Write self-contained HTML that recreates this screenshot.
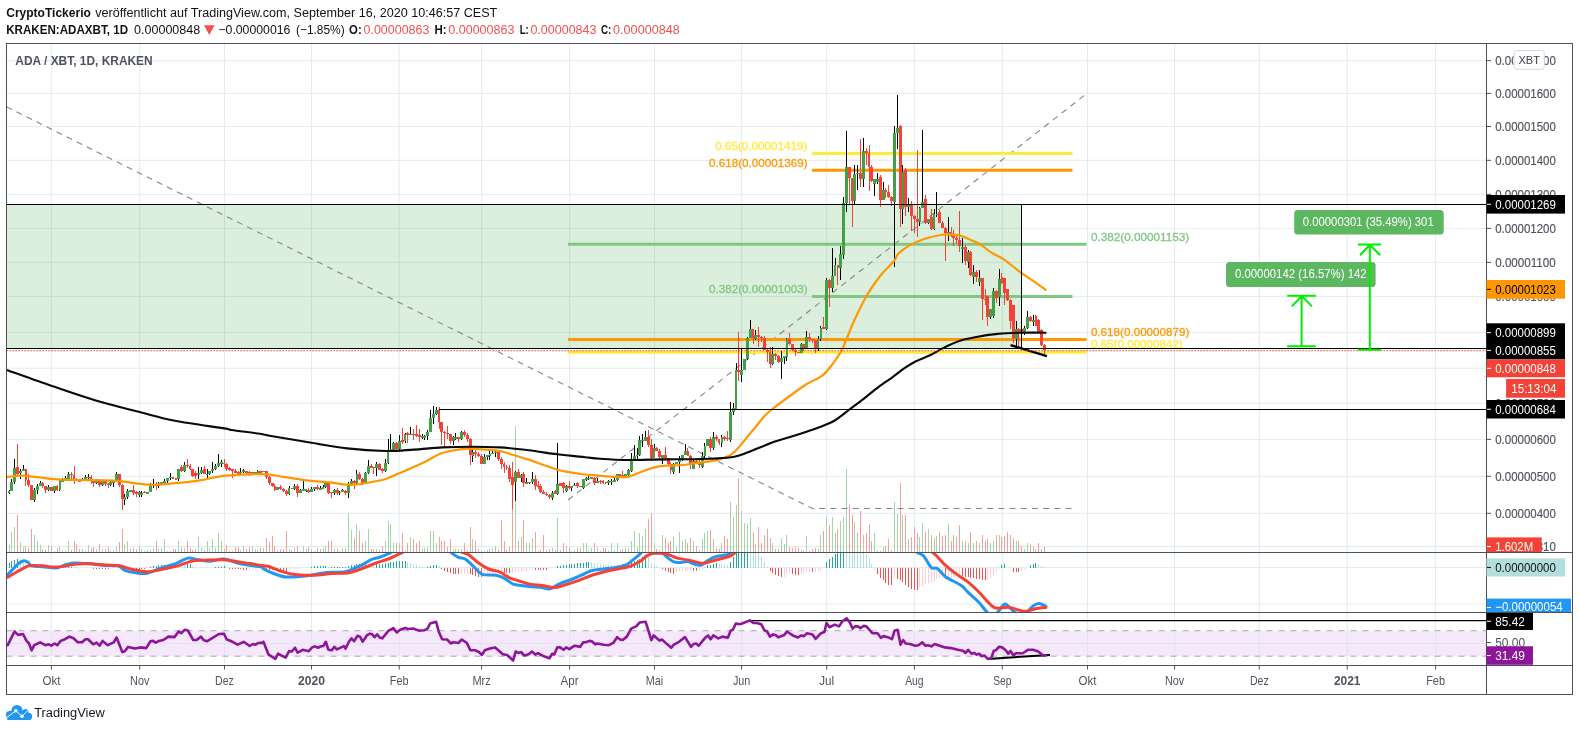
<!DOCTYPE html><html><head><meta charset="utf-8"><title>ADA / XBT</title>
<style>html,body{margin:0;padding:0;background:#fff;}body{width:1579px;height:731px;overflow:hidden;font-family:"Liberation Sans", sans-serif;}svg{display:block;font-family:"Liberation Sans", sans-serif;will-change:transform;}</style></head><body>
<svg width="1579" height="731" viewBox="0 0 1579 731">
<rect width="1579" height="731" fill="#fff"/>
<defs>
<clipPath id="cm"><rect x="6.5" y="43.5" width="1480.0" height="509.0"/></clipPath>
<clipPath id="cmacd"><rect x="6.5" y="553.0" width="1480.0" height="59.0"/></clipPath>
<clipPath id="crsi"><rect x="6.5" y="613.0" width="1480.0" height="52.0"/></clipPath>
</defs>
<text x="6.2" y="16.6" font-size="12.5" fill="#111" font-weight="bold" text-anchor="start" textLength="84.7" lengthAdjust="spacingAndGlyphs" >CryptoTickerio</text>
<text x="95.3" y="16.6" font-size="12.5" fill="#111" font-weight="normal" text-anchor="start" textLength="402" lengthAdjust="spacingAndGlyphs" >veröffentlicht auf TradingView.com, September 16, 2020 10:46:57 CEST</text>
<text x="6.2" y="33.7" font-size="12.5" fill="#111" font-weight="bold" text-anchor="start" textLength="121.9" lengthAdjust="spacingAndGlyphs" >KRAKEN:ADAXBT, 1D</text>
<text x="134.1" y="33.7" font-size="12.5" fill="#111" font-weight="normal" text-anchor="start" textLength="66.1" lengthAdjust="spacingAndGlyphs" >0.00000848</text>
<path d="M204,25.2 L214.6,25.2 L209.3,35 Z" fill="#ef5350"/>
<text x="218.4" y="33.7" font-size="12.5" fill="#111" font-weight="normal" text-anchor="start" textLength="72" lengthAdjust="spacingAndGlyphs" >−0.00000016</text>
<text x="296" y="33.7" font-size="12.5" fill="#111" font-weight="normal" text-anchor="start" textLength="48.7" lengthAdjust="spacingAndGlyphs" >(−1.85%)</text>
<text x="349.1" y="33.7" font-size="12.5" fill="#111" font-weight="bold" text-anchor="start" textLength="12.6" lengthAdjust="spacingAndGlyphs" >O:</text>
<text x="363.5" y="33.7" font-size="12.5" fill="#ef5350" font-weight="normal" text-anchor="start" textLength="65.9" lengthAdjust="spacingAndGlyphs" >0.00000863</text>
<text x="434.6" y="33.7" font-size="12.5" fill="#111" font-weight="bold" text-anchor="start" textLength="12.1" lengthAdjust="spacingAndGlyphs" >H:</text>
<text x="448.3" y="33.7" font-size="12.5" fill="#ef5350" font-weight="normal" text-anchor="start" textLength="66.1" lengthAdjust="spacingAndGlyphs" >0.00000863</text>
<text x="519.7" y="33.7" font-size="12.5" fill="#111" font-weight="bold" text-anchor="start" textLength="9.1" lengthAdjust="spacingAndGlyphs" >L:</text>
<text x="530.4" y="33.7" font-size="12.5" fill="#ef5350" font-weight="normal" text-anchor="start" textLength="66.1" lengthAdjust="spacingAndGlyphs" >0.00000843</text>
<text x="601" y="33.7" font-size="12.5" fill="#111" font-weight="bold" text-anchor="start" textLength="10.3" lengthAdjust="spacingAndGlyphs" >C:</text>
<text x="613.1" y="33.7" font-size="12.5" fill="#ef5350" font-weight="normal" text-anchor="start" textLength="66.6" lengthAdjust="spacingAndGlyphs" >0.00000848</text>
<g stroke="#e1ecf2" stroke-width="1" fill="none">
<line x1="51.4" y1="43.5" x2="51.4" y2="665.5"/>
<line x1="139.7" y1="43.5" x2="139.7" y2="665.5"/>
<line x1="224.5" y1="43.5" x2="224.5" y2="665.5"/>
<line x1="311.5" y1="43.5" x2="311.5" y2="665.5"/>
<line x1="399.2" y1="43.5" x2="399.2" y2="665.5"/>
<line x1="481.6" y1="43.5" x2="481.6" y2="665.5"/>
<line x1="569.6" y1="43.5" x2="569.6" y2="665.5"/>
<line x1="654.5" y1="43.5" x2="654.5" y2="665.5"/>
<line x1="741.6" y1="43.5" x2="741.6" y2="665.5"/>
<line x1="826.7" y1="43.5" x2="826.7" y2="665.5"/>
<line x1="914.4" y1="43.5" x2="914.4" y2="665.5"/>
<line x1="1002.3" y1="43.5" x2="1002.3" y2="665.5"/>
<line x1="1087.5" y1="43.5" x2="1087.5" y2="665.5"/>
<line x1="1174.6" y1="43.5" x2="1174.6" y2="665.5"/>
<line x1="1259.3" y1="43.5" x2="1259.3" y2="665.5"/>
<line x1="1347.2" y1="43.5" x2="1347.2" y2="665.5"/>
<line x1="1435.6" y1="43.5" x2="1435.6" y2="665.5"/>
<line x1="6.5" y1="60.6" x2="1486.5" y2="60.6"/>
<line x1="6.5" y1="93.4" x2="1486.5" y2="93.4"/>
<line x1="6.5" y1="126.5" x2="1486.5" y2="126.5"/>
<line x1="6.5" y1="160.3" x2="1486.5" y2="160.3"/>
<line x1="6.5" y1="194.4" x2="1486.5" y2="194.4"/>
<line x1="6.5" y1="228.4" x2="1486.5" y2="228.4"/>
<line x1="6.5" y1="262.4" x2="1486.5" y2="262.4"/>
<line x1="6.5" y1="296.6" x2="1486.5" y2="296.6"/>
<line x1="6.5" y1="332.3" x2="1486.5" y2="332.3"/>
<line x1="6.5" y1="368.2" x2="1486.5" y2="368.2"/>
<line x1="6.5" y1="403.3" x2="1486.5" y2="403.3"/>
<line x1="6.5" y1="439.4" x2="1486.5" y2="439.4"/>
<line x1="6.5" y1="476.3" x2="1486.5" y2="476.3"/>
<line x1="6.5" y1="513.3" x2="1486.5" y2="513.3"/>
<line x1="6.5" y1="546.5" x2="1486.5" y2="546.5"/>
<line x1="6.5" y1="567.5" x2="1486.5" y2="567.5"/>
<line x1="6.5" y1="604" x2="1486.5" y2="604"/>
<line x1="6.5" y1="643.5" x2="1486.5" y2="643.5"/>
</g>
<rect x="6.5" y="630.7" width="1480.0" height="25.5" fill="#f4e8fa"/>
<g stroke="#d5dfea" stroke-width="1" opacity="0.55">
<line x1="51.4" y1="630.7" x2="51.4" y2="656.2"/>
<line x1="139.7" y1="630.7" x2="139.7" y2="656.2"/>
<line x1="224.5" y1="630.7" x2="224.5" y2="656.2"/>
<line x1="311.5" y1="630.7" x2="311.5" y2="656.2"/>
<line x1="399.2" y1="630.7" x2="399.2" y2="656.2"/>
<line x1="481.6" y1="630.7" x2="481.6" y2="656.2"/>
<line x1="569.6" y1="630.7" x2="569.6" y2="656.2"/>
<line x1="654.5" y1="630.7" x2="654.5" y2="656.2"/>
<line x1="741.6" y1="630.7" x2="741.6" y2="656.2"/>
<line x1="826.7" y1="630.7" x2="826.7" y2="656.2"/>
<line x1="914.4" y1="630.7" x2="914.4" y2="656.2"/>
<line x1="1002.3" y1="630.7" x2="1002.3" y2="656.2"/>
<line x1="1087.5" y1="630.7" x2="1087.5" y2="656.2"/>
<line x1="1174.6" y1="630.7" x2="1174.6" y2="656.2"/>
<line x1="1259.3" y1="630.7" x2="1259.3" y2="656.2"/>
<line x1="1347.2" y1="630.7" x2="1347.2" y2="656.2"/>
<line x1="1435.6" y1="630.7" x2="1435.6" y2="656.2"/>
<line x1="6.5" y1="643.5" x2="1486.5" y2="643.5"/>
</g>
<g stroke="#a9a9b0" stroke-width="1" stroke-dasharray="6,6">
<line x1="6.5" y1="630.7" x2="1486.5" y2="630.7"/><line x1="6.5" y1="656.2" x2="1486.5" y2="656.2"/>
</g>
<rect x="6.5" y="204.5" width="1015.1" height="144" fill="#4caf50" fill-opacity="0.2"/>
<g clip-path="url(#cm)" stroke-width="1" shape-rendering="crispEdges">
<line x1="9" y1="544.81" x2="9" y2="552.5" stroke="#a5d6a7"/>
<line x1="11.83" y1="532.32" x2="11.83" y2="552.5" stroke="#a5d6a7"/>
<line x1="14.66" y1="526.51" x2="14.66" y2="552.5" stroke="#a5d6a7"/>
<line x1="17.49" y1="515.39" x2="17.49" y2="552.5" stroke="#f4a19b"/>
<line x1="20.32" y1="542.24" x2="20.32" y2="552.5" stroke="#a5d6a7"/>
<line x1="23.15" y1="546.52" x2="23.15" y2="552.5" stroke="#a5d6a7"/>
<line x1="25.97" y1="545.66" x2="25.97" y2="552.5" stroke="#f4a19b"/>
<line x1="28.8" y1="547.71" x2="28.8" y2="552.5" stroke="#f4a19b"/>
<line x1="31.63" y1="529.42" x2="31.63" y2="552.5" stroke="#f4a19b"/>
<line x1="34.46" y1="534.55" x2="34.46" y2="552.5" stroke="#a5d6a7"/>
<line x1="37.29" y1="540.53" x2="37.29" y2="552.5" stroke="#a5d6a7"/>
<line x1="40.12" y1="544.81" x2="40.12" y2="552.5" stroke="#a5d6a7"/>
<line x1="42.95" y1="548.5" x2="42.95" y2="552.5" stroke="#f4a19b"/>
<line x1="45.78" y1="549.5" x2="45.78" y2="552.5" stroke="#f4a19b"/>
<line x1="48.61" y1="544.81" x2="48.61" y2="552.5" stroke="#a5d6a7"/>
<line x1="51.44" y1="545.5" x2="51.44" y2="552.5" stroke="#f4a19b"/>
<line x1="54.26" y1="550.5" x2="54.26" y2="552.5" stroke="#a5d6a7"/>
<line x1="57.09" y1="547.5" x2="57.09" y2="552.5" stroke="#f4a19b"/>
<line x1="59.92" y1="546.5" x2="59.92" y2="552.5" stroke="#a5d6a7"/>
<line x1="62.75" y1="549.5" x2="62.75" y2="552.5" stroke="#a5d6a7"/>
<line x1="65.58" y1="550.5" x2="65.58" y2="552.5" stroke="#a5d6a7"/>
<line x1="68.41" y1="540.53" x2="68.41" y2="552.5" stroke="#a5d6a7"/>
<line x1="71.24" y1="549.5" x2="71.24" y2="552.5" stroke="#f4a19b"/>
<line x1="74.07" y1="540.53" x2="74.07" y2="552.5" stroke="#f4a19b"/>
<line x1="76.9" y1="543.61" x2="76.9" y2="552.5" stroke="#f4a19b"/>
<line x1="79.73" y1="548.5" x2="79.73" y2="552.5" stroke="#f4a19b"/>
<line x1="82.55" y1="548.5" x2="82.55" y2="552.5" stroke="#a5d6a7"/>
<line x1="85.38" y1="550.5" x2="85.38" y2="552.5" stroke="#a5d6a7"/>
<line x1="88.21" y1="544.81" x2="88.21" y2="552.5" stroke="#a5d6a7"/>
<line x1="91.04" y1="547.5" x2="91.04" y2="552.5" stroke="#f4a19b"/>
<line x1="93.87" y1="546.5" x2="93.87" y2="552.5" stroke="#f4a19b"/>
<line x1="96.7" y1="548.5" x2="96.7" y2="552.5" stroke="#a5d6a7"/>
<line x1="99.53" y1="543.61" x2="99.53" y2="552.5" stroke="#f4a19b"/>
<line x1="102.36" y1="548.5" x2="102.36" y2="552.5" stroke="#a5d6a7"/>
<line x1="105.19" y1="548.5" x2="105.19" y2="552.5" stroke="#f4a19b"/>
<line x1="108.02" y1="546.5" x2="108.02" y2="552.5" stroke="#f4a19b"/>
<line x1="110.84" y1="550.5" x2="110.84" y2="552.5" stroke="#a5d6a7"/>
<line x1="113.67" y1="549.5" x2="113.67" y2="552.5" stroke="#a5d6a7"/>
<line x1="116.5" y1="546.5" x2="116.5" y2="552.5" stroke="#a5d6a7"/>
<line x1="119.33" y1="542.24" x2="119.33" y2="552.5" stroke="#f4a19b"/>
<line x1="122.16" y1="529.42" x2="122.16" y2="552.5" stroke="#f4a19b"/>
<line x1="124.99" y1="544.81" x2="124.99" y2="552.5" stroke="#a5d6a7"/>
<line x1="127.82" y1="541.39" x2="127.82" y2="552.5" stroke="#a5d6a7"/>
<line x1="130.65" y1="548.5" x2="130.65" y2="552.5" stroke="#a5d6a7"/>
<line x1="133.48" y1="547.5" x2="133.48" y2="552.5" stroke="#f4a19b"/>
<line x1="136.31" y1="548.5" x2="136.31" y2="552.5" stroke="#f4a19b"/>
<line x1="139.13" y1="545.5" x2="139.13" y2="552.5" stroke="#a5d6a7"/>
<line x1="141.96" y1="548.5" x2="141.96" y2="552.5" stroke="#a5d6a7"/>
<line x1="144.79" y1="550.5" x2="144.79" y2="552.5" stroke="#f4a19b"/>
<line x1="147.62" y1="549.5" x2="147.62" y2="552.5" stroke="#a5d6a7"/>
<line x1="150.45" y1="549.5" x2="150.45" y2="552.5" stroke="#a5d6a7"/>
<line x1="153.28" y1="547.5" x2="153.28" y2="552.5" stroke="#a5d6a7"/>
<line x1="156.11" y1="541.39" x2="156.11" y2="552.5" stroke="#f4a19b"/>
<line x1="158.94" y1="548.5" x2="158.94" y2="552.5" stroke="#a5d6a7"/>
<line x1="161.77" y1="547.5" x2="161.77" y2="552.5" stroke="#a5d6a7"/>
<line x1="164.59" y1="539.33" x2="164.59" y2="552.5" stroke="#a5d6a7"/>
<line x1="167.42" y1="550.5" x2="167.42" y2="552.5" stroke="#a5d6a7"/>
<line x1="170.25" y1="550.5" x2="170.25" y2="552.5" stroke="#a5d6a7"/>
<line x1="173.08" y1="548.5" x2="173.08" y2="552.5" stroke="#f4a19b"/>
<line x1="175.91" y1="548.5" x2="175.91" y2="552.5" stroke="#f4a19b"/>
<line x1="178.74" y1="540.53" x2="178.74" y2="552.5" stroke="#a5d6a7"/>
<line x1="181.57" y1="546.5" x2="181.57" y2="552.5" stroke="#f4a19b"/>
<line x1="184.4" y1="547.5" x2="184.4" y2="552.5" stroke="#a5d6a7"/>
<line x1="187.23" y1="540.53" x2="187.23" y2="552.5" stroke="#f4a19b"/>
<line x1="190.06" y1="547.5" x2="190.06" y2="552.5" stroke="#f4a19b"/>
<line x1="192.89" y1="549.5" x2="192.89" y2="552.5" stroke="#f4a19b"/>
<line x1="195.71" y1="548.5" x2="195.71" y2="552.5" stroke="#f4a19b"/>
<line x1="198.54" y1="537.45" x2="198.54" y2="552.5" stroke="#a5d6a7"/>
<line x1="201.37" y1="547.5" x2="201.37" y2="552.5" stroke="#a5d6a7"/>
<line x1="204.2" y1="549.5" x2="204.2" y2="552.5" stroke="#f4a19b"/>
<line x1="207.03" y1="541.39" x2="207.03" y2="552.5" stroke="#a5d6a7"/>
<line x1="209.86" y1="547.5" x2="209.86" y2="552.5" stroke="#a5d6a7"/>
<line x1="212.69" y1="539.33" x2="212.69" y2="552.5" stroke="#a5d6a7"/>
<line x1="215.52" y1="547.5" x2="215.52" y2="552.5" stroke="#a5d6a7"/>
<line x1="218.35" y1="533.35" x2="218.35" y2="552.5" stroke="#a5d6a7"/>
<line x1="221.18" y1="540.53" x2="221.18" y2="552.5" stroke="#a5d6a7"/>
<line x1="224" y1="548.5" x2="224" y2="552.5" stroke="#f4a19b"/>
<line x1="226.83" y1="544.81" x2="226.83" y2="552.5" stroke="#f4a19b"/>
<line x1="229.66" y1="550.5" x2="229.66" y2="552.5" stroke="#f4a19b"/>
<line x1="232.49" y1="550.5" x2="232.49" y2="552.5" stroke="#f4a19b"/>
<line x1="235.32" y1="546.5" x2="235.32" y2="552.5" stroke="#f4a19b"/>
<line x1="238.15" y1="546.5" x2="238.15" y2="552.5" stroke="#f4a19b"/>
<line x1="240.98" y1="549.5" x2="240.98" y2="552.5" stroke="#a5d6a7"/>
<line x1="243.81" y1="545.5" x2="243.81" y2="552.5" stroke="#a5d6a7"/>
<line x1="246.64" y1="548.5" x2="246.64" y2="552.5" stroke="#f4a19b"/>
<line x1="249.47" y1="546.5" x2="249.47" y2="552.5" stroke="#f4a19b"/>
<line x1="252.29" y1="545.5" x2="252.29" y2="552.5" stroke="#a5d6a7"/>
<line x1="255.12" y1="548.5" x2="255.12" y2="552.5" stroke="#a5d6a7"/>
<line x1="257.95" y1="549.5" x2="257.95" y2="552.5" stroke="#a5d6a7"/>
<line x1="260.78" y1="547.5" x2="260.78" y2="552.5" stroke="#f4a19b"/>
<line x1="263.61" y1="547.5" x2="263.61" y2="552.5" stroke="#a5d6a7"/>
<line x1="266.44" y1="538.48" x2="266.44" y2="552.5" stroke="#f4a19b"/>
<line x1="269.27" y1="542.24" x2="269.27" y2="552.5" stroke="#f4a19b"/>
<line x1="272.1" y1="536.26" x2="272.1" y2="552.5" stroke="#f4a19b"/>
<line x1="274.93" y1="545.66" x2="274.93" y2="552.5" stroke="#f4a19b"/>
<line x1="277.75" y1="550.5" x2="277.75" y2="552.5" stroke="#a5d6a7"/>
<line x1="280.58" y1="548.5" x2="280.58" y2="552.5" stroke="#f4a19b"/>
<line x1="283.41" y1="548.5" x2="283.41" y2="552.5" stroke="#f4a19b"/>
<line x1="286.24" y1="531.47" x2="286.24" y2="552.5" stroke="#f4a19b"/>
<line x1="289.07" y1="548.5" x2="289.07" y2="552.5" stroke="#a5d6a7"/>
<line x1="291.9" y1="549.5" x2="291.9" y2="552.5" stroke="#f4a19b"/>
<line x1="294.73" y1="547.5" x2="294.73" y2="552.5" stroke="#a5d6a7"/>
<line x1="297.56" y1="545.66" x2="297.56" y2="552.5" stroke="#f4a19b"/>
<line x1="300.39" y1="550.5" x2="300.39" y2="552.5" stroke="#a5d6a7"/>
<line x1="303.22" y1="545.66" x2="303.22" y2="552.5" stroke="#a5d6a7"/>
<line x1="306.05" y1="548.5" x2="306.05" y2="552.5" stroke="#a5d6a7"/>
<line x1="308.87" y1="546.5" x2="308.87" y2="552.5" stroke="#f4a19b"/>
<line x1="311.7" y1="548.5" x2="311.7" y2="552.5" stroke="#a5d6a7"/>
<line x1="314.53" y1="550.5" x2="314.53" y2="552.5" stroke="#a5d6a7"/>
<line x1="317.36" y1="547.5" x2="317.36" y2="552.5" stroke="#f4a19b"/>
<line x1="320.19" y1="548.5" x2="320.19" y2="552.5" stroke="#a5d6a7"/>
<line x1="323.02" y1="547.5" x2="323.02" y2="552.5" stroke="#a5d6a7"/>
<line x1="325.85" y1="545.66" x2="325.85" y2="552.5" stroke="#a5d6a7"/>
<line x1="328.68" y1="540.53" x2="328.68" y2="552.5" stroke="#f4a19b"/>
<line x1="331.51" y1="540.53" x2="331.51" y2="552.5" stroke="#f4a19b"/>
<line x1="334.34" y1="548.5" x2="334.34" y2="552.5" stroke="#a5d6a7"/>
<line x1="337.16" y1="548.5" x2="337.16" y2="552.5" stroke="#f4a19b"/>
<line x1="339.99" y1="550.5" x2="339.99" y2="552.5" stroke="#a5d6a7"/>
<line x1="342.82" y1="547.5" x2="342.82" y2="552.5" stroke="#a5d6a7"/>
<line x1="345.65" y1="547.5" x2="345.65" y2="552.5" stroke="#f4a19b"/>
<line x1="348.48" y1="513.17" x2="348.48" y2="552.5" stroke="#a5d6a7"/>
<line x1="351.31" y1="530.27" x2="351.31" y2="552.5" stroke="#a5d6a7"/>
<line x1="354.14" y1="538.48" x2="354.14" y2="552.5" stroke="#f4a19b"/>
<line x1="356.97" y1="524.29" x2="356.97" y2="552.5" stroke="#a5d6a7"/>
<line x1="359.8" y1="531.47" x2="359.8" y2="552.5" stroke="#f4a19b"/>
<line x1="362.62" y1="543.44" x2="362.62" y2="552.5" stroke="#f4a19b"/>
<line x1="365.45" y1="540.53" x2="365.45" y2="552.5" stroke="#a5d6a7"/>
<line x1="368.28" y1="529.42" x2="368.28" y2="552.5" stroke="#a5d6a7"/>
<line x1="371.11" y1="548.5" x2="371.11" y2="552.5" stroke="#f4a19b"/>
<line x1="373.94" y1="548.5" x2="373.94" y2="552.5" stroke="#f4a19b"/>
<line x1="376.77" y1="548.5" x2="376.77" y2="552.5" stroke="#a5d6a7"/>
<line x1="379.6" y1="549.5" x2="379.6" y2="552.5" stroke="#f4a19b"/>
<line x1="382.43" y1="545.5" x2="382.43" y2="552.5" stroke="#f4a19b"/>
<line x1="385.26" y1="540.53" x2="385.26" y2="552.5" stroke="#a5d6a7"/>
<line x1="388.09" y1="521.38" x2="388.09" y2="552.5" stroke="#a5d6a7"/>
<line x1="390.92" y1="524.29" x2="390.92" y2="552.5" stroke="#a5d6a7"/>
<line x1="393.74" y1="542.58" x2="393.74" y2="552.5" stroke="#a5d6a7"/>
<line x1="396.57" y1="543.44" x2="396.57" y2="552.5" stroke="#f4a19b"/>
<line x1="399.4" y1="543.44" x2="399.4" y2="552.5" stroke="#a5d6a7"/>
<line x1="402.23" y1="533.35" x2="402.23" y2="552.5" stroke="#f4a19b"/>
<line x1="405.06" y1="549.5" x2="405.06" y2="552.5" stroke="#a5d6a7"/>
<line x1="407.89" y1="542.58" x2="407.89" y2="552.5" stroke="#f4a19b"/>
<line x1="410.72" y1="537.45" x2="410.72" y2="552.5" stroke="#a5d6a7"/>
<line x1="413.55" y1="539.33" x2="413.55" y2="552.5" stroke="#f4a19b"/>
<line x1="416.38" y1="542.58" x2="416.38" y2="552.5" stroke="#f4a19b"/>
<line x1="419.21" y1="540.53" x2="419.21" y2="552.5" stroke="#f4a19b"/>
<line x1="422.03" y1="548.5" x2="422.03" y2="552.5" stroke="#a5d6a7"/>
<line x1="424.86" y1="547.5" x2="424.86" y2="552.5" stroke="#a5d6a7"/>
<line x1="427.69" y1="546.5" x2="427.69" y2="552.5" stroke="#a5d6a7"/>
<line x1="430.52" y1="531.47" x2="430.52" y2="552.5" stroke="#a5d6a7"/>
<line x1="433.35" y1="531.47" x2="433.35" y2="552.5" stroke="#a5d6a7"/>
<line x1="436.18" y1="543.44" x2="436.18" y2="552.5" stroke="#a5d6a7"/>
<line x1="439.01" y1="537.45" x2="439.01" y2="552.5" stroke="#f4a19b"/>
<line x1="441.84" y1="540.53" x2="441.84" y2="552.5" stroke="#f4a19b"/>
<line x1="444.67" y1="541.39" x2="444.67" y2="552.5" stroke="#f4a19b"/>
<line x1="447.5" y1="546.5" x2="447.5" y2="552.5" stroke="#f4a19b"/>
<line x1="450.32" y1="539.33" x2="450.32" y2="552.5" stroke="#f4a19b"/>
<line x1="453.15" y1="549.5" x2="453.15" y2="552.5" stroke="#a5d6a7"/>
<line x1="455.98" y1="548.5" x2="455.98" y2="552.5" stroke="#a5d6a7"/>
<line x1="458.81" y1="548.5" x2="458.81" y2="552.5" stroke="#f4a19b"/>
<line x1="461.64" y1="548.5" x2="461.64" y2="552.5" stroke="#a5d6a7"/>
<line x1="464.47" y1="543.44" x2="464.47" y2="552.5" stroke="#f4a19b"/>
<line x1="467.3" y1="549.5" x2="467.3" y2="552.5" stroke="#f4a19b"/>
<line x1="470.13" y1="526.51" x2="470.13" y2="552.5" stroke="#f4a19b"/>
<line x1="472.96" y1="539.33" x2="472.96" y2="552.5" stroke="#a5d6a7"/>
<line x1="475.79" y1="541.39" x2="475.79" y2="552.5" stroke="#f4a19b"/>
<line x1="478.61" y1="548.5" x2="478.61" y2="552.5" stroke="#f4a19b"/>
<line x1="481.44" y1="550.5" x2="481.44" y2="552.5" stroke="#f4a19b"/>
<line x1="484.27" y1="550.5" x2="484.27" y2="552.5" stroke="#a5d6a7"/>
<line x1="487.1" y1="549.5" x2="487.1" y2="552.5" stroke="#a5d6a7"/>
<line x1="489.93" y1="548.5" x2="489.93" y2="552.5" stroke="#a5d6a7"/>
<line x1="492.76" y1="547.5" x2="492.76" y2="552.5" stroke="#a5d6a7"/>
<line x1="495.59" y1="545.5" x2="495.59" y2="552.5" stroke="#a5d6a7"/>
<line x1="498.42" y1="549.5" x2="498.42" y2="552.5" stroke="#f4a19b"/>
<line x1="501.25" y1="520.35" x2="501.25" y2="552.5" stroke="#f4a19b"/>
<line x1="504.08" y1="540.53" x2="504.08" y2="552.5" stroke="#f4a19b"/>
<line x1="506.9" y1="549.5" x2="506.9" y2="552.5" stroke="#f4a19b"/>
<line x1="509.73" y1="546.5" x2="509.73" y2="552.5" stroke="#f4a19b"/>
<line x1="512.56" y1="484.1" x2="512.56" y2="552.5" stroke="#f4a19b"/>
<line x1="515.39" y1="425.62" x2="515.39" y2="552.5" stroke="#a5d6a7"/>
<line x1="518.22" y1="541.39" x2="518.22" y2="552.5" stroke="#f4a19b"/>
<line x1="521.05" y1="537.45" x2="521.05" y2="552.5" stroke="#a5d6a7"/>
<line x1="523.88" y1="520.35" x2="523.88" y2="552.5" stroke="#f4a19b"/>
<line x1="526.71" y1="542.58" x2="526.71" y2="552.5" stroke="#a5d6a7"/>
<line x1="529.54" y1="543.44" x2="529.54" y2="552.5" stroke="#a5d6a7"/>
<line x1="532.37" y1="538.48" x2="532.37" y2="552.5" stroke="#a5d6a7"/>
<line x1="535.19" y1="532.32" x2="535.19" y2="552.5" stroke="#f4a19b"/>
<line x1="538.02" y1="550.5" x2="538.02" y2="552.5" stroke="#f4a19b"/>
<line x1="540.85" y1="549.5" x2="540.85" y2="552.5" stroke="#f4a19b"/>
<line x1="543.68" y1="535.4" x2="543.68" y2="552.5" stroke="#f4a19b"/>
<line x1="546.51" y1="549.5" x2="546.51" y2="552.5" stroke="#f4a19b"/>
<line x1="549.34" y1="548.5" x2="549.34" y2="552.5" stroke="#f4a19b"/>
<line x1="552.17" y1="547.5" x2="552.17" y2="552.5" stroke="#a5d6a7"/>
<line x1="555" y1="549.5" x2="555" y2="552.5" stroke="#f4a19b"/>
<line x1="557.83" y1="518.3" x2="557.83" y2="552.5" stroke="#a5d6a7"/>
<line x1="560.66" y1="549.5" x2="560.66" y2="552.5" stroke="#f4a19b"/>
<line x1="563.48" y1="542.58" x2="563.48" y2="552.5" stroke="#f4a19b"/>
<line x1="566.31" y1="545.5" x2="566.31" y2="552.5" stroke="#a5d6a7"/>
<line x1="569.14" y1="547.5" x2="569.14" y2="552.5" stroke="#f4a19b"/>
<line x1="571.97" y1="550.5" x2="571.97" y2="552.5" stroke="#a5d6a7"/>
<line x1="574.8" y1="549.5" x2="574.8" y2="552.5" stroke="#a5d6a7"/>
<line x1="577.63" y1="547.5" x2="577.63" y2="552.5" stroke="#f4a19b"/>
<line x1="580.46" y1="547.5" x2="580.46" y2="552.5" stroke="#f4a19b"/>
<line x1="583.29" y1="542.58" x2="583.29" y2="552.5" stroke="#a5d6a7"/>
<line x1="586.12" y1="542.58" x2="586.12" y2="552.5" stroke="#a5d6a7"/>
<line x1="588.95" y1="549.5" x2="588.95" y2="552.5" stroke="#a5d6a7"/>
<line x1="591.77" y1="547.5" x2="591.77" y2="552.5" stroke="#a5d6a7"/>
<line x1="594.6" y1="543.44" x2="594.6" y2="552.5" stroke="#f4a19b"/>
<line x1="597.43" y1="546.5" x2="597.43" y2="552.5" stroke="#a5d6a7"/>
<line x1="600.26" y1="550.5" x2="600.26" y2="552.5" stroke="#f4a19b"/>
<line x1="603.09" y1="547.5" x2="603.09" y2="552.5" stroke="#f4a19b"/>
<line x1="605.92" y1="547.5" x2="605.92" y2="552.5" stroke="#f4a19b"/>
<line x1="608.75" y1="550.5" x2="608.75" y2="552.5" stroke="#a5d6a7"/>
<line x1="611.58" y1="542.58" x2="611.58" y2="552.5" stroke="#a5d6a7"/>
<line x1="614.41" y1="549.5" x2="614.41" y2="552.5" stroke="#a5d6a7"/>
<line x1="617.24" y1="543.44" x2="617.24" y2="552.5" stroke="#a5d6a7"/>
<line x1="620.06" y1="549.5" x2="620.06" y2="552.5" stroke="#f4a19b"/>
<line x1="622.89" y1="548.5" x2="622.89" y2="552.5" stroke="#f4a19b"/>
<line x1="625.72" y1="547.5" x2="625.72" y2="552.5" stroke="#a5d6a7"/>
<line x1="628.55" y1="547.5" x2="628.55" y2="552.5" stroke="#a5d6a7"/>
<line x1="631.38" y1="541.39" x2="631.38" y2="552.5" stroke="#a5d6a7"/>
<line x1="634.21" y1="531.47" x2="634.21" y2="552.5" stroke="#a5d6a7"/>
<line x1="637.04" y1="546.5" x2="637.04" y2="552.5" stroke="#a5d6a7"/>
<line x1="639.87" y1="533.35" x2="639.87" y2="552.5" stroke="#a5d6a7"/>
<line x1="642.7" y1="536.26" x2="642.7" y2="552.5" stroke="#a5d6a7"/>
<line x1="645.53" y1="529.42" x2="645.53" y2="552.5" stroke="#a5d6a7"/>
<line x1="648.35" y1="519.16" x2="648.35" y2="552.5" stroke="#f4a19b"/>
<line x1="651.18" y1="513.17" x2="651.18" y2="552.5" stroke="#f4a19b"/>
<line x1="654.01" y1="543.44" x2="654.01" y2="552.5" stroke="#a5d6a7"/>
<line x1="656.84" y1="548.5" x2="656.84" y2="552.5" stroke="#f4a19b"/>
<line x1="659.67" y1="549.5" x2="659.67" y2="552.5" stroke="#f4a19b"/>
<line x1="662.5" y1="534.55" x2="662.5" y2="552.5" stroke="#a5d6a7"/>
<line x1="665.33" y1="538.48" x2="665.33" y2="552.5" stroke="#f4a19b"/>
<line x1="668.16" y1="543.44" x2="668.16" y2="552.5" stroke="#f4a19b"/>
<line x1="670.99" y1="541.39" x2="670.99" y2="552.5" stroke="#f4a19b"/>
<line x1="673.82" y1="537.45" x2="673.82" y2="552.5" stroke="#a5d6a7"/>
<line x1="676.64" y1="546.5" x2="676.64" y2="552.5" stroke="#a5d6a7"/>
<line x1="679.47" y1="532.32" x2="679.47" y2="552.5" stroke="#a5d6a7"/>
<line x1="682.3" y1="540.53" x2="682.3" y2="552.5" stroke="#a5d6a7"/>
<line x1="685.13" y1="539.33" x2="685.13" y2="552.5" stroke="#a5d6a7"/>
<line x1="687.96" y1="542.58" x2="687.96" y2="552.5" stroke="#f4a19b"/>
<line x1="690.79" y1="538.48" x2="690.79" y2="552.5" stroke="#f4a19b"/>
<line x1="693.62" y1="541.39" x2="693.62" y2="552.5" stroke="#a5d6a7"/>
<line x1="696.45" y1="545.5" x2="696.45" y2="552.5" stroke="#f4a19b"/>
<line x1="699.28" y1="549.5" x2="699.28" y2="552.5" stroke="#f4a19b"/>
<line x1="702.11" y1="539.33" x2="702.11" y2="552.5" stroke="#a5d6a7"/>
<line x1="704.93" y1="533.35" x2="704.93" y2="552.5" stroke="#a5d6a7"/>
<line x1="707.76" y1="531.47" x2="707.76" y2="552.5" stroke="#a5d6a7"/>
<line x1="710.59" y1="530.27" x2="710.59" y2="552.5" stroke="#f4a19b"/>
<line x1="713.42" y1="539.33" x2="713.42" y2="552.5" stroke="#a5d6a7"/>
<line x1="716.25" y1="547.5" x2="716.25" y2="552.5" stroke="#f4a19b"/>
<line x1="719.08" y1="548.5" x2="719.08" y2="552.5" stroke="#f4a19b"/>
<line x1="721.91" y1="543.44" x2="721.91" y2="552.5" stroke="#a5d6a7"/>
<line x1="724.74" y1="536.26" x2="724.74" y2="552.5" stroke="#f4a19b"/>
<line x1="727.57" y1="539.33" x2="727.57" y2="552.5" stroke="#f4a19b"/>
<line x1="730.4" y1="502.4" x2="730.4" y2="552.5" stroke="#a5d6a7"/>
<line x1="733.22" y1="517.45" x2="733.22" y2="552.5" stroke="#a5d6a7"/>
<line x1="736.05" y1="504.62" x2="736.05" y2="552.5" stroke="#a5d6a7"/>
<line x1="738.88" y1="478.46" x2="738.88" y2="552.5" stroke="#f4a19b"/>
<line x1="741.71" y1="511.46" x2="741.71" y2="552.5" stroke="#a5d6a7"/>
<line x1="744.54" y1="523.43" x2="744.54" y2="552.5" stroke="#a5d6a7"/>
<line x1="747.37" y1="524.29" x2="747.37" y2="552.5" stroke="#a5d6a7"/>
<line x1="750.2" y1="518.3" x2="750.2" y2="552.5" stroke="#a5d6a7"/>
<line x1="753.03" y1="532.32" x2="753.03" y2="552.5" stroke="#f4a19b"/>
<line x1="755.86" y1="544.46" x2="755.86" y2="552.5" stroke="#a5d6a7"/>
<line x1="758.69" y1="527.36" x2="758.69" y2="552.5" stroke="#f4a19b"/>
<line x1="761.51" y1="542.58" x2="761.51" y2="552.5" stroke="#f4a19b"/>
<line x1="764.34" y1="535.4" x2="764.34" y2="552.5" stroke="#f4a19b"/>
<line x1="767.17" y1="528.56" x2="767.17" y2="552.5" stroke="#f4a19b"/>
<line x1="770" y1="538.48" x2="770" y2="552.5" stroke="#f4a19b"/>
<line x1="772.83" y1="542.58" x2="772.83" y2="552.5" stroke="#a5d6a7"/>
<line x1="775.66" y1="548.5" x2="775.66" y2="552.5" stroke="#f4a19b"/>
<line x1="778.49" y1="548.5" x2="778.49" y2="552.5" stroke="#f4a19b"/>
<line x1="781.32" y1="538.48" x2="781.32" y2="552.5" stroke="#a5d6a7"/>
<line x1="784.15" y1="544.46" x2="784.15" y2="552.5" stroke="#a5d6a7"/>
<line x1="786.98" y1="535.4" x2="786.98" y2="552.5" stroke="#a5d6a7"/>
<line x1="789.8" y1="546.5" x2="789.8" y2="552.5" stroke="#f4a19b"/>
<line x1="792.63" y1="547.5" x2="792.63" y2="552.5" stroke="#f4a19b"/>
<line x1="795.46" y1="546.5" x2="795.46" y2="552.5" stroke="#f4a19b"/>
<line x1="798.29" y1="547.5" x2="798.29" y2="552.5" stroke="#f4a19b"/>
<line x1="801.12" y1="549.5" x2="801.12" y2="552.5" stroke="#a5d6a7"/>
<line x1="803.95" y1="550.5" x2="803.95" y2="552.5" stroke="#f4a19b"/>
<line x1="806.78" y1="536.26" x2="806.78" y2="552.5" stroke="#a5d6a7"/>
<line x1="809.61" y1="550.5" x2="809.61" y2="552.5" stroke="#f4a19b"/>
<line x1="812.44" y1="548.5" x2="812.44" y2="552.5" stroke="#f4a19b"/>
<line x1="815.27" y1="547.5" x2="815.27" y2="552.5" stroke="#f4a19b"/>
<line x1="818.09" y1="548.5" x2="818.09" y2="552.5" stroke="#a5d6a7"/>
<line x1="820.92" y1="535.4" x2="820.92" y2="552.5" stroke="#a5d6a7"/>
<line x1="823.75" y1="531.47" x2="823.75" y2="552.5" stroke="#f4a19b"/>
<line x1="826.58" y1="517.45" x2="826.58" y2="552.5" stroke="#a5d6a7"/>
<line x1="829.41" y1="525.48" x2="829.41" y2="552.5" stroke="#f4a19b"/>
<line x1="832.24" y1="516.59" x2="832.24" y2="552.5" stroke="#a5d6a7"/>
<line x1="835.07" y1="533.35" x2="835.07" y2="552.5" stroke="#a5d6a7"/>
<line x1="837.9" y1="529.42" x2="837.9" y2="552.5" stroke="#f4a19b"/>
<line x1="840.73" y1="521.38" x2="840.73" y2="552.5" stroke="#a5d6a7"/>
<line x1="843.56" y1="516.59" x2="843.56" y2="552.5" stroke="#a5d6a7"/>
<line x1="846.38" y1="468.54" x2="846.38" y2="552.5" stroke="#a5d6a7"/>
<line x1="849.21" y1="504.62" x2="849.21" y2="552.5" stroke="#f4a19b"/>
<line x1="852.04" y1="515.39" x2="852.04" y2="552.5" stroke="#f4a19b"/>
<line x1="854.87" y1="522.23" x2="854.87" y2="552.5" stroke="#a5d6a7"/>
<line x1="857.7" y1="533.35" x2="857.7" y2="552.5" stroke="#a5d6a7"/>
<line x1="860.53" y1="511.46" x2="860.53" y2="552.5" stroke="#f4a19b"/>
<line x1="863.36" y1="534.55" x2="863.36" y2="552.5" stroke="#a5d6a7"/>
<line x1="866.19" y1="533.35" x2="866.19" y2="552.5" stroke="#f4a19b"/>
<line x1="869.02" y1="524.29" x2="869.02" y2="552.5" stroke="#f4a19b"/>
<line x1="871.85" y1="541.39" x2="871.85" y2="552.5" stroke="#f4a19b"/>
<line x1="874.67" y1="533.35" x2="874.67" y2="552.5" stroke="#a5d6a7"/>
<line x1="877.5" y1="549.5" x2="877.5" y2="552.5" stroke="#a5d6a7"/>
<line x1="880.33" y1="550.5" x2="880.33" y2="552.5" stroke="#f4a19b"/>
<line x1="883.16" y1="546.5" x2="883.16" y2="552.5" stroke="#a5d6a7"/>
<line x1="885.99" y1="545.5" x2="885.99" y2="552.5" stroke="#f4a19b"/>
<line x1="888.82" y1="539.33" x2="888.82" y2="552.5" stroke="#f4a19b"/>
<line x1="891.65" y1="549.5" x2="891.65" y2="552.5" stroke="#f4a19b"/>
<line x1="894.48" y1="502.4" x2="894.48" y2="552.5" stroke="#a5d6a7"/>
<line x1="897.31" y1="513.51" x2="897.31" y2="552.5" stroke="#a5d6a7"/>
<line x1="900.14" y1="483.42" x2="900.14" y2="552.5" stroke="#f4a19b"/>
<line x1="902.96" y1="514.54" x2="902.96" y2="552.5" stroke="#a5d6a7"/>
<line x1="905.79" y1="515.39" x2="905.79" y2="552.5" stroke="#f4a19b"/>
<line x1="908.62" y1="539.33" x2="908.62" y2="552.5" stroke="#a5d6a7"/>
<line x1="911.45" y1="537.45" x2="911.45" y2="552.5" stroke="#f4a19b"/>
<line x1="914.28" y1="526.51" x2="914.28" y2="552.5" stroke="#f4a19b"/>
<line x1="917.11" y1="533.35" x2="917.11" y2="552.5" stroke="#f4a19b"/>
<line x1="919.94" y1="537.45" x2="919.94" y2="552.5" stroke="#a5d6a7"/>
<line x1="922.77" y1="523.43" x2="922.77" y2="552.5" stroke="#a5d6a7"/>
<line x1="925.6" y1="532.32" x2="925.6" y2="552.5" stroke="#f4a19b"/>
<line x1="928.43" y1="529.42" x2="928.43" y2="552.5" stroke="#a5d6a7"/>
<line x1="931.25" y1="534.55" x2="931.25" y2="552.5" stroke="#f4a19b"/>
<line x1="934.08" y1="538.48" x2="934.08" y2="552.5" stroke="#a5d6a7"/>
<line x1="936.91" y1="536.26" x2="936.91" y2="552.5" stroke="#a5d6a7"/>
<line x1="939.74" y1="532.32" x2="939.74" y2="552.5" stroke="#f4a19b"/>
<line x1="942.57" y1="536.26" x2="942.57" y2="552.5" stroke="#f4a19b"/>
<line x1="945.4" y1="535.4" x2="945.4" y2="552.5" stroke="#f4a19b"/>
<line x1="948.23" y1="524.29" x2="948.23" y2="552.5" stroke="#a5d6a7"/>
<line x1="951.06" y1="540.53" x2="951.06" y2="552.5" stroke="#f4a19b"/>
<line x1="953.89" y1="535.4" x2="953.89" y2="552.5" stroke="#f4a19b"/>
<line x1="956.72" y1="537.45" x2="956.72" y2="552.5" stroke="#f4a19b"/>
<line x1="959.54" y1="525.48" x2="959.54" y2="552.5" stroke="#f4a19b"/>
<line x1="962.37" y1="540.53" x2="962.37" y2="552.5" stroke="#a5d6a7"/>
<line x1="965.2" y1="541.39" x2="965.2" y2="552.5" stroke="#f4a19b"/>
<line x1="968.03" y1="543.44" x2="968.03" y2="552.5" stroke="#a5d6a7"/>
<line x1="970.86" y1="532.32" x2="970.86" y2="552.5" stroke="#f4a19b"/>
<line x1="973.69" y1="543.44" x2="973.69" y2="552.5" stroke="#a5d6a7"/>
<line x1="976.52" y1="540.53" x2="976.52" y2="552.5" stroke="#f4a19b"/>
<line x1="979.35" y1="543.44" x2="979.35" y2="552.5" stroke="#a5d6a7"/>
<line x1="982.18" y1="534.55" x2="982.18" y2="552.5" stroke="#f4a19b"/>
<line x1="985.01" y1="541.39" x2="985.01" y2="552.5" stroke="#f4a19b"/>
<line x1="987.83" y1="539.33" x2="987.83" y2="552.5" stroke="#f4a19b"/>
<line x1="990.66" y1="543.44" x2="990.66" y2="552.5" stroke="#a5d6a7"/>
<line x1="993.49" y1="541.39" x2="993.49" y2="552.5" stroke="#a5d6a7"/>
<line x1="996.32" y1="535.4" x2="996.32" y2="552.5" stroke="#f4a19b"/>
<line x1="999.15" y1="535.4" x2="999.15" y2="552.5" stroke="#a5d6a7"/>
<line x1="1001.98" y1="537.45" x2="1001.98" y2="552.5" stroke="#f4a19b"/>
<line x1="1004.81" y1="536.26" x2="1004.81" y2="552.5" stroke="#f4a19b"/>
<line x1="1007.64" y1="532.32" x2="1007.64" y2="552.5" stroke="#f4a19b"/>
<line x1="1010.47" y1="535.4" x2="1010.47" y2="552.5" stroke="#f4a19b"/>
<line x1="1013.3" y1="538.48" x2="1013.3" y2="552.5" stroke="#f4a19b"/>
<line x1="1016.12" y1="540.53" x2="1016.12" y2="552.5" stroke="#a5d6a7"/>
<line x1="1018.95" y1="540.53" x2="1018.95" y2="552.5" stroke="#f4a19b"/>
<line x1="1021.78" y1="545.66" x2="1021.78" y2="552.5" stroke="#f4a19b"/>
<line x1="1024.61" y1="548.57" x2="1024.61" y2="552.5" stroke="#a5d6a7"/>
<line x1="1027.44" y1="542.58" x2="1027.44" y2="552.5" stroke="#a5d6a7"/>
<line x1="1030.27" y1="544.46" x2="1030.27" y2="552.5" stroke="#f4a19b"/>
<line x1="1033.1" y1="545.66" x2="1033.1" y2="552.5" stroke="#a5d6a7"/>
<line x1="1035.93" y1="548.57" x2="1035.93" y2="552.5" stroke="#f4a19b"/>
<line x1="1038.76" y1="542.58" x2="1038.76" y2="552.5" stroke="#f4a19b"/>
<line x1="1041.59" y1="549.42" x2="1041.59" y2="552.5" stroke="#f4a19b"/>
<line x1="1044.41" y1="546.52" x2="1044.41" y2="552.5" stroke="#f4a19b"/>
</g>
<g stroke="#83868f" stroke-width="1.1" fill="none" stroke-dasharray="6,5.2" clip-path="url(#cm)">
<polyline points="6.5,106.8 812.5,508.5 1072,508.5"/>
<line x1="568" y1="500" x2="1084.5" y2="95.3"/>
</g>
<g stroke-width="3" fill="none">
<line x1="812" y1="153.4" x2="1072.5" y2="153.4" stroke="#ffeb3b"/>
<line x1="812" y1="170.3" x2="1072.5" y2="170.3" stroke="#ff9800"/>
<line x1="812" y1="296.6" x2="1072.5" y2="296.6" stroke="#81c784"/>
<line x1="568" y1="244.3" x2="1086.5" y2="244.3" stroke="#81c784"/>
<line x1="568" y1="352.3" x2="1086.5" y2="352.3" stroke="#ffeb3b"/>
<line x1="568" y1="339.4" x2="1086.5" y2="339.4" stroke="#ff9800"/>
</g>
<g clip-path="url(#cm)" shape-rendering="crispEdges">
<line x1="9" y1="490.43" x2="9" y2="493.83" stroke="#000" stroke-width="1"/>
<rect x="7.6" y="491.43" width="2.8" height="1.9" fill="#43a047"/>
<line x1="11.83" y1="478.77" x2="11.83" y2="491.43" stroke="#000" stroke-width="1"/>
<rect x="10.43" y="481.93" width="2.8" height="9.5" fill="#43a047"/>
<line x1="14.66" y1="459.13" x2="14.66" y2="483.93" stroke="#000" stroke-width="1"/>
<rect x="13.26" y="468" width="2.8" height="13.93" fill="#43a047"/>
<line x1="17.49" y1="443.93" x2="17.49" y2="476.87" stroke="#f44336" stroke-width="1"/>
<rect x="16.09" y="467.37" width="2.8" height="6.97" fill="#f44336"/>
<line x1="20.32" y1="468.53" x2="20.32" y2="479.4" stroke="#000" stroke-width="1"/>
<rect x="18.92" y="470.53" width="2.8" height="2.53" fill="#43a047"/>
<line x1="23.15" y1="464.83" x2="23.15" y2="471.03" stroke="#000" stroke-width="1"/>
<rect x="21.75" y="469.1" width="2.8" height="1.6" fill="#43a047"/>
<line x1="25.97" y1="469.27" x2="25.97" y2="485.73" stroke="#f44336" stroke-width="1"/>
<rect x="24.57" y="469.27" width="2.8" height="10.77" fill="#f44336"/>
<line x1="28.8" y1="474.33" x2="28.8" y2="486.6" stroke="#f44336" stroke-width="1"/>
<rect x="27.4" y="480.03" width="2.8" height="5.07" fill="#f44336"/>
<line x1="31.63" y1="485.1" x2="31.63" y2="500.16" stroke="#f44336" stroke-width="1"/>
<rect x="30.23" y="485.1" width="2.8" height="14.57" fill="#f44336"/>
<line x1="34.46" y1="488.26" x2="34.46" y2="501.66" stroke="#000" stroke-width="1"/>
<rect x="33.06" y="490.16" width="2.8" height="9.5" fill="#43a047"/>
<line x1="37.29" y1="484.23" x2="37.29" y2="493.96" stroke="#000" stroke-width="1"/>
<rect x="35.89" y="485.73" width="2.8" height="4.43" fill="#43a047"/>
<line x1="40.12" y1="480.56" x2="40.12" y2="485.73" stroke="#000" stroke-width="1"/>
<rect x="38.72" y="482.56" width="2.8" height="3.17" fill="#43a047"/>
<line x1="42.95" y1="482.06" x2="42.95" y2="488.36" stroke="#f44336" stroke-width="1"/>
<rect x="41.55" y="482.56" width="2.8" height="3.8" fill="#f44336"/>
<line x1="45.78" y1="486.36" x2="45.78" y2="492.7" stroke="#f44336" stroke-width="1"/>
<rect x="44.38" y="486.36" width="2.8" height="3.17" fill="#f44336"/>
<line x1="48.61" y1="485" x2="48.61" y2="491.03" stroke="#000" stroke-width="1"/>
<rect x="47.21" y="487" width="2.8" height="2.53" fill="#43a047"/>
<line x1="51.44" y1="487" x2="51.44" y2="491.3" stroke="#f44336" stroke-width="1"/>
<rect x="50.04" y="487" width="2.8" height="3.8" fill="#f44336"/>
<line x1="54.26" y1="485.73" x2="54.26" y2="492.8" stroke="#000" stroke-width="1"/>
<rect x="52.86" y="485.73" width="2.8" height="5.07" fill="#43a047"/>
<line x1="57.09" y1="485.23" x2="57.09" y2="491.16" stroke="#f44336" stroke-width="1"/>
<rect x="55.69" y="485.73" width="2.8" height="4.43" fill="#f44336"/>
<line x1="59.92" y1="478.53" x2="59.92" y2="490.66" stroke="#000" stroke-width="1"/>
<rect x="58.52" y="480.03" width="2.8" height="10.13" fill="#43a047"/>
<line x1="62.75" y1="478.03" x2="62.75" y2="482.18" stroke="#000" stroke-width="1"/>
<rect x="61.35" y="480.03" width="2.8" height="2.15" fill="#43a047"/>
<line x1="65.58" y1="475.5" x2="65.58" y2="480.65" stroke="#000" stroke-width="1"/>
<rect x="64.18" y="477.5" width="2.8" height="2.15" fill="#43a047"/>
<line x1="68.41" y1="471.7" x2="68.41" y2="479.65" stroke="#000" stroke-width="1"/>
<rect x="67.01" y="473.7" width="2.8" height="5.45" fill="#43a047"/>
<line x1="71.24" y1="471.8" x2="71.24" y2="478.77" stroke="#f44336" stroke-width="1"/>
<rect x="69.84" y="473.53" width="2.8" height="1.6" fill="#f44336"/>
<line x1="74.07" y1="466.1" x2="74.07" y2="484.46" stroke="#f44336" stroke-width="1"/>
<rect x="72.67" y="474.97" width="2.8" height="3.8" fill="#f44336"/>
<line x1="76.9" y1="477.77" x2="76.9" y2="480.66" stroke="#f44336" stroke-width="1"/>
<rect x="75.5" y="478.77" width="2.8" height="1.9" fill="#f44336"/>
<line x1="79.73" y1="478.66" x2="79.73" y2="481.3" stroke="#f44336" stroke-width="1"/>
<rect x="78.33" y="480.18" width="2.8" height="1.6" fill="#f44336"/>
<line x1="82.55" y1="478.03" x2="82.55" y2="481.3" stroke="#000" stroke-width="1"/>
<rect x="81.15" y="479.86" width="2.8" height="1.6" fill="#43a047"/>
<line x1="85.38" y1="474.87" x2="85.38" y2="480.53" stroke="#000" stroke-width="1"/>
<rect x="83.98" y="476.87" width="2.8" height="3.17" fill="#43a047"/>
<line x1="88.21" y1="473.7" x2="88.21" y2="480.13" stroke="#000" stroke-width="1"/>
<rect x="86.81" y="476.7" width="2.8" height="1.6" fill="#43a047"/>
<line x1="91.04" y1="475.37" x2="91.04" y2="484.46" stroke="#f44336" stroke-width="1"/>
<rect x="89.64" y="476.87" width="2.8" height="4.43" fill="#f44336"/>
<line x1="93.87" y1="479.8" x2="93.87" y2="487" stroke="#f44336" stroke-width="1"/>
<rect x="92.47" y="481.3" width="2.8" height="1.9" fill="#f44336"/>
<line x1="96.7" y1="479.16" x2="96.7" y2="483.94" stroke="#000" stroke-width="1"/>
<rect x="95.3" y="480.66" width="2.8" height="2.28" fill="#43a047"/>
<line x1="99.53" y1="479.66" x2="99.53" y2="487" stroke="#f44336" stroke-width="1"/>
<rect x="98.13" y="480.66" width="2.8" height="4.43" fill="#f44336"/>
<line x1="102.36" y1="479.53" x2="102.36" y2="485.6" stroke="#000" stroke-width="1"/>
<rect x="100.96" y="480.03" width="2.8" height="5.07" fill="#43a047"/>
<line x1="105.19" y1="480.03" x2="105.19" y2="485.83" stroke="#f44336" stroke-width="1"/>
<rect x="103.79" y="480.03" width="2.8" height="3.8" fill="#f44336"/>
<line x1="108.02" y1="482.83" x2="108.02" y2="487.63" stroke="#f44336" stroke-width="1"/>
<rect x="106.61" y="483.66" width="2.8" height="1.6" fill="#f44336"/>
<line x1="110.84" y1="480.43" x2="110.84" y2="486.1" stroke="#000" stroke-width="1"/>
<rect x="109.44" y="481.93" width="2.8" height="3.17" fill="#43a047"/>
<line x1="113.67" y1="480.03" x2="113.67" y2="486.74" stroke="#000" stroke-width="1"/>
<rect x="112.27" y="480.94" width="2.8" height="1.6" fill="#43a047"/>
<line x1="116.5" y1="471.7" x2="116.5" y2="481.3" stroke="#000" stroke-width="1"/>
<rect x="115.1" y="473.7" width="2.8" height="7.6" fill="#43a047"/>
<line x1="119.33" y1="473.7" x2="119.33" y2="487.1" stroke="#f44336" stroke-width="1"/>
<rect x="117.93" y="473.7" width="2.8" height="11.4" fill="#f44336"/>
<line x1="122.16" y1="483.6" x2="122.16" y2="510.43" stroke="#f44336" stroke-width="1"/>
<rect x="120.76" y="485.1" width="2.8" height="13.93" fill="#f44336"/>
<line x1="124.99" y1="493.96" x2="124.99" y2="504.73" stroke="#000" stroke-width="1"/>
<rect x="123.59" y="497.13" width="2.8" height="2.53" fill="#43a047"/>
<line x1="127.82" y1="489.3" x2="127.82" y2="498.63" stroke="#000" stroke-width="1"/>
<rect x="126.42" y="490.8" width="2.8" height="6.33" fill="#43a047"/>
<line x1="130.65" y1="490.16" x2="130.65" y2="491.81" stroke="#000" stroke-width="1"/>
<rect x="129.25" y="490.16" width="2.8" height="1.65" fill="#43a047"/>
<line x1="133.48" y1="485.1" x2="133.48" y2="495.33" stroke="#f44336" stroke-width="1"/>
<rect x="132.08" y="490.16" width="2.8" height="3.17" fill="#f44336"/>
<line x1="136.31" y1="491.06" x2="136.31" y2="496.5" stroke="#f44336" stroke-width="1"/>
<rect x="134.91" y="491.9" width="2.8" height="1.6" fill="#f44336"/>
<line x1="139.13" y1="491.06" x2="139.13" y2="496.6" stroke="#000" stroke-width="1"/>
<rect x="137.73" y="492.06" width="2.8" height="2.53" fill="#43a047"/>
<line x1="141.96" y1="491.2" x2="141.96" y2="496.6" stroke="#000" stroke-width="1"/>
<rect x="140.56" y="492.7" width="2.8" height="1.9" fill="#43a047"/>
<line x1="144.79" y1="490.56" x2="144.79" y2="493.08" stroke="#f44336" stroke-width="1"/>
<rect x="143.39" y="491.77" width="2.8" height="1.6" fill="#f44336"/>
<line x1="147.62" y1="492.06" x2="147.62" y2="494.33" stroke="#000" stroke-width="1"/>
<rect x="146.22" y="491.9" width="2.8" height="1.6" fill="#43a047"/>
<line x1="150.45" y1="482.96" x2="150.45" y2="492.06" stroke="#000" stroke-width="1"/>
<rect x="149.05" y="484.46" width="2.8" height="7.6" fill="#43a047"/>
<line x1="153.28" y1="478.77" x2="153.28" y2="487.63" stroke="#000" stroke-width="1"/>
<rect x="151.88" y="483.83" width="2.8" height="1.9" fill="#43a047"/>
<line x1="156.11" y1="481.83" x2="156.11" y2="489.53" stroke="#f44336" stroke-width="1"/>
<rect x="154.71" y="483.83" width="2.8" height="2.53" fill="#f44336"/>
<line x1="158.94" y1="482.2" x2="158.94" y2="487.86" stroke="#000" stroke-width="1"/>
<rect x="157.54" y="483.2" width="2.8" height="3.17" fill="#43a047"/>
<line x1="161.77" y1="481.56" x2="161.77" y2="483.2" stroke="#000" stroke-width="1"/>
<rect x="160.37" y="482.08" width="2.8" height="1.6" fill="#43a047"/>
<line x1="164.59" y1="479.16" x2="164.59" y2="483.56" stroke="#000" stroke-width="1"/>
<rect x="163.19" y="480.66" width="2.8" height="1.9" fill="#43a047"/>
<line x1="167.42" y1="477.63" x2="167.42" y2="482.66" stroke="#000" stroke-width="1"/>
<rect x="166.02" y="478.13" width="2.8" height="2.53" fill="#43a047"/>
<line x1="170.25" y1="473.07" x2="170.25" y2="479.63" stroke="#000" stroke-width="1"/>
<rect x="168.85" y="476.7" width="2.8" height="1.6" fill="#43a047"/>
<line x1="173.08" y1="476.87" x2="173.08" y2="479.27" stroke="#f44336" stroke-width="1"/>
<rect x="171.68" y="476.87" width="2.8" height="1.9" fill="#f44336"/>
<line x1="175.91" y1="477.77" x2="175.91" y2="479.9" stroke="#f44336" stroke-width="1"/>
<rect x="174.51" y="478.28" width="2.8" height="1.6" fill="#f44336"/>
<line x1="178.74" y1="468.77" x2="178.74" y2="480.9" stroke="#000" stroke-width="1"/>
<rect x="177.34" y="469.27" width="2.8" height="10.13" fill="#43a047"/>
<line x1="181.57" y1="465.23" x2="181.57" y2="472.43" stroke="#f44336" stroke-width="1"/>
<rect x="180.17" y="466.73" width="2.8" height="3.8" fill="#f44336"/>
<line x1="184.4" y1="462.3" x2="184.4" y2="471.8" stroke="#000" stroke-width="1"/>
<rect x="183" y="464.83" width="2.8" height="5.7" fill="#43a047"/>
<line x1="187.23" y1="459.13" x2="187.23" y2="467.6" stroke="#f44336" stroke-width="1"/>
<rect x="185.83" y="464.67" width="2.8" height="1.6" fill="#f44336"/>
<line x1="190.06" y1="464.1" x2="190.06" y2="470.27" stroke="#f44336" stroke-width="1"/>
<rect x="188.66" y="466.1" width="2.8" height="3.17" fill="#f44336"/>
<line x1="192.89" y1="468.77" x2="192.89" y2="477.1" stroke="#f44336" stroke-width="1"/>
<rect x="191.49" y="469.27" width="2.8" height="6.33" fill="#f44336"/>
<line x1="195.71" y1="471.07" x2="195.71" y2="478.77" stroke="#f44336" stroke-width="1"/>
<rect x="194.31" y="473.07" width="2.8" height="2.53" fill="#f44336"/>
<line x1="198.54" y1="467.37" x2="198.54" y2="478.77" stroke="#000" stroke-width="1"/>
<rect x="197.14" y="473.07" width="2.8" height="1.9" fill="#43a047"/>
<line x1="201.37" y1="467.37" x2="201.37" y2="473.57" stroke="#000" stroke-width="1"/>
<rect x="199.97" y="469.9" width="2.8" height="3.17" fill="#43a047"/>
<line x1="204.2" y1="466.1" x2="204.2" y2="473.7" stroke="#f44336" stroke-width="1"/>
<rect x="202.8" y="469.27" width="2.8" height="4.43" fill="#f44336"/>
<line x1="207.03" y1="469.27" x2="207.03" y2="478.13" stroke="#000" stroke-width="1"/>
<rect x="205.63" y="473.72" width="2.8" height="1.6" fill="#43a047"/>
<line x1="209.86" y1="470.67" x2="209.86" y2="474.58" stroke="#000" stroke-width="1"/>
<rect x="208.46" y="471.17" width="2.8" height="2.91" fill="#43a047"/>
<line x1="212.69" y1="462.3" x2="212.69" y2="472.67" stroke="#000" stroke-width="1"/>
<rect x="211.29" y="469.27" width="2.8" height="1.9" fill="#43a047"/>
<line x1="215.52" y1="464.1" x2="215.52" y2="469.77" stroke="#000" stroke-width="1"/>
<rect x="214.12" y="466.1" width="2.8" height="3.17" fill="#43a047"/>
<line x1="218.35" y1="453.81" x2="218.35" y2="467.1" stroke="#000" stroke-width="1"/>
<rect x="216.95" y="463.19" width="2.8" height="2.91" fill="#43a047"/>
<line x1="221.18" y1="459.77" x2="221.18" y2="466.73" stroke="#000" stroke-width="1"/>
<rect x="219.78" y="462.45" width="2.8" height="1.6" fill="#43a047"/>
<line x1="224" y1="459.13" x2="224" y2="467.37" stroke="#f44336" stroke-width="1"/>
<rect x="222.6" y="462.64" width="2.8" height="1.6" fill="#f44336"/>
<line x1="226.83" y1="462.95" x2="226.83" y2="470.63" stroke="#f44336" stroke-width="1"/>
<rect x="225.43" y="463.95" width="2.8" height="4.69" fill="#f44336"/>
<line x1="229.66" y1="466.63" x2="229.66" y2="470.52" stroke="#f44336" stroke-width="1"/>
<rect x="228.26" y="468.28" width="2.8" height="1.6" fill="#f44336"/>
<line x1="232.49" y1="469.02" x2="232.49" y2="477.5" stroke="#f44336" stroke-width="1"/>
<rect x="231.09" y="469.35" width="2.8" height="1.6" fill="#f44336"/>
<line x1="235.32" y1="468.79" x2="235.32" y2="472.81" stroke="#f44336" stroke-width="1"/>
<rect x="233.92" y="470.79" width="2.8" height="2.03" fill="#f44336"/>
<line x1="238.15" y1="471.31" x2="238.15" y2="475.45" stroke="#f44336" stroke-width="1"/>
<rect x="236.75" y="472.33" width="2.8" height="1.6" fill="#f44336"/>
<line x1="240.98" y1="468" x2="240.98" y2="474.95" stroke="#000" stroke-width="1"/>
<rect x="239.58" y="471.55" width="2.8" height="1.9" fill="#43a047"/>
<line x1="243.81" y1="469.29" x2="243.81" y2="473.05" stroke="#000" stroke-width="1"/>
<rect x="242.41" y="470.37" width="2.8" height="1.6" fill="#43a047"/>
<line x1="246.64" y1="470.79" x2="246.64" y2="474.31" stroke="#f44336" stroke-width="1"/>
<rect x="245.24" y="470.79" width="2.8" height="2.03" fill="#f44336"/>
<line x1="249.47" y1="471.31" x2="249.47" y2="476.23" stroke="#f44336" stroke-width="1"/>
<rect x="248.06" y="472.33" width="2.8" height="1.6" fill="#f44336"/>
<line x1="252.29" y1="471.68" x2="252.29" y2="473.45" stroke="#000" stroke-width="1"/>
<rect x="250.89" y="472.01" width="2.8" height="1.6" fill="#43a047"/>
<line x1="255.12" y1="472.06" x2="255.12" y2="474.57" stroke="#000" stroke-width="1"/>
<rect x="253.72" y="472.01" width="2.8" height="1.6" fill="#43a047"/>
<line x1="257.95" y1="470.28" x2="257.95" y2="472.56" stroke="#000" stroke-width="1"/>
<rect x="256.55" y="471.38" width="2.8" height="1.6" fill="#43a047"/>
<line x1="260.78" y1="470.8" x2="260.78" y2="474.18" stroke="#f44336" stroke-width="1"/>
<rect x="259.38" y="471.19" width="2.8" height="1.6" fill="#f44336"/>
<line x1="263.61" y1="471.04" x2="263.61" y2="472.18" stroke="#000" stroke-width="1"/>
<rect x="262.21" y="470.81" width="2.8" height="1.6" fill="#43a047"/>
<line x1="266.44" y1="471.04" x2="266.44" y2="478.87" stroke="#f44336" stroke-width="1"/>
<rect x="265.04" y="471.04" width="2.8" height="5.83" fill="#f44336"/>
<line x1="269.27" y1="476.37" x2="269.27" y2="485.2" stroke="#f44336" stroke-width="1"/>
<rect x="267.87" y="476.87" width="2.8" height="6.33" fill="#f44336"/>
<line x1="272.1" y1="483.2" x2="272.1" y2="486.73" stroke="#f44336" stroke-width="1"/>
<rect x="270.7" y="483.2" width="2.8" height="2.53" fill="#f44336"/>
<line x1="274.93" y1="483.73" x2="274.93" y2="490.8" stroke="#f44336" stroke-width="1"/>
<rect x="273.53" y="485.73" width="2.8" height="3.8" fill="#f44336"/>
<line x1="277.75" y1="486.62" x2="277.75" y2="490.03" stroke="#000" stroke-width="1"/>
<rect x="276.36" y="486.62" width="2.8" height="2.91" fill="#43a047"/>
<line x1="280.58" y1="484.62" x2="280.58" y2="490.4" stroke="#f44336" stroke-width="1"/>
<rect x="279.18" y="486.62" width="2.8" height="2.28" fill="#f44336"/>
<line x1="283.41" y1="488.4" x2="283.41" y2="491.8" stroke="#f44336" stroke-width="1"/>
<rect x="282.01" y="488.9" width="2.8" height="1.9" fill="#f44336"/>
<line x1="286.24" y1="489.8" x2="286.24" y2="495.86" stroke="#f44336" stroke-width="1"/>
<rect x="284.84" y="490.8" width="2.8" height="2.91" fill="#f44336"/>
<line x1="289.07" y1="485.73" x2="289.07" y2="495.21" stroke="#000" stroke-width="1"/>
<rect x="287.67" y="487.88" width="2.8" height="5.83" fill="#43a047"/>
<line x1="291.9" y1="487.88" x2="291.9" y2="488.9" stroke="#f44336" stroke-width="1"/>
<rect x="290.5" y="487.59" width="2.8" height="1.6" fill="#f44336"/>
<line x1="294.73" y1="484.23" x2="294.73" y2="490.4" stroke="#000" stroke-width="1"/>
<rect x="293.33" y="485.73" width="2.8" height="3.17" fill="#43a047"/>
<line x1="297.56" y1="484.23" x2="297.56" y2="496.88" stroke="#f44336" stroke-width="1"/>
<rect x="296.16" y="485.73" width="2.8" height="6.97" fill="#f44336"/>
<line x1="300.39" y1="489.42" x2="300.39" y2="492.7" stroke="#000" stroke-width="1"/>
<rect x="298.99" y="490.42" width="2.8" height="2.28" fill="#43a047"/>
<line x1="303.22" y1="481.3" x2="303.22" y2="490.42" stroke="#000" stroke-width="1"/>
<rect x="301.82" y="489.05" width="2.8" height="1.6" fill="#43a047"/>
<line x1="306.05" y1="488.78" x2="306.05" y2="491.54" stroke="#000" stroke-width="1"/>
<rect x="304.65" y="489.36" width="2.8" height="1.6" fill="#43a047"/>
<line x1="308.87" y1="488.28" x2="308.87" y2="492.82" stroke="#f44336" stroke-width="1"/>
<rect x="307.47" y="489.78" width="2.8" height="2.53" fill="#f44336"/>
<line x1="311.7" y1="486.52" x2="311.7" y2="492.32" stroke="#000" stroke-width="1"/>
<rect x="310.3" y="488.52" width="2.8" height="3.8" fill="#43a047"/>
<line x1="314.53" y1="486.75" x2="314.53" y2="490.52" stroke="#000" stroke-width="1"/>
<rect x="313.13" y="487.08" width="2.8" height="1.6" fill="#43a047"/>
<line x1="317.36" y1="485.1" x2="317.36" y2="489.78" stroke="#f44336" stroke-width="1"/>
<rect x="315.96" y="487.25" width="2.8" height="2.03" fill="#f44336"/>
<line x1="320.19" y1="486.26" x2="320.19" y2="489.28" stroke="#000" stroke-width="1"/>
<rect x="318.79" y="487.97" width="2.8" height="1.6" fill="#43a047"/>
<line x1="323.02" y1="485.25" x2="323.02" y2="489.26" stroke="#000" stroke-width="1"/>
<rect x="321.62" y="486.96" width="2.8" height="1.6" fill="#43a047"/>
<line x1="325.85" y1="482.18" x2="325.85" y2="488.25" stroke="#000" stroke-width="1"/>
<rect x="324.45" y="482.18" width="2.8" height="5.07" fill="#43a047"/>
<line x1="328.68" y1="480.66" x2="328.68" y2="494.33" stroke="#f44336" stroke-width="1"/>
<rect x="327.28" y="482.18" width="2.8" height="11.15" fill="#f44336"/>
<line x1="331.51" y1="491.56" x2="331.51" y2="497.76" stroke="#f44336" stroke-width="1"/>
<rect x="330.11" y="491.77" width="2.8" height="1.6" fill="#f44336"/>
<line x1="334.34" y1="489.28" x2="334.34" y2="495.08" stroke="#000" stroke-width="1"/>
<rect x="332.94" y="489.78" width="2.8" height="3.29" fill="#43a047"/>
<line x1="337.16" y1="487.78" x2="337.16" y2="495.33" stroke="#f44336" stroke-width="1"/>
<rect x="335.76" y="489.78" width="2.8" height="3.55" fill="#f44336"/>
<line x1="339.99" y1="490.68" x2="339.99" y2="495.23" stroke="#000" stroke-width="1"/>
<rect x="338.59" y="491.68" width="2.8" height="1.65" fill="#43a047"/>
<line x1="342.82" y1="488.54" x2="342.82" y2="492.18" stroke="#000" stroke-width="1"/>
<rect x="341.42" y="490.31" width="2.8" height="1.6" fill="#43a047"/>
<line x1="345.65" y1="490.04" x2="345.65" y2="494.58" stroke="#f44336" stroke-width="1"/>
<rect x="344.25" y="490.54" width="2.8" height="2.53" fill="#f44336"/>
<line x1="348.48" y1="481.93" x2="348.48" y2="497.76" stroke="#000" stroke-width="1"/>
<rect x="347.08" y="484.72" width="2.8" height="8.36" fill="#43a047"/>
<line x1="351.31" y1="478.92" x2="351.31" y2="486.22" stroke="#000" stroke-width="1"/>
<rect x="349.91" y="480.92" width="2.8" height="3.8" fill="#43a047"/>
<line x1="354.14" y1="479.92" x2="354.14" y2="488.9" stroke="#f44336" stroke-width="1"/>
<rect x="352.74" y="480.92" width="2.8" height="2.03" fill="#f44336"/>
<line x1="356.97" y1="469.9" x2="356.97" y2="483.94" stroke="#000" stroke-width="1"/>
<rect x="355.57" y="473.95" width="2.8" height="8.99" fill="#43a047"/>
<line x1="359.8" y1="472.45" x2="359.8" y2="479.77" stroke="#f44336" stroke-width="1"/>
<rect x="358.4" y="473.95" width="2.8" height="4.81" fill="#f44336"/>
<line x1="362.62" y1="478.27" x2="362.62" y2="484.56" stroke="#f44336" stroke-width="1"/>
<rect x="361.23" y="478.77" width="2.8" height="3.8" fill="#f44336"/>
<line x1="365.45" y1="472.07" x2="365.45" y2="484.06" stroke="#000" stroke-width="1"/>
<rect x="364.05" y="473.07" width="2.8" height="9.5" fill="#43a047"/>
<line x1="368.28" y1="460.15" x2="368.28" y2="474.07" stroke="#000" stroke-width="1"/>
<rect x="366.88" y="466.35" width="2.8" height="6.71" fill="#43a047"/>
<line x1="371.11" y1="463.95" x2="371.11" y2="467.61" stroke="#f44336" stroke-width="1"/>
<rect x="369.71" y="465.93" width="2.8" height="1.6" fill="#f44336"/>
<line x1="373.94" y1="467.11" x2="373.94" y2="474.33" stroke="#f44336" stroke-width="1"/>
<rect x="372.54" y="466.63" width="2.8" height="1.6" fill="#f44336"/>
<line x1="376.77" y1="462.45" x2="376.77" y2="475.6" stroke="#000" stroke-width="1"/>
<rect x="375.37" y="463.95" width="2.8" height="3.8" fill="#43a047"/>
<line x1="379.6" y1="462.95" x2="379.6" y2="470.02" stroke="#f44336" stroke-width="1"/>
<rect x="378.2" y="463.95" width="2.8" height="5.57" fill="#f44336"/>
<line x1="382.43" y1="468.02" x2="382.43" y2="472.53" stroke="#f44336" stroke-width="1"/>
<rect x="381.03" y="469.23" width="2.8" height="1.6" fill="#f44336"/>
<line x1="385.26" y1="459.13" x2="385.26" y2="471.8" stroke="#000" stroke-width="1"/>
<rect x="383.86" y="463.44" width="2.8" height="7.09" fill="#43a047"/>
<line x1="388.09" y1="438.79" x2="388.09" y2="464.22" stroke="#000" stroke-width="1"/>
<rect x="386.69" y="452.44" width="2.8" height="10.78" fill="#43a047"/>
<line x1="390.92" y1="434.48" x2="390.92" y2="450.57" stroke="#000" stroke-width="1"/>
<rect x="389.52" y="449.49" width="2.8" height="1.6" fill="#43a047"/>
<line x1="393.74" y1="441.6" x2="393.74" y2="450.5" stroke="#000" stroke-width="1"/>
<rect x="392.34" y="443.1" width="2.8" height="6.9" fill="#43a047"/>
<line x1="396.57" y1="441.6" x2="396.57" y2="452.44" stroke="#f44336" stroke-width="1"/>
<rect x="395.17" y="443.1" width="2.8" height="5.75" fill="#f44336"/>
<line x1="399.4" y1="435.2" x2="399.4" y2="449.85" stroke="#000" stroke-width="1"/>
<rect x="398" y="440.52" width="2.8" height="8.33" fill="#43a047"/>
<line x1="402.23" y1="428.02" x2="402.23" y2="443.82" stroke="#f44336" stroke-width="1"/>
<rect x="400.83" y="440.15" width="2.8" height="1.6" fill="#f44336"/>
<line x1="405.06" y1="432.55" x2="405.06" y2="442.88" stroke="#000" stroke-width="1"/>
<rect x="403.66" y="434.05" width="2.8" height="7.33" fill="#43a047"/>
<line x1="407.89" y1="432.33" x2="407.89" y2="443.1" stroke="#f44336" stroke-width="1"/>
<rect x="406.49" y="433.47" width="2.8" height="1.6" fill="#f44336"/>
<line x1="410.72" y1="427.01" x2="410.72" y2="434.98" stroke="#000" stroke-width="1"/>
<rect x="409.32" y="433.54" width="2.8" height="1.6" fill="#43a047"/>
<line x1="413.55" y1="429.45" x2="413.55" y2="439.51" stroke="#f44336" stroke-width="1"/>
<rect x="412.15" y="433.75" width="2.8" height="1.6" fill="#f44336"/>
<line x1="416.38" y1="425.14" x2="416.38" y2="436.7" stroke="#f44336" stroke-width="1"/>
<rect x="414.98" y="434.26" width="2.8" height="1.6" fill="#f44336"/>
<line x1="419.21" y1="429.45" x2="419.21" y2="442.39" stroke="#f44336" stroke-width="1"/>
<rect x="417.81" y="434.9" width="2.8" height="1.6" fill="#f44336"/>
<line x1="422.03" y1="433.92" x2="422.03" y2="439.14" stroke="#000" stroke-width="1"/>
<rect x="420.63" y="435.92" width="2.8" height="1.72" fill="#43a047"/>
<line x1="424.86" y1="434.63" x2="424.86" y2="440.23" stroke="#000" stroke-width="1"/>
<rect x="423.46" y="435.63" width="2.8" height="2.44" fill="#43a047"/>
<line x1="427.69" y1="429.61" x2="427.69" y2="440.23" stroke="#000" stroke-width="1"/>
<rect x="426.29" y="431.61" width="2.8" height="4.02" fill="#43a047"/>
<line x1="430.52" y1="410.06" x2="430.52" y2="431.61" stroke="#000" stroke-width="1"/>
<rect x="429.12" y="417.53" width="2.8" height="14.08" fill="#43a047"/>
<line x1="433.35" y1="406.03" x2="433.35" y2="423.71" stroke="#000" stroke-width="1"/>
<rect x="431.95" y="414.37" width="2.8" height="3.16" fill="#43a047"/>
<line x1="436.18" y1="407.18" x2="436.18" y2="414.87" stroke="#000" stroke-width="1"/>
<rect x="434.78" y="409.63" width="2.8" height="4.74" fill="#43a047"/>
<line x1="439.01" y1="406.9" x2="439.01" y2="428.74" stroke="#f44336" stroke-width="1"/>
<rect x="437.61" y="409.63" width="2.8" height="12.64" fill="#f44336"/>
<line x1="441.84" y1="421.77" x2="441.84" y2="444.54" stroke="#f44336" stroke-width="1"/>
<rect x="440.44" y="422.27" width="2.8" height="9.63" fill="#f44336"/>
<line x1="444.67" y1="430.9" x2="444.67" y2="446.7" stroke="#f44336" stroke-width="1"/>
<rect x="443.27" y="431.81" width="2.8" height="1.6" fill="#f44336"/>
<line x1="447.5" y1="425.86" x2="447.5" y2="438.79" stroke="#f44336" stroke-width="1"/>
<rect x="446.1" y="432.89" width="2.8" height="1.6" fill="#f44336"/>
<line x1="450.32" y1="433.55" x2="450.32" y2="443.82" stroke="#f44336" stroke-width="1"/>
<rect x="448.92" y="434.05" width="2.8" height="6.61" fill="#f44336"/>
<line x1="453.15" y1="436.36" x2="453.15" y2="444.54" stroke="#000" stroke-width="1"/>
<rect x="451.75" y="437.36" width="2.8" height="3.3" fill="#43a047"/>
<line x1="455.98" y1="433.05" x2="455.98" y2="440.29" stroke="#000" stroke-width="1"/>
<rect x="454.58" y="437.42" width="2.8" height="1.6" fill="#43a047"/>
<line x1="458.81" y1="437.14" x2="458.81" y2="441.67" stroke="#f44336" stroke-width="1"/>
<rect x="457.41" y="437.27" width="2.8" height="1.6" fill="#f44336"/>
<line x1="461.64" y1="430.89" x2="461.64" y2="440.01" stroke="#000" stroke-width="1"/>
<rect x="460.24" y="432.18" width="2.8" height="6.32" fill="#43a047"/>
<line x1="464.47" y1="430.18" x2="464.47" y2="436.91" stroke="#f44336" stroke-width="1"/>
<rect x="463.07" y="432.18" width="2.8" height="2.73" fill="#f44336"/>
<line x1="467.3" y1="433.41" x2="467.3" y2="442.39" stroke="#f44336" stroke-width="1"/>
<rect x="465.9" y="434.91" width="2.8" height="3.59" fill="#f44336"/>
<line x1="470.13" y1="438.01" x2="470.13" y2="465.37" stroke="#f44336" stroke-width="1"/>
<rect x="468.73" y="438.51" width="2.8" height="16.09" fill="#f44336"/>
<line x1="472.96" y1="448.13" x2="472.96" y2="461.78" stroke="#000" stroke-width="1"/>
<rect x="471.56" y="452.01" width="2.8" height="4.02" fill="#43a047"/>
<line x1="475.79" y1="449.57" x2="475.79" y2="458.19" stroke="#f44336" stroke-width="1"/>
<rect x="474.39" y="452" width="2.8" height="1.6" fill="#f44336"/>
<line x1="478.61" y1="452.09" x2="478.61" y2="456.97" stroke="#f44336" stroke-width="1"/>
<rect x="477.21" y="453.59" width="2.8" height="2.87" fill="#f44336"/>
<line x1="481.44" y1="454.47" x2="481.44" y2="463.65" stroke="#f44336" stroke-width="1"/>
<rect x="480.04" y="456.47" width="2.8" height="7.18" fill="#f44336"/>
<line x1="484.27" y1="453.88" x2="484.27" y2="464.15" stroke="#000" stroke-width="1"/>
<rect x="482.87" y="457.04" width="2.8" height="6.61" fill="#43a047"/>
<line x1="487.1" y1="454.96" x2="487.1" y2="460.34" stroke="#000" stroke-width="1"/>
<rect x="485.7" y="455.45" width="2.8" height="1.6" fill="#43a047"/>
<line x1="489.93" y1="450.29" x2="489.93" y2="459.63" stroke="#000" stroke-width="1"/>
<rect x="488.53" y="454.01" width="2.8" height="1.6" fill="#43a047"/>
<line x1="492.76" y1="448.85" x2="492.76" y2="454.17" stroke="#000" stroke-width="1"/>
<rect x="491.36" y="452.65" width="2.8" height="1.6" fill="#43a047"/>
<line x1="495.59" y1="451.16" x2="495.59" y2="456.75" stroke="#000" stroke-width="1"/>
<rect x="494.19" y="451.86" width="2.8" height="1.6" fill="#43a047"/>
<line x1="498.42" y1="450.16" x2="498.42" y2="460.91" stroke="#f44336" stroke-width="1"/>
<rect x="497.02" y="452.16" width="2.8" height="6.75" fill="#f44336"/>
<line x1="501.25" y1="457.41" x2="501.25" y2="468.97" stroke="#f44336" stroke-width="1"/>
<rect x="499.85" y="458.91" width="2.8" height="5.46" fill="#f44336"/>
<line x1="504.08" y1="462.37" x2="504.08" y2="472.56" stroke="#f44336" stroke-width="1"/>
<rect x="502.68" y="464.37" width="2.8" height="2.87" fill="#f44336"/>
<line x1="506.9" y1="465.37" x2="506.9" y2="470.4" stroke="#f44336" stroke-width="1"/>
<rect x="505.5" y="466.59" width="2.8" height="1.6" fill="#f44336"/>
<line x1="509.73" y1="465.37" x2="509.73" y2="481.9" stroke="#f44336" stroke-width="1"/>
<rect x="508.33" y="467.53" width="2.8" height="11.93" fill="#f44336"/>
<line x1="512.56" y1="461.78" x2="512.56" y2="509.2" stroke="#f44336" stroke-width="1"/>
<rect x="511.16" y="476.87" width="2.8" height="7.9" fill="#f44336"/>
<line x1="515.39" y1="471.12" x2="515.39" y2="501.29" stroke="#000" stroke-width="1"/>
<rect x="513.99" y="472.13" width="2.8" height="9.77" fill="#43a047"/>
<line x1="518.22" y1="469.25" x2="518.22" y2="478.02" stroke="#f44336" stroke-width="1"/>
<rect x="516.82" y="472.13" width="2.8" height="5.89" fill="#f44336"/>
<line x1="521.05" y1="473.5" x2="521.05" y2="481.9" stroke="#000" stroke-width="1"/>
<rect x="519.65" y="475" width="2.8" height="3.3" fill="#43a047"/>
<line x1="523.88" y1="471.99" x2="523.88" y2="486.93" stroke="#f44336" stroke-width="1"/>
<rect x="522.48" y="473.99" width="2.8" height="9.05" fill="#f44336"/>
<line x1="526.71" y1="478.3" x2="526.71" y2="484.05" stroke="#000" stroke-width="1"/>
<rect x="525.31" y="481.96" width="2.8" height="1.6" fill="#43a047"/>
<line x1="529.54" y1="481.54" x2="529.54" y2="484.05" stroke="#000" stroke-width="1"/>
<rect x="528.14" y="481.74" width="2.8" height="1.6" fill="#43a047"/>
<line x1="532.37" y1="472.27" x2="532.37" y2="484.04" stroke="#000" stroke-width="1"/>
<rect x="530.97" y="478.59" width="2.8" height="3.45" fill="#43a047"/>
<line x1="535.19" y1="474.71" x2="535.19" y2="489.8" stroke="#f44336" stroke-width="1"/>
<rect x="533.79" y="478.59" width="2.8" height="7.33" fill="#f44336"/>
<line x1="538.02" y1="481.18" x2="538.02" y2="489.08" stroke="#f44336" stroke-width="1"/>
<rect x="536.62" y="485.26" width="2.8" height="1.6" fill="#f44336"/>
<line x1="540.85" y1="484.21" x2="540.85" y2="492.67" stroke="#f44336" stroke-width="1"/>
<rect x="539.45" y="486.21" width="2.8" height="5.46" fill="#f44336"/>
<line x1="543.68" y1="489.67" x2="543.68" y2="494.32" stroke="#f44336" stroke-width="1"/>
<rect x="542.28" y="491.67" width="2.8" height="2.16" fill="#f44336"/>
<line x1="546.51" y1="492.32" x2="546.51" y2="495.76" stroke="#f44336" stroke-width="1"/>
<rect x="545.11" y="493.74" width="2.8" height="1.6" fill="#f44336"/>
<line x1="549.34" y1="493.76" x2="549.34" y2="499.14" stroke="#f44336" stroke-width="1"/>
<rect x="547.94" y="494.96" width="2.8" height="1.6" fill="#f44336"/>
<line x1="552.17" y1="491.46" x2="552.17" y2="499.92" stroke="#000" stroke-width="1"/>
<rect x="550.77" y="492.96" width="2.8" height="5.46" fill="#43a047"/>
<line x1="555" y1="489.52" x2="555" y2="493.82" stroke="#f44336" stroke-width="1"/>
<rect x="553.6" y="490.52" width="2.8" height="3.3" fill="#f44336"/>
<line x1="557.83" y1="442.82" x2="557.83" y2="495.32" stroke="#000" stroke-width="1"/>
<rect x="556.43" y="484.34" width="2.8" height="9.48" fill="#43a047"/>
<line x1="560.66" y1="483.33" x2="560.66" y2="486.28" stroke="#f44336" stroke-width="1"/>
<rect x="559.26" y="483.33" width="2.8" height="2.44" fill="#f44336"/>
<line x1="563.48" y1="482.33" x2="563.48" y2="492.67" stroke="#f44336" stroke-width="1"/>
<rect x="562.08" y="483.33" width="2.8" height="4.6" fill="#f44336"/>
<line x1="566.31" y1="485.28" x2="566.31" y2="491.52" stroke="#000" stroke-width="1"/>
<rect x="564.91" y="485.78" width="2.8" height="4.74" fill="#43a047"/>
<line x1="569.14" y1="481.18" x2="569.14" y2="488.93" stroke="#f44336" stroke-width="1"/>
<rect x="567.74" y="485.78" width="2.8" height="2.16" fill="#f44336"/>
<line x1="571.97" y1="485.99" x2="571.97" y2="490.52" stroke="#000" stroke-width="1"/>
<rect x="570.57" y="486.49" width="2.8" height="1.87" fill="#43a047"/>
<line x1="574.8" y1="482.61" x2="574.8" y2="486.49" stroke="#000" stroke-width="1"/>
<rect x="573.4" y="484.77" width="2.8" height="1.72" fill="#43a047"/>
<line x1="577.63" y1="481.9" x2="577.63" y2="487.81" stroke="#f44336" stroke-width="1"/>
<rect x="576.23" y="483.4" width="2.8" height="2.91" fill="#f44336"/>
<line x1="580.46" y1="485.81" x2="580.46" y2="487.44" stroke="#f44336" stroke-width="1"/>
<rect x="579.06" y="485.83" width="2.8" height="1.6" fill="#f44336"/>
<line x1="583.29" y1="478.72" x2="583.29" y2="489.33" stroke="#000" stroke-width="1"/>
<rect x="581.89" y="479.22" width="2.8" height="8.61" fill="#43a047"/>
<line x1="586.12" y1="477.06" x2="586.12" y2="481.35" stroke="#000" stroke-width="1"/>
<rect x="584.72" y="478.42" width="2.8" height="1.6" fill="#43a047"/>
<line x1="588.95" y1="475.8" x2="588.95" y2="480.08" stroke="#000" stroke-width="1"/>
<rect x="587.55" y="477.59" width="2.8" height="1.6" fill="#43a047"/>
<line x1="591.77" y1="477.32" x2="591.77" y2="479.2" stroke="#000" stroke-width="1"/>
<rect x="590.37" y="477.21" width="2.8" height="1.6" fill="#43a047"/>
<line x1="594.6" y1="476.82" x2="594.6" y2="484.66" stroke="#f44336" stroke-width="1"/>
<rect x="593.2" y="477.82" width="2.8" height="4.69" fill="#f44336"/>
<line x1="597.43" y1="477.7" x2="597.43" y2="482.51" stroke="#000" stroke-width="1"/>
<rect x="596.03" y="481.01" width="2.8" height="1.6" fill="#43a047"/>
<line x1="600.26" y1="480.12" x2="600.26" y2="483.88" stroke="#f44336" stroke-width="1"/>
<rect x="598.86" y="480.7" width="2.8" height="1.6" fill="#f44336"/>
<line x1="603.09" y1="480.38" x2="603.09" y2="483.76" stroke="#f44336" stroke-width="1"/>
<rect x="601.69" y="481.27" width="2.8" height="1.6" fill="#f44336"/>
<line x1="605.92" y1="482.26" x2="605.92" y2="484.01" stroke="#f44336" stroke-width="1"/>
<rect x="604.52" y="481.58" width="2.8" height="1.6" fill="#f44336"/>
<line x1="608.75" y1="480.37" x2="608.75" y2="485.4" stroke="#000" stroke-width="1"/>
<rect x="607.35" y="481.37" width="2.8" height="2.03" fill="#43a047"/>
<line x1="611.58" y1="479.12" x2="611.58" y2="485.3" stroke="#000" stroke-width="1"/>
<rect x="610.18" y="480.82" width="2.8" height="1.6" fill="#43a047"/>
<line x1="614.41" y1="478.1" x2="614.41" y2="482.13" stroke="#000" stroke-width="1"/>
<rect x="613.01" y="480.1" width="2.8" height="2.03" fill="#43a047"/>
<line x1="617.24" y1="474.15" x2="617.24" y2="480.6" stroke="#000" stroke-width="1"/>
<rect x="615.84" y="474.15" width="2.8" height="5.95" fill="#43a047"/>
<line x1="620.06" y1="474.15" x2="620.06" y2="475.54" stroke="#f44336" stroke-width="1"/>
<rect x="618.66" y="474.05" width="2.8" height="1.6" fill="#f44336"/>
<line x1="622.89" y1="470.73" x2="622.89" y2="477.05" stroke="#f44336" stroke-width="1"/>
<rect x="621.49" y="475" width="2.8" height="1.6" fill="#f44336"/>
<line x1="625.72" y1="474.15" x2="625.72" y2="476.55" stroke="#000" stroke-width="1"/>
<rect x="624.32" y="474.15" width="2.8" height="1.9" fill="#43a047"/>
<line x1="628.55" y1="469.35" x2="628.55" y2="475.66" stroke="#000" stroke-width="1"/>
<rect x="627.15" y="470.35" width="2.8" height="4.81" fill="#43a047"/>
<line x1="631.38" y1="453" x2="631.38" y2="472.36" stroke="#000" stroke-width="1"/>
<rect x="629.98" y="459.59" width="2.8" height="11.78" fill="#43a047"/>
<line x1="634.21" y1="445.15" x2="634.21" y2="460.09" stroke="#000" stroke-width="1"/>
<rect x="632.81" y="456.42" width="2.8" height="3.17" fill="#43a047"/>
<line x1="637.04" y1="448.19" x2="637.04" y2="458.7" stroke="#000" stroke-width="1"/>
<rect x="635.64" y="454.52" width="2.8" height="1.9" fill="#43a047"/>
<line x1="639.87" y1="435.9" x2="639.87" y2="456.02" stroke="#000" stroke-width="1"/>
<rect x="638.47" y="440.33" width="2.8" height="14.19" fill="#43a047"/>
<line x1="642.7" y1="434" x2="642.7" y2="447.3" stroke="#000" stroke-width="1"/>
<rect x="641.3" y="439.6" width="2.8" height="1.6" fill="#43a047"/>
<line x1="645.53" y1="430.83" x2="645.53" y2="440.97" stroke="#000" stroke-width="1"/>
<rect x="644.13" y="437.42" width="2.8" height="3.55" fill="#43a047"/>
<line x1="648.35" y1="429.95" x2="648.35" y2="447.3" stroke="#f44336" stroke-width="1"/>
<rect x="646.95" y="437.42" width="2.8" height="7.09" fill="#f44336"/>
<line x1="651.18" y1="439.07" x2="651.18" y2="461.23" stroke="#f44336" stroke-width="1"/>
<rect x="649.78" y="444.51" width="2.8" height="13.3" fill="#f44336"/>
<line x1="654.01" y1="444.13" x2="654.01" y2="457.81" stroke="#000" stroke-width="1"/>
<rect x="652.61" y="447.55" width="2.8" height="10.26" fill="#43a047"/>
<line x1="656.84" y1="446.55" x2="656.84" y2="451.48" stroke="#f44336" stroke-width="1"/>
<rect x="655.44" y="447.55" width="2.8" height="3.93" fill="#f44336"/>
<line x1="659.67" y1="449.48" x2="659.67" y2="459.97" stroke="#f44336" stroke-width="1"/>
<rect x="658.27" y="451.48" width="2.8" height="5.7" fill="#f44336"/>
<line x1="662.5" y1="455.15" x2="662.5" y2="463.77" stroke="#000" stroke-width="1"/>
<rect x="661.1" y="455.15" width="2.8" height="2.91" fill="#43a047"/>
<line x1="665.33" y1="447.3" x2="665.33" y2="459.31" stroke="#f44336" stroke-width="1"/>
<rect x="663.93" y="455.15" width="2.8" height="2.66" fill="#f44336"/>
<line x1="668.16" y1="457.81" x2="668.16" y2="465.15" stroke="#f44336" stroke-width="1"/>
<rect x="666.76" y="457.81" width="2.8" height="6.33" fill="#f44336"/>
<line x1="670.99" y1="462.15" x2="670.99" y2="473.9" stroke="#f44336" stroke-width="1"/>
<rect x="669.59" y="464.15" width="2.8" height="6.33" fill="#f44336"/>
<line x1="673.82" y1="463.02" x2="673.82" y2="474" stroke="#000" stroke-width="1"/>
<rect x="672.42" y="464.02" width="2.8" height="7.98" fill="#43a047"/>
<line x1="676.64" y1="461.62" x2="676.64" y2="464.02" stroke="#000" stroke-width="1"/>
<rect x="675.24" y="462.12" width="2.8" height="1.9" fill="#43a047"/>
<line x1="679.47" y1="455.53" x2="679.47" y2="472.63" stroke="#000" stroke-width="1"/>
<rect x="678.07" y="460.22" width="2.8" height="1.9" fill="#43a047"/>
<line x1="682.3" y1="454.52" x2="682.3" y2="460.72" stroke="#000" stroke-width="1"/>
<rect x="680.9" y="454.52" width="2.8" height="5.7" fill="#43a047"/>
<line x1="685.13" y1="444.39" x2="685.13" y2="454.52" stroke="#000" stroke-width="1"/>
<rect x="683.73" y="450.72" width="2.8" height="3.8" fill="#43a047"/>
<line x1="687.96" y1="448.19" x2="687.96" y2="456.41" stroke="#f44336" stroke-width="1"/>
<rect x="686.56" y="450.72" width="2.8" height="5.19" fill="#f44336"/>
<line x1="690.79" y1="454.91" x2="690.79" y2="468.83" stroke="#f44336" stroke-width="1"/>
<rect x="689.39" y="455.91" width="2.8" height="8.87" fill="#f44336"/>
<line x1="693.62" y1="458.85" x2="693.62" y2="469.46" stroke="#000" stroke-width="1"/>
<rect x="692.22" y="460.85" width="2.8" height="7.98" fill="#43a047"/>
<line x1="696.45" y1="459.85" x2="696.45" y2="463.37" stroke="#f44336" stroke-width="1"/>
<rect x="695.05" y="460.56" width="2.8" height="1.6" fill="#f44336"/>
<line x1="699.28" y1="459.87" x2="699.28" y2="467.56" stroke="#f44336" stroke-width="1"/>
<rect x="697.88" y="461.87" width="2.8" height="2.91" fill="#f44336"/>
<line x1="702.11" y1="452.37" x2="702.11" y2="467.93" stroke="#000" stroke-width="1"/>
<rect x="700.71" y="455.79" width="2.8" height="11.15" fill="#43a047"/>
<line x1="704.93" y1="443.12" x2="704.93" y2="458.07" stroke="#000" stroke-width="1"/>
<rect x="703.53" y="446.29" width="2.8" height="9.5" fill="#43a047"/>
<line x1="707.76" y1="439.32" x2="707.76" y2="446.29" stroke="#000" stroke-width="1"/>
<rect x="706.36" y="439.32" width="2.8" height="6.97" fill="#43a047"/>
<line x1="710.59" y1="437.17" x2="710.59" y2="451.73" stroke="#f44336" stroke-width="1"/>
<rect x="709.19" y="439.32" width="2.8" height="8.99" fill="#f44336"/>
<line x1="713.42" y1="432.1" x2="713.42" y2="450.47" stroke="#000" stroke-width="1"/>
<rect x="712.02" y="436.53" width="2.8" height="11.78" fill="#43a047"/>
<line x1="716.25" y1="434.53" x2="716.25" y2="440.95" stroke="#f44336" stroke-width="1"/>
<rect x="714.85" y="436.53" width="2.8" height="2.91" fill="#f44336"/>
<line x1="719.08" y1="438.95" x2="719.08" y2="444.75" stroke="#f44336" stroke-width="1"/>
<rect x="717.68" y="439.45" width="2.8" height="3.8" fill="#f44336"/>
<line x1="721.91" y1="435.01" x2="721.91" y2="446.67" stroke="#000" stroke-width="1"/>
<rect x="720.51" y="437.42" width="2.8" height="5.83" fill="#43a047"/>
<line x1="724.74" y1="435.92" x2="724.74" y2="441.45" stroke="#f44336" stroke-width="1"/>
<rect x="723.34" y="437.42" width="2.8" height="2.03" fill="#f44336"/>
<line x1="727.57" y1="431.21" x2="727.57" y2="441.07" stroke="#f44336" stroke-width="1"/>
<rect x="726.17" y="437.63" width="2.8" height="1.6" fill="#f44336"/>
<line x1="730.4" y1="401.85" x2="730.4" y2="441.89" stroke="#000" stroke-width="1"/>
<rect x="729" y="411.64" width="2.8" height="28.47" fill="#43a047"/>
<line x1="733.22" y1="402.74" x2="733.22" y2="415.2" stroke="#000" stroke-width="1"/>
<rect x="731.82" y="408.43" width="2.8" height="3.2" fill="#43a047"/>
<line x1="736.05" y1="362.7" x2="736.05" y2="409.47" stroke="#000" stroke-width="1"/>
<rect x="734.65" y="370.18" width="2.8" height="38.79" fill="#43a047"/>
<line x1="738.88" y1="331.57" x2="738.88" y2="380.5" stroke="#f44336" stroke-width="1"/>
<rect x="737.48" y="369.82" width="2.8" height="2.31" fill="#f44336"/>
<line x1="741.71" y1="347.58" x2="741.71" y2="382.28" stroke="#000" stroke-width="1"/>
<rect x="740.31" y="370.18" width="2.8" height="4.98" fill="#43a047"/>
<line x1="744.54" y1="358.61" x2="744.54" y2="370.18" stroke="#000" stroke-width="1"/>
<rect x="743.14" y="358.61" width="2.8" height="11.57" fill="#43a047"/>
<line x1="747.37" y1="337.15" x2="747.37" y2="360.11" stroke="#000" stroke-width="1"/>
<rect x="745.97" y="338.15" width="2.8" height="20.46" fill="#43a047"/>
<line x1="750.2" y1="320" x2="750.2" y2="338.15" stroke="#000" stroke-width="1"/>
<rect x="748.8" y="329.25" width="2.8" height="8.9" fill="#43a047"/>
<line x1="753.03" y1="329.25" x2="753.03" y2="344.45" stroke="#f44336" stroke-width="1"/>
<rect x="751.63" y="329.25" width="2.8" height="8.45" fill="#f44336"/>
<line x1="755.86" y1="330.08" x2="755.86" y2="339.7" stroke="#000" stroke-width="1"/>
<rect x="754.46" y="335.4" width="2.8" height="3.3" fill="#43a047"/>
<line x1="758.69" y1="327.21" x2="758.69" y2="346.6" stroke="#f44336" stroke-width="1"/>
<rect x="757.29" y="335.39" width="2.8" height="1.6" fill="#f44336"/>
<line x1="761.51" y1="335.98" x2="761.51" y2="341.58" stroke="#f44336" stroke-width="1"/>
<rect x="760.11" y="336.54" width="2.8" height="1.6" fill="#f44336"/>
<line x1="764.34" y1="336.2" x2="764.34" y2="350.41" stroke="#f44336" stroke-width="1"/>
<rect x="762.94" y="337.7" width="2.8" height="12.21" fill="#f44336"/>
<line x1="767.17" y1="349.41" x2="767.17" y2="362.41" stroke="#f44336" stroke-width="1"/>
<rect x="765.77" y="349.91" width="2.8" height="2.15" fill="#f44336"/>
<line x1="770" y1="347.32" x2="770" y2="367.87" stroke="#f44336" stroke-width="1"/>
<rect x="768.6" y="352.06" width="2.8" height="12.21" fill="#f44336"/>
<line x1="772.83" y1="347.32" x2="772.83" y2="365.27" stroke="#000" stroke-width="1"/>
<rect x="771.43" y="354.07" width="2.8" height="10.2" fill="#43a047"/>
<line x1="775.66" y1="353.07" x2="775.66" y2="360.25" stroke="#f44336" stroke-width="1"/>
<rect x="774.26" y="354.07" width="2.8" height="2.3" fill="#f44336"/>
<line x1="778.49" y1="355.37" x2="778.49" y2="362.62" stroke="#f44336" stroke-width="1"/>
<rect x="777.09" y="356.37" width="2.8" height="5.75" fill="#f44336"/>
<line x1="781.32" y1="350.91" x2="781.32" y2="378.93" stroke="#000" stroke-width="1"/>
<rect x="779.92" y="357.67" width="2.8" height="4.45" fill="#43a047"/>
<line x1="784.15" y1="356.02" x2="784.15" y2="363.84" stroke="#000" stroke-width="1"/>
<rect x="782.75" y="356.29" width="2.8" height="1.6" fill="#43a047"/>
<line x1="786.98" y1="338.49" x2="786.98" y2="360.97" stroke="#000" stroke-width="1"/>
<rect x="785.58" y="338.99" width="2.8" height="17.53" fill="#43a047"/>
<line x1="789.8" y1="332.96" x2="789.8" y2="345.23" stroke="#f44336" stroke-width="1"/>
<rect x="788.4" y="338.99" width="2.8" height="4.74" fill="#f44336"/>
<line x1="792.63" y1="343.73" x2="792.63" y2="351.41" stroke="#f44336" stroke-width="1"/>
<rect x="791.23" y="343.73" width="2.8" height="6.18" fill="#f44336"/>
<line x1="795.46" y1="348.91" x2="795.46" y2="355.94" stroke="#f44336" stroke-width="1"/>
<rect x="794.06" y="349.91" width="2.8" height="2.15" fill="#f44336"/>
<line x1="798.29" y1="351.56" x2="798.29" y2="353.14" stroke="#f44336" stroke-width="1"/>
<rect x="796.89" y="351.55" width="2.8" height="1.6" fill="#f44336"/>
<line x1="801.12" y1="343.01" x2="801.12" y2="352.64" stroke="#000" stroke-width="1"/>
<rect x="799.72" y="344.02" width="2.8" height="8.62" fill="#43a047"/>
<line x1="803.95" y1="344.02" x2="803.95" y2="350.91" stroke="#f44336" stroke-width="1"/>
<rect x="802.55" y="344.02" width="2.8" height="4.45" fill="#f44336"/>
<line x1="806.78" y1="331.09" x2="806.78" y2="348.97" stroke="#000" stroke-width="1"/>
<rect x="805.38" y="336.84" width="2.8" height="11.64" fill="#43a047"/>
<line x1="809.61" y1="332.96" x2="809.61" y2="342.29" stroke="#f44336" stroke-width="1"/>
<rect x="808.21" y="336.84" width="2.8" height="2.3" fill="#f44336"/>
<line x1="812.44" y1="339.13" x2="812.44" y2="343.01" stroke="#f44336" stroke-width="1"/>
<rect x="811.04" y="338.84" width="2.8" height="1.6" fill="#f44336"/>
<line x1="815.27" y1="340.14" x2="815.27" y2="353.07" stroke="#f44336" stroke-width="1"/>
<rect x="813.87" y="340.14" width="2.8" height="9.05" fill="#f44336"/>
<line x1="818.09" y1="336.26" x2="818.09" y2="350.91" stroke="#000" stroke-width="1"/>
<rect x="816.69" y="339.42" width="2.8" height="9.77" fill="#43a047"/>
<line x1="820.92" y1="325.77" x2="820.92" y2="341.42" stroke="#000" stroke-width="1"/>
<rect x="819.52" y="328.22" width="2.8" height="11.21" fill="#43a047"/>
<line x1="823.75" y1="317.15" x2="823.75" y2="329.15" stroke="#f44336" stroke-width="1"/>
<rect x="822.35" y="327.13" width="2.8" height="1.6" fill="#f44336"/>
<line x1="826.58" y1="278.31" x2="826.58" y2="330.27" stroke="#000" stroke-width="1"/>
<rect x="825.18" y="280.31" width="2.8" height="48.47" fill="#43a047"/>
<line x1="829.41" y1="279.31" x2="829.41" y2="306.74" stroke="#f44336" stroke-width="1"/>
<rect x="828.01" y="280.31" width="2.8" height="7.85" fill="#f44336"/>
<line x1="832.24" y1="247.93" x2="832.24" y2="292.38" stroke="#000" stroke-width="1"/>
<rect x="830.84" y="275.52" width="2.8" height="12.64" fill="#43a047"/>
<line x1="835.07" y1="257.89" x2="835.07" y2="276.02" stroke="#000" stroke-width="1"/>
<rect x="833.67" y="264.98" width="2.8" height="10.54" fill="#43a047"/>
<line x1="837.9" y1="264.98" x2="837.9" y2="284.71" stroke="#f44336" stroke-width="1"/>
<rect x="836.5" y="264.98" width="2.8" height="3.07" fill="#f44336"/>
<line x1="840.73" y1="246.4" x2="840.73" y2="279.92" stroke="#000" stroke-width="1"/>
<rect x="839.33" y="254.44" width="2.8" height="13.6" fill="#43a047"/>
<line x1="843.56" y1="197.07" x2="843.56" y2="258.95" stroke="#000" stroke-width="1"/>
<rect x="842.16" y="202.82" width="2.8" height="52.11" fill="#43a047"/>
<line x1="846.38" y1="130.98" x2="846.38" y2="212.39" stroke="#000" stroke-width="1"/>
<rect x="844.98" y="167.38" width="2.8" height="35.44" fill="#43a047"/>
<line x1="849.21" y1="167.38" x2="849.21" y2="204.73" stroke="#f44336" stroke-width="1"/>
<rect x="847.81" y="167.38" width="2.8" height="11.11" fill="#f44336"/>
<line x1="852.04" y1="177.99" x2="852.04" y2="226.76" stroke="#f44336" stroke-width="1"/>
<rect x="850.64" y="178.49" width="2.8" height="22.99" fill="#f44336"/>
<line x1="854.87" y1="165.46" x2="854.87" y2="204.73" stroke="#000" stroke-width="1"/>
<rect x="853.47" y="174.46" width="2.8" height="27.01" fill="#43a047"/>
<line x1="857.7" y1="165.46" x2="857.7" y2="190.36" stroke="#000" stroke-width="1"/>
<rect x="856.3" y="172.55" width="2.8" height="1.92" fill="#43a047"/>
<line x1="860.53" y1="139.02" x2="860.53" y2="187.49" stroke="#f44336" stroke-width="1"/>
<rect x="859.13" y="172.55" width="2.8" height="6.9" fill="#f44336"/>
<line x1="863.36" y1="137.68" x2="863.36" y2="187.49" stroke="#000" stroke-width="1"/>
<rect x="861.96" y="150.52" width="2.8" height="28.93" fill="#43a047"/>
<line x1="866.19" y1="147.84" x2="866.19" y2="165.46" stroke="#f44336" stroke-width="1"/>
<rect x="864.79" y="150.52" width="2.8" height="2.11" fill="#f44336"/>
<line x1="869.02" y1="145.34" x2="869.02" y2="191.32" stroke="#f44336" stroke-width="1"/>
<rect x="867.62" y="152.62" width="2.8" height="14.37" fill="#f44336"/>
<line x1="871.85" y1="165.49" x2="871.85" y2="182.36" stroke="#f44336" stroke-width="1"/>
<rect x="870.45" y="166.99" width="2.8" height="14.37" fill="#f44336"/>
<line x1="874.67" y1="178.87" x2="874.67" y2="196.11" stroke="#000" stroke-width="1"/>
<rect x="873.27" y="178.87" width="2.8" height="4.79" fill="#43a047"/>
<line x1="877.5" y1="173.12" x2="877.5" y2="183.74" stroke="#000" stroke-width="1"/>
<rect x="876.1" y="178.68" width="2.8" height="3.07" fill="#43a047"/>
<line x1="880.33" y1="174.95" x2="880.33" y2="206.65" stroke="#f44336" stroke-width="1"/>
<rect x="878.93" y="176.95" width="2.8" height="22.61" fill="#f44336"/>
<line x1="883.16" y1="181.74" x2="883.16" y2="199.56" stroke="#000" stroke-width="1"/>
<rect x="881.76" y="189.79" width="2.8" height="9.77" fill="#43a047"/>
<line x1="885.99" y1="188.29" x2="885.99" y2="198.03" stroke="#f44336" stroke-width="1"/>
<rect x="884.59" y="189.79" width="2.8" height="2.11" fill="#f44336"/>
<line x1="888.82" y1="185" x2="888.82" y2="197.69" stroke="#f44336" stroke-width="1"/>
<rect x="887.42" y="191.9" width="2.8" height="4.79" fill="#f44336"/>
<line x1="891.65" y1="196.19" x2="891.65" y2="205.69" stroke="#f44336" stroke-width="1"/>
<rect x="890.25" y="196.69" width="2.8" height="4.79" fill="#f44336"/>
<line x1="894.48" y1="125.8" x2="894.48" y2="266.8" stroke="#000" stroke-width="1"/>
<rect x="893.08" y="133.28" width="2.8" height="68.58" fill="#43a047"/>
<line x1="897.31" y1="94.96" x2="897.31" y2="149.18" stroke="#000" stroke-width="1"/>
<rect x="895.91" y="128.49" width="2.8" height="4.79" fill="#43a047"/>
<line x1="900.14" y1="124.85" x2="900.14" y2="227.15" stroke="#f44336" stroke-width="1"/>
<rect x="898.74" y="125.61" width="2.8" height="83.52" fill="#f44336"/>
<line x1="902.96" y1="165.08" x2="902.96" y2="224.46" stroke="#000" stroke-width="1"/>
<rect x="901.56" y="171.59" width="2.8" height="37.55" fill="#43a047"/>
<line x1="905.79" y1="168.25" x2="905.79" y2="215.65" stroke="#f44336" stroke-width="1"/>
<rect x="904.39" y="170.25" width="2.8" height="36.97" fill="#f44336"/>
<line x1="908.62" y1="198.03" x2="908.62" y2="212.39" stroke="#000" stroke-width="1"/>
<rect x="907.22" y="204.16" width="2.8" height="3.07" fill="#43a047"/>
<line x1="911.45" y1="200.9" x2="911.45" y2="230.98" stroke="#f44336" stroke-width="1"/>
<rect x="910.05" y="204.73" width="2.8" height="11.11" fill="#f44336"/>
<line x1="914.28" y1="214.84" x2="914.28" y2="232.89" stroke="#f44336" stroke-width="1"/>
<rect x="912.88" y="215.84" width="2.8" height="2.87" fill="#f44336"/>
<line x1="917.11" y1="150.13" x2="917.11" y2="236.72" stroke="#f44336" stroke-width="1"/>
<rect x="915.71" y="218.72" width="2.8" height="2.87" fill="#f44336"/>
<line x1="919.94" y1="207.49" x2="919.94" y2="226.19" stroke="#000" stroke-width="1"/>
<rect x="918.54" y="207.99" width="2.8" height="13.6" fill="#43a047"/>
<line x1="922.77" y1="130.4" x2="922.77" y2="207.99" stroke="#000" stroke-width="1"/>
<rect x="921.37" y="202.24" width="2.8" height="5.75" fill="#43a047"/>
<line x1="925.6" y1="195.15" x2="925.6" y2="224.31" stroke="#f44336" stroke-width="1"/>
<rect x="924.2" y="198.98" width="2.8" height="24.33" fill="#f44336"/>
<line x1="928.43" y1="218.52" x2="928.43" y2="223.81" stroke="#000" stroke-width="1"/>
<rect x="927.03" y="218.52" width="2.8" height="4.79" fill="#43a047"/>
<line x1="931.25" y1="208.56" x2="931.25" y2="230.25" stroke="#f44336" stroke-width="1"/>
<rect x="929.85" y="217.18" width="2.8" height="12.07" fill="#f44336"/>
<line x1="934.08" y1="208.56" x2="934.08" y2="230.25" stroke="#000" stroke-width="1"/>
<rect x="932.68" y="213.74" width="2.8" height="15.52" fill="#43a047"/>
<line x1="936.91" y1="191.9" x2="936.91" y2="216.77" stroke="#000" stroke-width="1"/>
<rect x="935.51" y="213.54" width="2.8" height="1.72" fill="#43a047"/>
<line x1="939.74" y1="210.48" x2="939.74" y2="223.31" stroke="#f44336" stroke-width="1"/>
<rect x="938.34" y="212.39" width="2.8" height="10.92" fill="#f44336"/>
<line x1="942.57" y1="221.31" x2="942.57" y2="228.22" stroke="#f44336" stroke-width="1"/>
<rect x="941.17" y="223.31" width="2.8" height="4.41" fill="#f44336"/>
<line x1="945.4" y1="226.72" x2="945.4" y2="260.5" stroke="#f44336" stroke-width="1"/>
<rect x="944" y="227.72" width="2.8" height="5.69" fill="#f44336"/>
<line x1="948.23" y1="216.93" x2="948.23" y2="240.63" stroke="#000" stroke-width="1"/>
<rect x="946.83" y="232.05" width="2.8" height="1.81" fill="#43a047"/>
<line x1="951.06" y1="227.09" x2="951.06" y2="237.17" stroke="#f44336" stroke-width="1"/>
<rect x="949.66" y="232.05" width="2.8" height="3.61" fill="#f44336"/>
<line x1="953.89" y1="230.47" x2="953.89" y2="246.28" stroke="#f44336" stroke-width="1"/>
<rect x="952.49" y="235.67" width="2.8" height="2.26" fill="#f44336"/>
<line x1="956.72" y1="236.12" x2="956.72" y2="244.02" stroke="#f44336" stroke-width="1"/>
<rect x="955.32" y="237.92" width="2.8" height="2.26" fill="#f44336"/>
<line x1="959.54" y1="210.84" x2="959.54" y2="252.37" stroke="#f44336" stroke-width="1"/>
<rect x="958.14" y="240.18" width="2.8" height="5.64" fill="#f44336"/>
<line x1="962.37" y1="238.37" x2="962.37" y2="262.75" stroke="#000" stroke-width="1"/>
<rect x="960.97" y="246.73" width="2.8" height="1.81" fill="#43a047"/>
<line x1="965.2" y1="244.73" x2="965.2" y2="265.46" stroke="#f44336" stroke-width="1"/>
<rect x="963.8" y="246.73" width="2.8" height="13.77" fill="#f44336"/>
<line x1="968.03" y1="250.11" x2="968.03" y2="267.72" stroke="#000" stroke-width="1"/>
<rect x="966.63" y="252.37" width="2.8" height="9.71" fill="#43a047"/>
<line x1="970.86" y1="251.37" x2="970.86" y2="276.17" stroke="#f44336" stroke-width="1"/>
<rect x="969.46" y="252.37" width="2.8" height="22.8" fill="#f44336"/>
<line x1="973.69" y1="265.46" x2="973.69" y2="283.52" stroke="#000" stroke-width="1"/>
<rect x="972.29" y="271.56" width="2.8" height="5.19" fill="#43a047"/>
<line x1="976.52" y1="269.56" x2="976.52" y2="282.39" stroke="#f44336" stroke-width="1"/>
<rect x="975.12" y="271.56" width="2.8" height="5.87" fill="#f44336"/>
<line x1="979.35" y1="269.98" x2="979.35" y2="285.78" stroke="#000" stroke-width="1"/>
<rect x="977.95" y="278.33" width="2.8" height="4.06" fill="#43a047"/>
<line x1="982.18" y1="277.83" x2="982.18" y2="319.64" stroke="#f44336" stroke-width="1"/>
<rect x="980.78" y="278.33" width="2.8" height="20.54" fill="#f44336"/>
<line x1="985.01" y1="289.16" x2="985.01" y2="304.97" stroke="#f44336" stroke-width="1"/>
<rect x="983.61" y="298.64" width="2.8" height="1.6" fill="#f44336"/>
<line x1="987.83" y1="295.94" x2="987.83" y2="326.41" stroke="#f44336" stroke-width="1"/>
<rect x="986.43" y="295.94" width="2.8" height="20.99" fill="#f44336"/>
<line x1="990.66" y1="308.8" x2="990.66" y2="318.51" stroke="#000" stroke-width="1"/>
<rect x="989.26" y="308.8" width="2.8" height="8.58" fill="#43a047"/>
<line x1="993.49" y1="288.04" x2="993.49" y2="317.75" stroke="#000" stroke-width="1"/>
<rect x="992.09" y="290.74" width="2.8" height="25.51" fill="#43a047"/>
<line x1="996.32" y1="289.74" x2="996.32" y2="302.71" stroke="#f44336" stroke-width="1"/>
<rect x="994.92" y="290.74" width="2.8" height="7" fill="#f44336"/>
<line x1="999.15" y1="268.85" x2="999.15" y2="306.09" stroke="#000" stroke-width="1"/>
<rect x="997.75" y="279.46" width="2.8" height="17.61" fill="#43a047"/>
<line x1="1001.98" y1="273.36" x2="1001.98" y2="284.07" stroke="#f44336" stroke-width="1"/>
<rect x="1000.58" y="276.75" width="2.8" height="6.32" fill="#f44336"/>
<line x1="1004.81" y1="277.88" x2="1004.81" y2="304.97" stroke="#f44336" stroke-width="1"/>
<rect x="1003.41" y="277.88" width="2.8" height="15.35" fill="#f44336"/>
<line x1="1007.64" y1="289.16" x2="1007.64" y2="301" stroke="#f44336" stroke-width="1"/>
<rect x="1006.24" y="289.16" width="2.8" height="10.84" fill="#f44336"/>
<line x1="1010.47" y1="299" x2="1010.47" y2="328.67" stroke="#f44336" stroke-width="1"/>
<rect x="1009.07" y="300" width="2.8" height="21.44" fill="#f44336"/>
<line x1="1013.3" y1="304.97" x2="1013.3" y2="343.34" stroke="#f44336" stroke-width="1"/>
<rect x="1011.9" y="304.97" width="2.8" height="33.41" fill="#f44336"/>
<line x1="1016.12" y1="320.77" x2="1016.12" y2="345.6" stroke="#000" stroke-width="1"/>
<rect x="1014.72" y="329.12" width="2.8" height="9.71" fill="#43a047"/>
<line x1="1018.95" y1="327.54" x2="1018.95" y2="345.6" stroke="#f44336" stroke-width="1"/>
<rect x="1017.55" y="329.12" width="2.8" height="3.61" fill="#f44336"/>
<line x1="1021.78" y1="317.38" x2="1021.78" y2="335.44" stroke="#f44336" stroke-width="1"/>
<rect x="1020.38" y="329.12" width="2.8" height="2.93" fill="#f44336"/>
<line x1="1024.61" y1="326.49" x2="1024.61" y2="335.44" stroke="#000" stroke-width="1"/>
<rect x="1023.21" y="327.99" width="2.8" height="5.19" fill="#43a047"/>
<line x1="1027.44" y1="311.06" x2="1027.44" y2="328.99" stroke="#000" stroke-width="1"/>
<rect x="1026.04" y="317.38" width="2.8" height="10.61" fill="#43a047"/>
<line x1="1030.27" y1="315.88" x2="1030.27" y2="322.44" stroke="#f44336" stroke-width="1"/>
<rect x="1028.87" y="317.38" width="2.8" height="4.06" fill="#f44336"/>
<line x1="1033.1" y1="315.12" x2="1033.1" y2="326.41" stroke="#000" stroke-width="1"/>
<rect x="1031.7" y="320.09" width="2.8" height="1.81" fill="#43a047"/>
<line x1="1035.93" y1="315.12" x2="1035.93" y2="325.96" stroke="#f44336" stroke-width="1"/>
<rect x="1034.53" y="316.25" width="2.8" height="9.71" fill="#f44336"/>
<line x1="1038.76" y1="318.64" x2="1038.76" y2="332.1" stroke="#f44336" stroke-width="1"/>
<rect x="1037.36" y="319.64" width="2.8" height="11.96" fill="#f44336"/>
<line x1="1041.59" y1="329.3" x2="1041.59" y2="346.15" stroke="#f44336" stroke-width="1"/>
<rect x="1040.18" y="329.8" width="2.8" height="15.35" fill="#f44336"/>
<line x1="1044.41" y1="343.65" x2="1044.41" y2="353.5" stroke="#f44336" stroke-width="1"/>
<rect x="1043.01" y="345.15" width="2.8" height="4.51" fill="#f44336"/>
</g>
<text x="715.3" y="150" font-size="11.5" fill="#ffeb3b" font-weight="normal" text-anchor="start" textLength="92" lengthAdjust="spacingAndGlyphs" stroke="#ffeb3b" stroke-width="0.28">0.65(0.00001419)</text>
<text x="709" y="166.9" font-size="11.5" fill="#ff9800" font-weight="normal" text-anchor="start" textLength="98.7" lengthAdjust="spacingAndGlyphs" stroke="#ff9800" stroke-width="0.28">0.618(0.00001369)</text>
<text x="709" y="292.8" font-size="11.5" fill="#81c784" font-weight="normal" text-anchor="start" textLength="98.7" lengthAdjust="spacingAndGlyphs" stroke="#81c784" stroke-width="0.28">0.382(0.00001003)</text>
<text x="1090.9" y="240.7" font-size="11.5" fill="#81c784" font-weight="normal" text-anchor="start" textLength="98.3" lengthAdjust="spacingAndGlyphs" stroke="#81c784" stroke-width="0.28">0.382(0.00001153)</text>
<text x="1090.9" y="335.9" font-size="11.5" fill="#ff9800" font-weight="normal" text-anchor="start" textLength="98.5" lengthAdjust="spacingAndGlyphs" stroke="#ff9800" stroke-width="0.28">0.618(0.00000879)</text>
<text x="1090.9" y="348" font-size="11.5" fill="#ffeb3b" font-weight="normal" text-anchor="start" textLength="92" lengthAdjust="spacingAndGlyphs" stroke="#ffeb3b" stroke-width="0.28">0.65(0.00000842)</text>
<path d="M6.5,477 C6.78,476.98 5.48,477.13 8.2,476.9 C10.92,476.67 15.72,475.28 22.8,475.6 C29.88,475.92 41.83,478.07 50.7,478.8 C59.57,479.53 65.45,479.68 76,480 C86.55,480.32 101.75,479.92 114,480.7 C126.25,481.48 139.37,484.28 149.5,484.7 C159.63,485.12 166.38,483.92 174.8,483.2 C183.22,482.48 191.8,481.62 200,480.4 C208.2,479.18 213.43,476.95 224,475.9 C234.57,474.85 253.45,473.93 263.4,474.1 C273.35,474.27 276.1,475.8 283.7,476.9 C291.3,478 301.62,479.82 309,480.7 C316.38,481.58 321.67,481.53 328,482.2 C334.33,482.87 341.72,484.37 347,484.7 C352.28,485.03 355.48,484.67 359.7,484.2 C363.92,483.73 368.08,482.73 372.3,481.9 C376.52,481.07 380.48,480.63 385,479.2 C389.52,477.77 392.7,476.2 399.4,473.3 C406.1,470.4 418.5,465.03 425.2,461.8 C431.9,458.57 434.8,455.82 439.6,453.9 C444.4,451.98 449.22,451.18 454,450.3 C458.78,449.42 463.03,448.72 468.3,448.6 C473.57,448.48 480.32,449.2 485.6,449.6 C490.88,450 495.22,450.05 500,451 C504.78,451.95 509.52,453.87 514.3,455.3 C519.08,456.73 523.92,458.03 528.7,459.6 C533.48,461.17 538.22,463.02 543,464.7 C547.78,466.38 552.6,468.38 557.4,469.7 C562.2,471.02 567.2,471.8 571.8,472.6 C576.4,473.4 581.3,474.07 585,474.5 C588.7,474.93 589.33,474.82 594,475.2 C598.67,475.58 607.3,476.53 613,476.8 C618.7,477.07 623.55,477.6 628.2,476.8 C632.85,476 636.68,473.53 640.9,472 C645.12,470.47 649.28,468.65 653.5,467.6 C657.72,466.55 661.33,466.13 666.2,465.7 C671.07,465.27 677.85,465.43 682.7,465 C687.55,464.57 690.03,463.83 695.3,463.1 C700.57,462.37 709.02,461.65 714.3,460.6 C719.58,459.55 723.62,458.28 727,456.8 C730.38,455.32 731.65,454.45 734.6,451.7 C737.55,448.95 741.32,444.3 744.7,440.3 C748.08,436.3 751.52,431.82 754.9,427.7 C758.28,423.58 762.08,418.72 765,415.6 C767.92,412.48 767.82,412.6 772.4,409 C776.98,405.4 786.77,398.17 792.5,394 C798.23,389.83 801.78,387.12 806.8,384 C811.82,380.88 818.28,378.67 822.6,375.3 C826.92,371.93 829.58,367.85 832.7,363.8 C835.82,359.75 838.92,355.3 841.3,351 C843.68,346.7 844.88,343 847,338 C849.12,333 850.58,328.28 854,321 C857.42,313.72 863.02,301.97 867.5,294.3 C871.98,286.63 876.43,280.58 880.9,275 C885.37,269.42 891.45,264.3 894.3,260.8 C897.15,257.3 895.45,256.57 898,254 C900.55,251.43 905.1,247.95 909.6,245.4 C914.1,242.85 919.27,240.52 925,238.7 C930.73,236.88 938.9,235.13 944,234.5 C949.1,233.87 952.67,234.65 955.6,234.9 C958.53,235.15 959.2,235.2 961.6,236 C964,236.8 966.98,238.37 970,239.7 C973.02,241.03 976.2,241.88 979.7,244 C983.2,246.12 986.87,249.77 991,252.4 C995.13,255.03 999.62,256.5 1004.5,259.8 C1009.38,263.1 1015.42,268.62 1020.3,272.2 C1025.18,275.78 1029.58,278.37 1033.8,281.3 C1038.02,284.23 1043.63,288.38 1045.6,289.8" stroke="#ff9800" stroke-width="2.2" fill="none" stroke-linejoin="round" stroke-linecap="round" clip-path="url(#cm)"/>
<path d="M6.5,369.8 C6.78,369.9 0.62,367.7 8.2,370.4 C15.78,373.1 37.4,380.98 52,386 C66.6,391.02 81.2,396.17 95.8,400.5 C110.4,404.83 126.4,408.62 139.6,412 C152.8,415.38 160.87,418.07 175,420.8 C189.13,423.53 214.95,426.87 224.4,428.4 C233.85,429.93 225.77,429.1 231.7,430 C237.63,430.9 253.45,432.8 260,433.8 C266.55,434.8 262.42,434.52 271,436 C279.58,437.48 298.83,440.63 311.5,442.7 C324.17,444.77 334.75,447.02 347,448.4 C359.25,449.78 373.88,450.8 385,451 C396.12,451.2 404.12,450.2 413.7,449.6 C423.28,449 432.92,447.88 442.5,447.4 C452.08,446.92 461.62,446.7 471.2,446.7 C480.78,446.7 490.42,446.8 500,447.4 C509.58,448 519.13,449.15 528.7,450.3 C538.27,451.45 548.02,453.15 557.4,454.3 C566.78,455.45 577.85,456.47 585,457.2 C592.15,457.93 593.1,458.23 600.3,458.7 C607.5,459.17 619.75,459.85 628.2,460 C636.65,460.15 642.98,459.72 651,459.6 C659.02,459.48 667.85,459.4 676.3,459.3 C684.75,459.2 693.25,459.25 701.7,459 C710.15,458.75 720.67,458.42 727,457.8 C733.33,457.18 735.48,456.52 739.7,455.3 C743.92,454.08 746.42,452.78 752.3,450.5 C758.18,448.22 768.72,443.85 775,441.6 C781.28,439.35 784.17,438.85 790,437 C795.83,435.15 804.17,432.5 810,430.5 C815.83,428.5 820.73,426.75 825,425 C829.27,423.25 831.43,422.67 835.6,420 C839.77,417.33 845.22,412.62 850,409 C854.78,405.38 859.52,402 864.3,398.3 C869.08,394.6 873.92,390.38 878.7,386.8 C883.48,383.22 888.7,379.9 893,376.8 C897.3,373.7 900.83,370.72 904.5,368.2 C908.17,365.68 910.75,363.85 915,361.7 C919.25,359.55 925.25,357.6 930,355.3 C934.75,353 938.62,350.28 943.5,347.9 C948.38,345.52 954.05,342.78 959.3,341 C964.55,339.22 968.6,338.38 975,337.2 C981.4,336.02 990.2,334.65 997.7,333.9 C1005.2,333.15 1012.02,332.9 1020,332.7 C1027.98,332.5 1041.33,332.7 1045.6,332.7" stroke="#0a0a0a" stroke-width="2.15" fill="none" stroke-linejoin="round" stroke-linecap="round" clip-path="url(#cm)"/>
<g stroke="#000" stroke-width="1" fill="none">
<line x1="6.5" y1="204.5" x2="1486.5" y2="204.5"/>
<line x1="6.5" y1="348.5" x2="1486.5" y2="348.5"/>
<line x1="1021.5" y1="204.5" x2="1021.5" y2="348.5"/>
<line x1="438.9" y1="409.5" x2="1486.5" y2="409.5"/>
<line x1="751.7" y1="620.6" x2="1486.5" y2="620.6" stroke-width="1.1"/>
<line x1="987.8" y1="658.9" x2="1050" y2="654.9" stroke-width="2"/>
<line x1="1010.6" y1="345.1" x2="1046.9" y2="356.2" stroke-width="2.4"/>
</g>
<line x1="6.5" y1="350.5" x2="1486.5" y2="350.5" stroke="#f44336" stroke-width="1.25" stroke-dasharray="1.25,1.75"/>
<rect x="1226" y="262" width="149.6" height="25" rx="3.5" fill="#5db761"/>
<text x="1234.9" y="277.6" font-size="12" fill="#fff" font-weight="normal" text-anchor="start" textLength="131.8" lengthAdjust="spacingAndGlyphs" >0.00000142 (16.57%) 142</text>
<rect x="1294.2" y="210" width="149.5" height="24.6" rx="3.5" fill="#5db761"/>
<text x="1302.8" y="225.7" font-size="12" fill="#fff" font-weight="normal" text-anchor="start" textLength="130.9" lengthAdjust="spacingAndGlyphs" >0.00000301 (35.49%) 301</text>
<g stroke="#00ee00" stroke-width="2" fill="none">
<path d="M1301.6,295.7 V346.2 M1287.2,295.7 H1315.8 M1287.2,346.2 H1315.8 M1291.9,306.4 L1301.6,296 L1312,306.4"/>
<path d="M1369.8,244.5 V349.7 M1358,244.5 H1381 M1358,349.7 H1381 M1360,255.2 L1369.8,244.8 L1380.2,255.2"/>
</g>
<g clip-path="url(#cmacd)">
<line x1="9" y1="562.88" x2="9" y2="567.5" stroke="#26a69a" stroke-width="1" shape-rendering="crispEdges"/>
<line x1="11.83" y1="561.02" x2="11.83" y2="567.5" stroke="#26a69a" stroke-width="1" shape-rendering="crispEdges"/>
<line x1="14.66" y1="559.72" x2="14.66" y2="567.5" stroke="#26a69a" stroke-width="1" shape-rendering="crispEdges"/>
<line x1="17.49" y1="559.48" x2="17.49" y2="567.5" stroke="#26a69a" stroke-width="1" shape-rendering="crispEdges"/>
<line x1="20.32" y1="559.63" x2="20.32" y2="567.5" stroke="#b2dfdb" stroke-width="1" shape-rendering="crispEdges"/>
<line x1="23.15" y1="561.08" x2="23.15" y2="567.5" stroke="#b2dfdb" stroke-width="1" shape-rendering="crispEdges"/>
<line x1="25.97" y1="562.66" x2="25.97" y2="567.5" stroke="#b2dfdb" stroke-width="1" shape-rendering="crispEdges"/>
<line x1="28.8" y1="565.14" x2="28.8" y2="567.5" stroke="#b2dfdb" stroke-width="1" shape-rendering="crispEdges"/>
<line x1="31.63" y1="566.95" x2="31.63" y2="567.5" stroke="#b2dfdb" stroke-width="1" shape-rendering="crispEdges"/>
<line x1="34.46" y1="567.5" x2="34.46" y2="568.18" stroke="#ef5350" stroke-width="1" shape-rendering="crispEdges"/>
<line x1="37.29" y1="567.5" x2="37.29" y2="568.15" stroke="#ffcdd2" stroke-width="1" shape-rendering="crispEdges"/>
<line x1="40.12" y1="567.5" x2="40.12" y2="568.12" stroke="#ffcdd2" stroke-width="1" shape-rendering="crispEdges"/>
<line x1="42.95" y1="567.5" x2="42.95" y2="568.1" stroke="#ffcdd2" stroke-width="1" shape-rendering="crispEdges"/>
<line x1="45.78" y1="567.5" x2="45.78" y2="568.07" stroke="#ffcdd2" stroke-width="1" shape-rendering="crispEdges"/>
<line x1="48.61" y1="567.5" x2="48.61" y2="568.04" stroke="#ffcdd2" stroke-width="1" shape-rendering="crispEdges"/>
<line x1="51.44" y1="567.5" x2="51.44" y2="568" stroke="#ffcdd2" stroke-width="1" shape-rendering="crispEdges"/>
<line x1="59.92" y1="567.07" x2="59.92" y2="567.5" stroke="#26a69a" stroke-width="1" shape-rendering="crispEdges"/>
<line x1="62.75" y1="566.93" x2="62.75" y2="567.5" stroke="#26a69a" stroke-width="1" shape-rendering="crispEdges"/>
<line x1="65.58" y1="566.79" x2="65.58" y2="567.5" stroke="#26a69a" stroke-width="1" shape-rendering="crispEdges"/>
<line x1="68.41" y1="566.64" x2="68.41" y2="567.5" stroke="#26a69a" stroke-width="1" shape-rendering="crispEdges"/>
<line x1="71.24" y1="566.5" x2="71.24" y2="567.5" stroke="#26a69a" stroke-width="1" shape-rendering="crispEdges"/>
<line x1="74.07" y1="566.7" x2="74.07" y2="567.5" stroke="#b2dfdb" stroke-width="1" shape-rendering="crispEdges"/>
<line x1="76.9" y1="566.98" x2="76.9" y2="567.5" stroke="#b2dfdb" stroke-width="1" shape-rendering="crispEdges"/>
<line x1="88.21" y1="567.5" x2="88.21" y2="568.11" stroke="#ef5350" stroke-width="1" shape-rendering="crispEdges"/>
<line x1="91.04" y1="567.5" x2="91.04" y2="568.4" stroke="#ef5350" stroke-width="1" shape-rendering="crispEdges"/>
<line x1="93.87" y1="567.5" x2="93.87" y2="568.68" stroke="#ef5350" stroke-width="1" shape-rendering="crispEdges"/>
<line x1="96.7" y1="567.5" x2="96.7" y2="568.89" stroke="#ef5350" stroke-width="1" shape-rendering="crispEdges"/>
<line x1="99.53" y1="567.5" x2="99.53" y2="568.98" stroke="#ef5350" stroke-width="1" shape-rendering="crispEdges"/>
<line x1="102.36" y1="567.5" x2="102.36" y2="569.06" stroke="#ef5350" stroke-width="1" shape-rendering="crispEdges"/>
<line x1="105.19" y1="567.5" x2="105.19" y2="569.14" stroke="#ef5350" stroke-width="1" shape-rendering="crispEdges"/>
<line x1="108.02" y1="567.5" x2="108.02" y2="569.16" stroke="#ef5350" stroke-width="1" shape-rendering="crispEdges"/>
<line x1="110.84" y1="567.5" x2="110.84" y2="568.71" stroke="#ffcdd2" stroke-width="1" shape-rendering="crispEdges"/>
<line x1="113.67" y1="567.5" x2="113.67" y2="568.26" stroke="#ffcdd2" stroke-width="1" shape-rendering="crispEdges"/>
<line x1="119.33" y1="567.5" x2="119.33" y2="568.07" stroke="#ef5350" stroke-width="1" shape-rendering="crispEdges"/>
<line x1="122.16" y1="567.5" x2="122.16" y2="568.28" stroke="#ef5350" stroke-width="1" shape-rendering="crispEdges"/>
<line x1="124.99" y1="567.5" x2="124.99" y2="568.5" stroke="#ef5350" stroke-width="1" shape-rendering="crispEdges"/>
<line x1="127.82" y1="567.5" x2="127.82" y2="568.71" stroke="#ef5350" stroke-width="1" shape-rendering="crispEdges"/>
<line x1="130.65" y1="567.5" x2="130.65" y2="568.88" stroke="#ef5350" stroke-width="1" shape-rendering="crispEdges"/>
<line x1="133.48" y1="567.5" x2="133.48" y2="568.95" stroke="#ef5350" stroke-width="1" shape-rendering="crispEdges"/>
<line x1="136.31" y1="567.5" x2="136.31" y2="569.01" stroke="#ef5350" stroke-width="1" shape-rendering="crispEdges"/>
<line x1="139.13" y1="567.5" x2="139.13" y2="569.07" stroke="#ef5350" stroke-width="1" shape-rendering="crispEdges"/>
<line x1="141.96" y1="567.5" x2="141.96" y2="569.13" stroke="#ef5350" stroke-width="1" shape-rendering="crispEdges"/>
<line x1="144.79" y1="567.5" x2="144.79" y2="569.2" stroke="#ef5350" stroke-width="1" shape-rendering="crispEdges"/>
<line x1="150.45" y1="566.54" x2="150.45" y2="567.5" stroke="#26a69a" stroke-width="1" shape-rendering="crispEdges"/>
<line x1="153.28" y1="566.06" x2="153.28" y2="567.5" stroke="#26a69a" stroke-width="1" shape-rendering="crispEdges"/>
<line x1="156.11" y1="565.59" x2="156.11" y2="567.5" stroke="#26a69a" stroke-width="1" shape-rendering="crispEdges"/>
<line x1="158.94" y1="565.12" x2="158.94" y2="567.5" stroke="#26a69a" stroke-width="1" shape-rendering="crispEdges"/>
<line x1="161.77" y1="564.95" x2="161.77" y2="567.5" stroke="#26a69a" stroke-width="1" shape-rendering="crispEdges"/>
<line x1="164.59" y1="564.79" x2="164.59" y2="567.5" stroke="#26a69a" stroke-width="1" shape-rendering="crispEdges"/>
<line x1="167.42" y1="564.63" x2="167.42" y2="567.5" stroke="#26a69a" stroke-width="1" shape-rendering="crispEdges"/>
<line x1="170.25" y1="564.46" x2="170.25" y2="567.5" stroke="#26a69a" stroke-width="1" shape-rendering="crispEdges"/>
<line x1="173.08" y1="564.47" x2="173.08" y2="567.5" stroke="#b2dfdb" stroke-width="1" shape-rendering="crispEdges"/>
<line x1="175.91" y1="564.53" x2="175.91" y2="567.5" stroke="#b2dfdb" stroke-width="1" shape-rendering="crispEdges"/>
<line x1="178.74" y1="564.59" x2="178.74" y2="567.5" stroke="#b2dfdb" stroke-width="1" shape-rendering="crispEdges"/>
<line x1="181.57" y1="564.66" x2="181.57" y2="567.5" stroke="#b2dfdb" stroke-width="1" shape-rendering="crispEdges"/>
<line x1="184.4" y1="564.72" x2="184.4" y2="567.5" stroke="#b2dfdb" stroke-width="1" shape-rendering="crispEdges"/>
<line x1="187.23" y1="564.43" x2="187.23" y2="567.5" stroke="#26a69a" stroke-width="1" shape-rendering="crispEdges"/>
<line x1="190.06" y1="563.59" x2="190.06" y2="567.5" stroke="#26a69a" stroke-width="1" shape-rendering="crispEdges"/>
<line x1="192.89" y1="565.86" x2="192.89" y2="567.5" stroke="#b2dfdb" stroke-width="1" shape-rendering="crispEdges"/>
<line x1="195.71" y1="566.63" x2="195.71" y2="567.5" stroke="#b2dfdb" stroke-width="1" shape-rendering="crispEdges"/>
<line x1="204.2" y1="567.5" x2="204.2" y2="568.2" stroke="#ef5350" stroke-width="1" shape-rendering="crispEdges"/>
<line x1="207.03" y1="567.5" x2="207.03" y2="568.27" stroke="#ef5350" stroke-width="1" shape-rendering="crispEdges"/>
<line x1="209.86" y1="567.5" x2="209.86" y2="568.34" stroke="#ef5350" stroke-width="1" shape-rendering="crispEdges"/>
<line x1="215.52" y1="566.98" x2="215.52" y2="567.5" stroke="#26a69a" stroke-width="1" shape-rendering="crispEdges"/>
<line x1="218.35" y1="566.81" x2="218.35" y2="567.5" stroke="#26a69a" stroke-width="1" shape-rendering="crispEdges"/>
<line x1="221.18" y1="566.64" x2="221.18" y2="567.5" stroke="#26a69a" stroke-width="1" shape-rendering="crispEdges"/>
<line x1="224" y1="566.47" x2="224" y2="567.5" stroke="#26a69a" stroke-width="1" shape-rendering="crispEdges"/>
<line x1="229.66" y1="567.5" x2="229.66" y2="568.56" stroke="#ef5350" stroke-width="1" shape-rendering="crispEdges"/>
<line x1="232.49" y1="567.5" x2="232.49" y2="568.77" stroke="#ef5350" stroke-width="1" shape-rendering="crispEdges"/>
<line x1="235.32" y1="567.5" x2="235.32" y2="568.98" stroke="#ef5350" stroke-width="1" shape-rendering="crispEdges"/>
<line x1="238.15" y1="567.5" x2="238.15" y2="569.18" stroke="#ef5350" stroke-width="1" shape-rendering="crispEdges"/>
<line x1="240.98" y1="567.5" x2="240.98" y2="569.39" stroke="#ef5350" stroke-width="1" shape-rendering="crispEdges"/>
<line x1="243.81" y1="567.5" x2="243.81" y2="569.59" stroke="#ef5350" stroke-width="1" shape-rendering="crispEdges"/>
<line x1="246.64" y1="567.5" x2="246.64" y2="569.8" stroke="#ef5350" stroke-width="1" shape-rendering="crispEdges"/>
<line x1="249.47" y1="567.5" x2="249.47" y2="569.59" stroke="#ffcdd2" stroke-width="1" shape-rendering="crispEdges"/>
<line x1="252.29" y1="567.5" x2="252.29" y2="569.02" stroke="#ffcdd2" stroke-width="1" shape-rendering="crispEdges"/>
<line x1="255.12" y1="567.5" x2="255.12" y2="568.8" stroke="#ffcdd2" stroke-width="1" shape-rendering="crispEdges"/>
<line x1="257.95" y1="567.5" x2="257.95" y2="568.71" stroke="#ffcdd2" stroke-width="1" shape-rendering="crispEdges"/>
<line x1="260.78" y1="567.5" x2="260.78" y2="568.61" stroke="#ffcdd2" stroke-width="1" shape-rendering="crispEdges"/>
<line x1="263.61" y1="567.5" x2="263.61" y2="568.56" stroke="#ffcdd2" stroke-width="1" shape-rendering="crispEdges"/>
<line x1="266.44" y1="567.5" x2="266.44" y2="569.14" stroke="#ef5350" stroke-width="1" shape-rendering="crispEdges"/>
<line x1="269.27" y1="567.5" x2="269.27" y2="569.65" stroke="#ef5350" stroke-width="1" shape-rendering="crispEdges"/>
<line x1="272.1" y1="567.5" x2="272.1" y2="569.98" stroke="#ef5350" stroke-width="1" shape-rendering="crispEdges"/>
<line x1="274.93" y1="567.5" x2="274.93" y2="570.32" stroke="#ef5350" stroke-width="1" shape-rendering="crispEdges"/>
<line x1="277.75" y1="567.5" x2="277.75" y2="570.67" stroke="#ef5350" stroke-width="1" shape-rendering="crispEdges"/>
<line x1="280.58" y1="567.5" x2="280.58" y2="571.07" stroke="#ef5350" stroke-width="1" shape-rendering="crispEdges"/>
<line x1="283.41" y1="567.5" x2="283.41" y2="571.46" stroke="#ef5350" stroke-width="1" shape-rendering="crispEdges"/>
<line x1="286.24" y1="567.5" x2="286.24" y2="571.55" stroke="#ef5350" stroke-width="1" shape-rendering="crispEdges"/>
<line x1="289.07" y1="567.5" x2="289.07" y2="570.49" stroke="#ffcdd2" stroke-width="1" shape-rendering="crispEdges"/>
<line x1="291.9" y1="567.5" x2="291.9" y2="569.43" stroke="#ffcdd2" stroke-width="1" shape-rendering="crispEdges"/>
<line x1="294.73" y1="567.5" x2="294.73" y2="569.1" stroke="#ffcdd2" stroke-width="1" shape-rendering="crispEdges"/>
<line x1="297.56" y1="567.5" x2="297.56" y2="568.96" stroke="#ffcdd2" stroke-width="1" shape-rendering="crispEdges"/>
<line x1="300.39" y1="567.5" x2="300.39" y2="568.76" stroke="#ffcdd2" stroke-width="1" shape-rendering="crispEdges"/>
<line x1="303.22" y1="567.5" x2="303.22" y2="568.48" stroke="#ffcdd2" stroke-width="1" shape-rendering="crispEdges"/>
<line x1="306.05" y1="567.5" x2="306.05" y2="568.2" stroke="#ffcdd2" stroke-width="1" shape-rendering="crispEdges"/>
<line x1="308.87" y1="567.5" x2="308.87" y2="567.91" stroke="#ffcdd2" stroke-width="1" shape-rendering="crispEdges"/>
<line x1="311.7" y1="567" x2="311.7" y2="567.5" stroke="#26a69a" stroke-width="1" shape-rendering="crispEdges"/>
<line x1="314.53" y1="566.39" x2="314.53" y2="567.5" stroke="#26a69a" stroke-width="1" shape-rendering="crispEdges"/>
<line x1="317.36" y1="566.24" x2="317.36" y2="567.5" stroke="#26a69a" stroke-width="1" shape-rendering="crispEdges"/>
<line x1="320.19" y1="566.09" x2="320.19" y2="567.5" stroke="#26a69a" stroke-width="1" shape-rendering="crispEdges"/>
<line x1="323.02" y1="565.94" x2="323.02" y2="567.5" stroke="#26a69a" stroke-width="1" shape-rendering="crispEdges"/>
<line x1="325.85" y1="565.8" x2="325.85" y2="567.5" stroke="#26a69a" stroke-width="1" shape-rendering="crispEdges"/>
<line x1="328.68" y1="566.99" x2="328.68" y2="567.5" stroke="#b2dfdb" stroke-width="1" shape-rendering="crispEdges"/>
<line x1="331.51" y1="566.99" x2="331.51" y2="567.5" stroke="#26a69a" stroke-width="1" shape-rendering="crispEdges"/>
<line x1="334.34" y1="566.99" x2="334.34" y2="567.5" stroke="#26a69a" stroke-width="1" shape-rendering="crispEdges"/>
<line x1="337.16" y1="566.99" x2="337.16" y2="567.5" stroke="#26a69a" stroke-width="1" shape-rendering="crispEdges"/>
<line x1="339.99" y1="566.99" x2="339.99" y2="567.5" stroke="#26a69a" stroke-width="1" shape-rendering="crispEdges"/>
<line x1="342.82" y1="566.99" x2="342.82" y2="567.5" stroke="#26a69a" stroke-width="1" shape-rendering="crispEdges"/>
<line x1="345.65" y1="566.93" x2="345.65" y2="567.5" stroke="#26a69a" stroke-width="1" shape-rendering="crispEdges"/>
<line x1="348.48" y1="565.94" x2="348.48" y2="567.5" stroke="#26a69a" stroke-width="1" shape-rendering="crispEdges"/>
<line x1="351.31" y1="565.22" x2="351.31" y2="567.5" stroke="#26a69a" stroke-width="1" shape-rendering="crispEdges"/>
<line x1="354.14" y1="564.54" x2="354.14" y2="567.5" stroke="#26a69a" stroke-width="1" shape-rendering="crispEdges"/>
<line x1="356.97" y1="563.86" x2="356.97" y2="567.5" stroke="#26a69a" stroke-width="1" shape-rendering="crispEdges"/>
<line x1="359.8" y1="563.74" x2="359.8" y2="567.5" stroke="#26a69a" stroke-width="1" shape-rendering="crispEdges"/>
<line x1="362.62" y1="563.74" x2="362.62" y2="567.5" stroke="#26a69a" stroke-width="1" shape-rendering="crispEdges"/>
<line x1="365.45" y1="563.74" x2="365.45" y2="567.5" stroke="#26a69a" stroke-width="1" shape-rendering="crispEdges"/>
<line x1="368.28" y1="563.96" x2="368.28" y2="567.5" stroke="#b2dfdb" stroke-width="1" shape-rendering="crispEdges"/>
<line x1="371.11" y1="564.25" x2="371.11" y2="567.5" stroke="#b2dfdb" stroke-width="1" shape-rendering="crispEdges"/>
<line x1="373.94" y1="564.37" x2="373.94" y2="567.5" stroke="#b2dfdb" stroke-width="1" shape-rendering="crispEdges"/>
<line x1="376.77" y1="564.23" x2="376.77" y2="567.5" stroke="#26a69a" stroke-width="1" shape-rendering="crispEdges"/>
<line x1="379.6" y1="564.09" x2="379.6" y2="567.5" stroke="#26a69a" stroke-width="1" shape-rendering="crispEdges"/>
<line x1="382.43" y1="563.63" x2="382.43" y2="567.5" stroke="#26a69a" stroke-width="1" shape-rendering="crispEdges"/>
<line x1="385.26" y1="563.15" x2="385.26" y2="567.5" stroke="#26a69a" stroke-width="1" shape-rendering="crispEdges"/>
<line x1="388.09" y1="562.68" x2="388.09" y2="567.5" stroke="#26a69a" stroke-width="1" shape-rendering="crispEdges"/>
<line x1="390.92" y1="562.22" x2="390.92" y2="567.5" stroke="#26a69a" stroke-width="1" shape-rendering="crispEdges"/>
<line x1="393.74" y1="561.76" x2="393.74" y2="567.5" stroke="#26a69a" stroke-width="1" shape-rendering="crispEdges"/>
<line x1="396.57" y1="561.31" x2="396.57" y2="567.5" stroke="#26a69a" stroke-width="1" shape-rendering="crispEdges"/>
<line x1="399.4" y1="561" x2="399.4" y2="567.5" stroke="#26a69a" stroke-width="1" shape-rendering="crispEdges"/>
<line x1="402.23" y1="561" x2="402.23" y2="567.5" stroke="#26a69a" stroke-width="1" shape-rendering="crispEdges"/>
<line x1="405.06" y1="561" x2="405.06" y2="567.5" stroke="#26a69a" stroke-width="1" shape-rendering="crispEdges"/>
<line x1="407.89" y1="561.81" x2="407.89" y2="567.5" stroke="#b2dfdb" stroke-width="1" shape-rendering="crispEdges"/>
<line x1="410.72" y1="562.72" x2="410.72" y2="567.5" stroke="#b2dfdb" stroke-width="1" shape-rendering="crispEdges"/>
<line x1="413.55" y1="563.63" x2="413.55" y2="567.5" stroke="#b2dfdb" stroke-width="1" shape-rendering="crispEdges"/>
<line x1="416.38" y1="564.61" x2="416.38" y2="567.5" stroke="#b2dfdb" stroke-width="1" shape-rendering="crispEdges"/>
<line x1="419.21" y1="565.6" x2="419.21" y2="567.5" stroke="#b2dfdb" stroke-width="1" shape-rendering="crispEdges"/>
<line x1="422.03" y1="566.7" x2="422.03" y2="567.5" stroke="#b2dfdb" stroke-width="1" shape-rendering="crispEdges"/>
<line x1="424.86" y1="567.5" x2="424.86" y2="567.95" stroke="#ffcdd2" stroke-width="1" shape-rendering="crispEdges"/>
<line x1="427.69" y1="566.94" x2="427.69" y2="567.5" stroke="#26a69a" stroke-width="1" shape-rendering="crispEdges"/>
<line x1="430.52" y1="565.97" x2="430.52" y2="567.5" stroke="#26a69a" stroke-width="1" shape-rendering="crispEdges"/>
<line x1="433.35" y1="565.05" x2="433.35" y2="567.5" stroke="#26a69a" stroke-width="1" shape-rendering="crispEdges"/>
<line x1="436.18" y1="564.87" x2="436.18" y2="567.5" stroke="#26a69a" stroke-width="1" shape-rendering="crispEdges"/>
<line x1="439.01" y1="566.47" x2="439.01" y2="567.5" stroke="#b2dfdb" stroke-width="1" shape-rendering="crispEdges"/>
<line x1="441.84" y1="567.5" x2="441.84" y2="569.19" stroke="#ef5350" stroke-width="1" shape-rendering="crispEdges"/>
<line x1="444.67" y1="567.5" x2="444.67" y2="570.74" stroke="#ef5350" stroke-width="1" shape-rendering="crispEdges"/>
<line x1="447.5" y1="567.5" x2="447.5" y2="572.3" stroke="#ef5350" stroke-width="1" shape-rendering="crispEdges"/>
<line x1="450.32" y1="567.5" x2="450.32" y2="573.08" stroke="#ef5350" stroke-width="1" shape-rendering="crispEdges"/>
<line x1="453.15" y1="567.5" x2="453.15" y2="573.64" stroke="#ef5350" stroke-width="1" shape-rendering="crispEdges"/>
<line x1="455.98" y1="567.5" x2="455.98" y2="574.21" stroke="#ef5350" stroke-width="1" shape-rendering="crispEdges"/>
<line x1="458.81" y1="567.5" x2="458.81" y2="574.28" stroke="#ef5350" stroke-width="1" shape-rendering="crispEdges"/>
<line x1="461.64" y1="567.5" x2="461.64" y2="574.2" stroke="#ffcdd2" stroke-width="1" shape-rendering="crispEdges"/>
<line x1="464.47" y1="567.5" x2="464.47" y2="574.12" stroke="#ffcdd2" stroke-width="1" shape-rendering="crispEdges"/>
<line x1="467.3" y1="567.5" x2="467.3" y2="574.04" stroke="#ffcdd2" stroke-width="1" shape-rendering="crispEdges"/>
<line x1="470.13" y1="567.5" x2="470.13" y2="574.45" stroke="#ef5350" stroke-width="1" shape-rendering="crispEdges"/>
<line x1="472.96" y1="567.5" x2="472.96" y2="575.3" stroke="#ef5350" stroke-width="1" shape-rendering="crispEdges"/>
<line x1="475.79" y1="567.5" x2="475.79" y2="576.1" stroke="#ef5350" stroke-width="1" shape-rendering="crispEdges"/>
<line x1="478.61" y1="567.5" x2="478.61" y2="576.5" stroke="#ef5350" stroke-width="1" shape-rendering="crispEdges"/>
<line x1="481.44" y1="567.5" x2="481.44" y2="576.9" stroke="#ef5350" stroke-width="1" shape-rendering="crispEdges"/>
<line x1="484.27" y1="567.5" x2="484.27" y2="575.53" stroke="#ffcdd2" stroke-width="1" shape-rendering="crispEdges"/>
<line x1="487.1" y1="567.5" x2="487.1" y2="574.16" stroke="#ffcdd2" stroke-width="1" shape-rendering="crispEdges"/>
<line x1="489.93" y1="567.5" x2="489.93" y2="573.64" stroke="#ffcdd2" stroke-width="1" shape-rendering="crispEdges"/>
<line x1="492.76" y1="567.5" x2="492.76" y2="573.24" stroke="#ffcdd2" stroke-width="1" shape-rendering="crispEdges"/>
<line x1="495.59" y1="567.5" x2="495.59" y2="572.83" stroke="#ffcdd2" stroke-width="1" shape-rendering="crispEdges"/>
<line x1="498.42" y1="567.5" x2="498.42" y2="572.43" stroke="#ffcdd2" stroke-width="1" shape-rendering="crispEdges"/>
<line x1="501.25" y1="567.5" x2="501.25" y2="572.39" stroke="#ffcdd2" stroke-width="1" shape-rendering="crispEdges"/>
<line x1="504.08" y1="567.5" x2="504.08" y2="572.56" stroke="#ef5350" stroke-width="1" shape-rendering="crispEdges"/>
<line x1="506.9" y1="567.5" x2="506.9" y2="572.72" stroke="#ef5350" stroke-width="1" shape-rendering="crispEdges"/>
<line x1="509.73" y1="567.5" x2="509.73" y2="572.88" stroke="#ef5350" stroke-width="1" shape-rendering="crispEdges"/>
<line x1="512.56" y1="567.5" x2="512.56" y2="572.69" stroke="#ffcdd2" stroke-width="1" shape-rendering="crispEdges"/>
<line x1="515.39" y1="567.5" x2="515.39" y2="572.03" stroke="#ffcdd2" stroke-width="1" shape-rendering="crispEdges"/>
<line x1="518.22" y1="567.5" x2="518.22" y2="571.65" stroke="#ffcdd2" stroke-width="1" shape-rendering="crispEdges"/>
<line x1="521.05" y1="567.5" x2="521.05" y2="571.44" stroke="#ffcdd2" stroke-width="1" shape-rendering="crispEdges"/>
<line x1="523.88" y1="567.5" x2="523.88" y2="571.23" stroke="#ffcdd2" stroke-width="1" shape-rendering="crispEdges"/>
<line x1="526.71" y1="567.5" x2="526.71" y2="571.04" stroke="#ffcdd2" stroke-width="1" shape-rendering="crispEdges"/>
<line x1="529.54" y1="567.5" x2="529.54" y2="570.1" stroke="#ffcdd2" stroke-width="1" shape-rendering="crispEdges"/>
<line x1="532.37" y1="567.5" x2="532.37" y2="569.55" stroke="#ffcdd2" stroke-width="1" shape-rendering="crispEdges"/>
<line x1="535.19" y1="567.5" x2="535.19" y2="569.55" stroke="#ef5350" stroke-width="1" shape-rendering="crispEdges"/>
<line x1="538.02" y1="567.5" x2="538.02" y2="569.55" stroke="#ef5350" stroke-width="1" shape-rendering="crispEdges"/>
<line x1="540.85" y1="567.5" x2="540.85" y2="569.55" stroke="#ef5350" stroke-width="1" shape-rendering="crispEdges"/>
<line x1="543.68" y1="567.5" x2="543.68" y2="569.55" stroke="#ef5350" stroke-width="1" shape-rendering="crispEdges"/>
<line x1="546.51" y1="567.5" x2="546.51" y2="569.55" stroke="#ef5350" stroke-width="1" shape-rendering="crispEdges"/>
<line x1="549.34" y1="567.5" x2="549.34" y2="569.11" stroke="#ffcdd2" stroke-width="1" shape-rendering="crispEdges"/>
<line x1="552.17" y1="567.5" x2="552.17" y2="568.47" stroke="#ffcdd2" stroke-width="1" shape-rendering="crispEdges"/>
<line x1="557.83" y1="566.1" x2="557.83" y2="567.5" stroke="#26a69a" stroke-width="1" shape-rendering="crispEdges"/>
<line x1="560.66" y1="565.68" x2="560.66" y2="567.5" stroke="#26a69a" stroke-width="1" shape-rendering="crispEdges"/>
<line x1="563.48" y1="565.25" x2="563.48" y2="567.5" stroke="#26a69a" stroke-width="1" shape-rendering="crispEdges"/>
<line x1="566.31" y1="564.83" x2="566.31" y2="567.5" stroke="#26a69a" stroke-width="1" shape-rendering="crispEdges"/>
<line x1="569.14" y1="564.4" x2="569.14" y2="567.5" stroke="#26a69a" stroke-width="1" shape-rendering="crispEdges"/>
<line x1="571.97" y1="564" x2="571.97" y2="567.5" stroke="#26a69a" stroke-width="1" shape-rendering="crispEdges"/>
<line x1="574.8" y1="563.67" x2="574.8" y2="567.5" stroke="#26a69a" stroke-width="1" shape-rendering="crispEdges"/>
<line x1="577.63" y1="563.33" x2="577.63" y2="567.5" stroke="#26a69a" stroke-width="1" shape-rendering="crispEdges"/>
<line x1="580.46" y1="563" x2="580.46" y2="567.5" stroke="#26a69a" stroke-width="1" shape-rendering="crispEdges"/>
<line x1="583.29" y1="562.66" x2="583.29" y2="567.5" stroke="#26a69a" stroke-width="1" shape-rendering="crispEdges"/>
<line x1="586.12" y1="562.33" x2="586.12" y2="567.5" stroke="#26a69a" stroke-width="1" shape-rendering="crispEdges"/>
<line x1="588.95" y1="561.99" x2="588.95" y2="567.5" stroke="#26a69a" stroke-width="1" shape-rendering="crispEdges"/>
<line x1="591.77" y1="562.27" x2="591.77" y2="567.5" stroke="#b2dfdb" stroke-width="1" shape-rendering="crispEdges"/>
<line x1="594.6" y1="562.98" x2="594.6" y2="567.5" stroke="#b2dfdb" stroke-width="1" shape-rendering="crispEdges"/>
<line x1="597.43" y1="563.69" x2="597.43" y2="567.5" stroke="#b2dfdb" stroke-width="1" shape-rendering="crispEdges"/>
<line x1="600.26" y1="564.39" x2="600.26" y2="567.5" stroke="#b2dfdb" stroke-width="1" shape-rendering="crispEdges"/>
<line x1="603.09" y1="564.56" x2="603.09" y2="567.5" stroke="#b2dfdb" stroke-width="1" shape-rendering="crispEdges"/>
<line x1="605.92" y1="564.7" x2="605.92" y2="567.5" stroke="#b2dfdb" stroke-width="1" shape-rendering="crispEdges"/>
<line x1="608.75" y1="564.84" x2="608.75" y2="567.5" stroke="#b2dfdb" stroke-width="1" shape-rendering="crispEdges"/>
<line x1="611.58" y1="564.98" x2="611.58" y2="567.5" stroke="#b2dfdb" stroke-width="1" shape-rendering="crispEdges"/>
<line x1="614.41" y1="565.08" x2="614.41" y2="567.5" stroke="#b2dfdb" stroke-width="1" shape-rendering="crispEdges"/>
<line x1="617.24" y1="564.83" x2="617.24" y2="567.5" stroke="#26a69a" stroke-width="1" shape-rendering="crispEdges"/>
<line x1="620.06" y1="564.59" x2="620.06" y2="567.5" stroke="#26a69a" stroke-width="1" shape-rendering="crispEdges"/>
<line x1="622.89" y1="564.35" x2="622.89" y2="567.5" stroke="#26a69a" stroke-width="1" shape-rendering="crispEdges"/>
<line x1="625.72" y1="564.11" x2="625.72" y2="567.5" stroke="#26a69a" stroke-width="1" shape-rendering="crispEdges"/>
<line x1="628.55" y1="563.13" x2="628.55" y2="567.5" stroke="#26a69a" stroke-width="1" shape-rendering="crispEdges"/>
<line x1="631.38" y1="562.07" x2="631.38" y2="567.5" stroke="#26a69a" stroke-width="1" shape-rendering="crispEdges"/>
<line x1="634.21" y1="561.01" x2="634.21" y2="567.5" stroke="#26a69a" stroke-width="1" shape-rendering="crispEdges"/>
<line x1="637.04" y1="559.95" x2="637.04" y2="567.5" stroke="#26a69a" stroke-width="1" shape-rendering="crispEdges"/>
<line x1="639.87" y1="558.82" x2="639.87" y2="567.5" stroke="#26a69a" stroke-width="1" shape-rendering="crispEdges"/>
<line x1="642.7" y1="556.7" x2="642.7" y2="567.5" stroke="#26a69a" stroke-width="1" shape-rendering="crispEdges"/>
<line x1="645.53" y1="554.58" x2="645.53" y2="567.5" stroke="#26a69a" stroke-width="1" shape-rendering="crispEdges"/>
<line x1="648.35" y1="557.45" x2="648.35" y2="567.5" stroke="#b2dfdb" stroke-width="1" shape-rendering="crispEdges"/>
<line x1="651.18" y1="562.58" x2="651.18" y2="567.5" stroke="#b2dfdb" stroke-width="1" shape-rendering="crispEdges"/>
<line x1="654.01" y1="564.2" x2="654.01" y2="567.5" stroke="#b2dfdb" stroke-width="1" shape-rendering="crispEdges"/>
<line x1="656.84" y1="565.82" x2="656.84" y2="567.5" stroke="#b2dfdb" stroke-width="1" shape-rendering="crispEdges"/>
<line x1="659.67" y1="567.5" x2="659.67" y2="568" stroke="#ffcdd2" stroke-width="1" shape-rendering="crispEdges"/>
<line x1="662.5" y1="567.5" x2="662.5" y2="569.44" stroke="#ef5350" stroke-width="1" shape-rendering="crispEdges"/>
<line x1="665.33" y1="567.5" x2="665.33" y2="570.89" stroke="#ef5350" stroke-width="1" shape-rendering="crispEdges"/>
<line x1="668.16" y1="567.5" x2="668.16" y2="572.18" stroke="#ef5350" stroke-width="1" shape-rendering="crispEdges"/>
<line x1="670.99" y1="567.5" x2="670.99" y2="573.23" stroke="#ef5350" stroke-width="1" shape-rendering="crispEdges"/>
<line x1="673.82" y1="567.5" x2="673.82" y2="573.6" stroke="#ef5350" stroke-width="1" shape-rendering="crispEdges"/>
<line x1="676.64" y1="567.5" x2="676.64" y2="572.15" stroke="#ffcdd2" stroke-width="1" shape-rendering="crispEdges"/>
<line x1="679.47" y1="567.5" x2="679.47" y2="570.91" stroke="#ffcdd2" stroke-width="1" shape-rendering="crispEdges"/>
<line x1="682.3" y1="567.5" x2="682.3" y2="570.83" stroke="#ffcdd2" stroke-width="1" shape-rendering="crispEdges"/>
<line x1="685.13" y1="567.5" x2="685.13" y2="570.75" stroke="#ffcdd2" stroke-width="1" shape-rendering="crispEdges"/>
<line x1="687.96" y1="567.5" x2="687.96" y2="570.66" stroke="#ffcdd2" stroke-width="1" shape-rendering="crispEdges"/>
<line x1="690.79" y1="567.5" x2="690.79" y2="570.58" stroke="#ffcdd2" stroke-width="1" shape-rendering="crispEdges"/>
<line x1="693.62" y1="567.5" x2="693.62" y2="570.69" stroke="#ef5350" stroke-width="1" shape-rendering="crispEdges"/>
<line x1="696.45" y1="567.5" x2="696.45" y2="570.82" stroke="#ef5350" stroke-width="1" shape-rendering="crispEdges"/>
<line x1="699.28" y1="567.5" x2="699.28" y2="570.57" stroke="#ffcdd2" stroke-width="1" shape-rendering="crispEdges"/>
<line x1="702.11" y1="567.5" x2="702.11" y2="568.87" stroke="#ffcdd2" stroke-width="1" shape-rendering="crispEdges"/>
<line x1="704.93" y1="566.65" x2="704.93" y2="567.5" stroke="#b2dfdb" stroke-width="1" shape-rendering="crispEdges"/>
<line x1="707.76" y1="565.44" x2="707.76" y2="567.5" stroke="#26a69a" stroke-width="1" shape-rendering="crispEdges"/>
<line x1="710.59" y1="564.57" x2="710.59" y2="567.5" stroke="#26a69a" stroke-width="1" shape-rendering="crispEdges"/>
<line x1="713.42" y1="563.69" x2="713.42" y2="567.5" stroke="#26a69a" stroke-width="1" shape-rendering="crispEdges"/>
<line x1="716.25" y1="563.45" x2="716.25" y2="567.5" stroke="#26a69a" stroke-width="1" shape-rendering="crispEdges"/>
<line x1="719.08" y1="563.95" x2="719.08" y2="567.5" stroke="#b2dfdb" stroke-width="1" shape-rendering="crispEdges"/>
<line x1="721.91" y1="564.44" x2="721.91" y2="567.5" stroke="#b2dfdb" stroke-width="1" shape-rendering="crispEdges"/>
<line x1="724.74" y1="564.76" x2="724.74" y2="567.5" stroke="#b2dfdb" stroke-width="1" shape-rendering="crispEdges"/>
<line x1="727.57" y1="565.08" x2="727.57" y2="567.5" stroke="#b2dfdb" stroke-width="1" shape-rendering="crispEdges"/>
<line x1="730.4" y1="561.84" x2="730.4" y2="567.5" stroke="#26a69a" stroke-width="1" shape-rendering="crispEdges"/>
<line x1="733.22" y1="557.14" x2="733.22" y2="567.5" stroke="#26a69a" stroke-width="1" shape-rendering="crispEdges"/>
<line x1="736.05" y1="552.11" x2="736.05" y2="567.5" stroke="#26a69a" stroke-width="1" shape-rendering="crispEdges"/>
<line x1="738.88" y1="552.11" x2="738.88" y2="567.5" stroke="#26a69a" stroke-width="1" shape-rendering="crispEdges"/>
<line x1="741.71" y1="552.11" x2="741.71" y2="567.5" stroke="#26a69a" stroke-width="1" shape-rendering="crispEdges"/>
<line x1="744.54" y1="552.11" x2="744.54" y2="567.5" stroke="#26a69a" stroke-width="1" shape-rendering="crispEdges"/>
<line x1="747.37" y1="552.11" x2="747.37" y2="567.5" stroke="#26a69a" stroke-width="1" shape-rendering="crispEdges"/>
<line x1="750.2" y1="552.15" x2="750.2" y2="567.5" stroke="#b2dfdb" stroke-width="1" shape-rendering="crispEdges"/>
<line x1="753.03" y1="552.24" x2="753.03" y2="567.5" stroke="#b2dfdb" stroke-width="1" shape-rendering="crispEdges"/>
<line x1="755.86" y1="552.33" x2="755.86" y2="567.5" stroke="#b2dfdb" stroke-width="1" shape-rendering="crispEdges"/>
<line x1="758.69" y1="552.43" x2="758.69" y2="567.5" stroke="#b2dfdb" stroke-width="1" shape-rendering="crispEdges"/>
<line x1="761.51" y1="556.51" x2="761.51" y2="567.5" stroke="#b2dfdb" stroke-width="1" shape-rendering="crispEdges"/>
<line x1="764.34" y1="561.84" x2="764.34" y2="567.5" stroke="#b2dfdb" stroke-width="1" shape-rendering="crispEdges"/>
<line x1="767.17" y1="566.71" x2="767.17" y2="567.5" stroke="#b2dfdb" stroke-width="1" shape-rendering="crispEdges"/>
<line x1="770" y1="567.5" x2="770" y2="570.55" stroke="#ef5350" stroke-width="1" shape-rendering="crispEdges"/>
<line x1="772.83" y1="567.5" x2="772.83" y2="572.57" stroke="#ef5350" stroke-width="1" shape-rendering="crispEdges"/>
<line x1="775.66" y1="567.5" x2="775.66" y2="574.6" stroke="#ef5350" stroke-width="1" shape-rendering="crispEdges"/>
<line x1="778.49" y1="567.5" x2="778.49" y2="575.98" stroke="#ef5350" stroke-width="1" shape-rendering="crispEdges"/>
<line x1="781.32" y1="567.5" x2="781.32" y2="577" stroke="#ef5350" stroke-width="1" shape-rendering="crispEdges"/>
<line x1="784.15" y1="567.5" x2="784.15" y2="576.89" stroke="#ffcdd2" stroke-width="1" shape-rendering="crispEdges"/>
<line x1="786.98" y1="567.5" x2="786.98" y2="575.03" stroke="#ffcdd2" stroke-width="1" shape-rendering="crispEdges"/>
<line x1="789.8" y1="567.5" x2="789.8" y2="573.48" stroke="#ffcdd2" stroke-width="1" shape-rendering="crispEdges"/>
<line x1="792.63" y1="567.5" x2="792.63" y2="574.08" stroke="#ef5350" stroke-width="1" shape-rendering="crispEdges"/>
<line x1="795.46" y1="567.5" x2="795.46" y2="574.79" stroke="#ef5350" stroke-width="1" shape-rendering="crispEdges"/>
<line x1="798.29" y1="567.5" x2="798.29" y2="574.86" stroke="#ef5350" stroke-width="1" shape-rendering="crispEdges"/>
<line x1="801.12" y1="567.5" x2="801.12" y2="574.06" stroke="#ffcdd2" stroke-width="1" shape-rendering="crispEdges"/>
<line x1="803.95" y1="567.5" x2="803.95" y2="573.25" stroke="#ffcdd2" stroke-width="1" shape-rendering="crispEdges"/>
<line x1="806.78" y1="567.5" x2="806.78" y2="572.45" stroke="#ffcdd2" stroke-width="1" shape-rendering="crispEdges"/>
<line x1="809.61" y1="567.5" x2="809.61" y2="572.29" stroke="#ffcdd2" stroke-width="1" shape-rendering="crispEdges"/>
<line x1="812.44" y1="567.5" x2="812.44" y2="572.29" stroke="#ef5350" stroke-width="1" shape-rendering="crispEdges"/>
<line x1="815.27" y1="567.5" x2="815.27" y2="571.9" stroke="#ffcdd2" stroke-width="1" shape-rendering="crispEdges"/>
<line x1="818.09" y1="567.5" x2="818.09" y2="570.87" stroke="#ffcdd2" stroke-width="1" shape-rendering="crispEdges"/>
<line x1="820.92" y1="567.5" x2="820.92" y2="569.84" stroke="#ffcdd2" stroke-width="1" shape-rendering="crispEdges"/>
<line x1="823.75" y1="567.5" x2="823.75" y2="568.49" stroke="#ffcdd2" stroke-width="1" shape-rendering="crispEdges"/>
<line x1="826.58" y1="561.98" x2="826.58" y2="567.5" stroke="#26a69a" stroke-width="1" shape-rendering="crispEdges"/>
<line x1="829.41" y1="559.26" x2="829.41" y2="567.5" stroke="#26a69a" stroke-width="1" shape-rendering="crispEdges"/>
<line x1="832.24" y1="556.54" x2="832.24" y2="567.5" stroke="#26a69a" stroke-width="1" shape-rendering="crispEdges"/>
<line x1="835.07" y1="554.08" x2="835.07" y2="567.5" stroke="#26a69a" stroke-width="1" shape-rendering="crispEdges"/>
<line x1="837.9" y1="553.4" x2="837.9" y2="567.5" stroke="#26a69a" stroke-width="1" shape-rendering="crispEdges"/>
<line x1="840.73" y1="552.72" x2="840.73" y2="567.5" stroke="#26a69a" stroke-width="1" shape-rendering="crispEdges"/>
<line x1="843.56" y1="552.11" x2="843.56" y2="567.5" stroke="#26a69a" stroke-width="1" shape-rendering="crispEdges"/>
<line x1="846.38" y1="552.16" x2="846.38" y2="567.5" stroke="#b2dfdb" stroke-width="1" shape-rendering="crispEdges"/>
<line x1="849.21" y1="552.2" x2="849.21" y2="567.5" stroke="#b2dfdb" stroke-width="1" shape-rendering="crispEdges"/>
<line x1="852.04" y1="552.25" x2="852.04" y2="567.5" stroke="#b2dfdb" stroke-width="1" shape-rendering="crispEdges"/>
<line x1="854.87" y1="552.29" x2="854.87" y2="567.5" stroke="#b2dfdb" stroke-width="1" shape-rendering="crispEdges"/>
<line x1="857.7" y1="552.33" x2="857.7" y2="567.5" stroke="#b2dfdb" stroke-width="1" shape-rendering="crispEdges"/>
<line x1="860.53" y1="552.38" x2="860.53" y2="567.5" stroke="#b2dfdb" stroke-width="1" shape-rendering="crispEdges"/>
<line x1="863.36" y1="552.42" x2="863.36" y2="567.5" stroke="#b2dfdb" stroke-width="1" shape-rendering="crispEdges"/>
<line x1="866.19" y1="553.59" x2="866.19" y2="567.5" stroke="#b2dfdb" stroke-width="1" shape-rendering="crispEdges"/>
<line x1="869.02" y1="558.28" x2="869.02" y2="567.5" stroke="#b2dfdb" stroke-width="1" shape-rendering="crispEdges"/>
<line x1="871.85" y1="563.78" x2="871.85" y2="567.5" stroke="#b2dfdb" stroke-width="1" shape-rendering="crispEdges"/>
<line x1="874.67" y1="567.5" x2="874.67" y2="570.44" stroke="#ffcdd2" stroke-width="1" shape-rendering="crispEdges"/>
<line x1="877.5" y1="567.5" x2="877.5" y2="574.16" stroke="#ef5350" stroke-width="1" shape-rendering="crispEdges"/>
<line x1="880.33" y1="567.5" x2="880.33" y2="577.88" stroke="#ef5350" stroke-width="1" shape-rendering="crispEdges"/>
<line x1="883.16" y1="567.5" x2="883.16" y2="580.39" stroke="#ef5350" stroke-width="1" shape-rendering="crispEdges"/>
<line x1="885.99" y1="567.5" x2="885.99" y2="582.61" stroke="#ef5350" stroke-width="1" shape-rendering="crispEdges"/>
<line x1="888.82" y1="567.5" x2="888.82" y2="584.83" stroke="#ef5350" stroke-width="1" shape-rendering="crispEdges"/>
<line x1="891.65" y1="567.5" x2="891.65" y2="585.21" stroke="#ef5350" stroke-width="1" shape-rendering="crispEdges"/>
<line x1="894.48" y1="567.5" x2="894.48" y2="577.84" stroke="#ffcdd2" stroke-width="1" shape-rendering="crispEdges"/>
<line x1="897.31" y1="567.5" x2="897.31" y2="578.72" stroke="#ef5350" stroke-width="1" shape-rendering="crispEdges"/>
<line x1="900.14" y1="567.5" x2="900.14" y2="579.83" stroke="#ef5350" stroke-width="1" shape-rendering="crispEdges"/>
<line x1="902.96" y1="567.5" x2="902.96" y2="582.19" stroke="#ef5350" stroke-width="1" shape-rendering="crispEdges"/>
<line x1="905.79" y1="567.5" x2="905.79" y2="584.55" stroke="#ef5350" stroke-width="1" shape-rendering="crispEdges"/>
<line x1="908.62" y1="567.5" x2="908.62" y2="586.91" stroke="#ef5350" stroke-width="1" shape-rendering="crispEdges"/>
<line x1="911.45" y1="567.5" x2="911.45" y2="588.58" stroke="#ef5350" stroke-width="1" shape-rendering="crispEdges"/>
<line x1="914.28" y1="567.5" x2="914.28" y2="589.64" stroke="#ef5350" stroke-width="1" shape-rendering="crispEdges"/>
<line x1="917.11" y1="567.5" x2="917.11" y2="590.37" stroke="#ef5350" stroke-width="1" shape-rendering="crispEdges"/>
<line x1="919.94" y1="567.5" x2="919.94" y2="588.39" stroke="#ffcdd2" stroke-width="1" shape-rendering="crispEdges"/>
<line x1="922.77" y1="567.5" x2="922.77" y2="586.41" stroke="#ffcdd2" stroke-width="1" shape-rendering="crispEdges"/>
<line x1="925.6" y1="567.5" x2="925.6" y2="584.49" stroke="#ffcdd2" stroke-width="1" shape-rendering="crispEdges"/>
<line x1="928.43" y1="567.5" x2="928.43" y2="583.23" stroke="#ffcdd2" stroke-width="1" shape-rendering="crispEdges"/>
<line x1="931.25" y1="567.5" x2="931.25" y2="581.98" stroke="#ffcdd2" stroke-width="1" shape-rendering="crispEdges"/>
<line x1="934.08" y1="567.5" x2="934.08" y2="580.72" stroke="#ffcdd2" stroke-width="1" shape-rendering="crispEdges"/>
<line x1="936.91" y1="567.5" x2="936.91" y2="579.46" stroke="#ffcdd2" stroke-width="1" shape-rendering="crispEdges"/>
<line x1="939.74" y1="567.5" x2="939.74" y2="578.2" stroke="#ffcdd2" stroke-width="1" shape-rendering="crispEdges"/>
<line x1="942.57" y1="567.5" x2="942.57" y2="578.07" stroke="#ffcdd2" stroke-width="1" shape-rendering="crispEdges"/>
<line x1="945.4" y1="567.5" x2="945.4" y2="578.54" stroke="#ef5350" stroke-width="1" shape-rendering="crispEdges"/>
<line x1="948.23" y1="567.5" x2="948.23" y2="578.11" stroke="#ffcdd2" stroke-width="1" shape-rendering="crispEdges"/>
<line x1="951.06" y1="567.5" x2="951.06" y2="577.51" stroke="#ffcdd2" stroke-width="1" shape-rendering="crispEdges"/>
<line x1="953.89" y1="567.5" x2="953.89" y2="576.91" stroke="#ffcdd2" stroke-width="1" shape-rendering="crispEdges"/>
<line x1="956.72" y1="567.5" x2="956.72" y2="576.31" stroke="#ffcdd2" stroke-width="1" shape-rendering="crispEdges"/>
<line x1="959.54" y1="567.5" x2="959.54" y2="575.71" stroke="#ffcdd2" stroke-width="1" shape-rendering="crispEdges"/>
<line x1="962.37" y1="567.5" x2="962.37" y2="576.37" stroke="#ef5350" stroke-width="1" shape-rendering="crispEdges"/>
<line x1="965.2" y1="567.5" x2="965.2" y2="576.99" stroke="#ef5350" stroke-width="1" shape-rendering="crispEdges"/>
<line x1="968.03" y1="567.5" x2="968.03" y2="577.46" stroke="#ef5350" stroke-width="1" shape-rendering="crispEdges"/>
<line x1="970.86" y1="567.5" x2="970.86" y2="577.94" stroke="#ef5350" stroke-width="1" shape-rendering="crispEdges"/>
<line x1="973.69" y1="567.5" x2="973.69" y2="578.41" stroke="#ef5350" stroke-width="1" shape-rendering="crispEdges"/>
<line x1="976.52" y1="567.5" x2="976.52" y2="578.84" stroke="#ef5350" stroke-width="1" shape-rendering="crispEdges"/>
<line x1="979.35" y1="567.5" x2="979.35" y2="579.24" stroke="#ef5350" stroke-width="1" shape-rendering="crispEdges"/>
<line x1="982.18" y1="567.5" x2="982.18" y2="579.65" stroke="#ef5350" stroke-width="1" shape-rendering="crispEdges"/>
<line x1="985.01" y1="567.5" x2="985.01" y2="580.05" stroke="#ef5350" stroke-width="1" shape-rendering="crispEdges"/>
<line x1="987.83" y1="567.5" x2="987.83" y2="579.8" stroke="#ffcdd2" stroke-width="1" shape-rendering="crispEdges"/>
<line x1="990.66" y1="567.5" x2="990.66" y2="578.18" stroke="#ffcdd2" stroke-width="1" shape-rendering="crispEdges"/>
<line x1="993.49" y1="567.5" x2="993.49" y2="576.1" stroke="#ffcdd2" stroke-width="1" shape-rendering="crispEdges"/>
<line x1="996.32" y1="567.5" x2="996.32" y2="572.3" stroke="#ffcdd2" stroke-width="1" shape-rendering="crispEdges"/>
<line x1="999.15" y1="567.5" x2="999.15" y2="568.5" stroke="#ffcdd2" stroke-width="1" shape-rendering="crispEdges"/>
<line x1="1001.98" y1="564.87" x2="1001.98" y2="567.5" stroke="#26a69a" stroke-width="1" shape-rendering="crispEdges"/>
<line x1="1004.81" y1="564.47" x2="1004.81" y2="567.5" stroke="#26a69a" stroke-width="1" shape-rendering="crispEdges"/>
<line x1="1007.64" y1="567.5" x2="1007.64" y2="568.01" stroke="#ffcdd2" stroke-width="1" shape-rendering="crispEdges"/>
<line x1="1010.47" y1="567.5" x2="1010.47" y2="568.01" stroke="#ef5350" stroke-width="1" shape-rendering="crispEdges"/>
<line x1="1013.3" y1="567.5" x2="1013.3" y2="571.6" stroke="#ef5350" stroke-width="1" shape-rendering="crispEdges"/>
<line x1="1016.12" y1="567.5" x2="1016.12" y2="572.23" stroke="#ef5350" stroke-width="1" shape-rendering="crispEdges"/>
<line x1="1018.95" y1="567.5" x2="1018.95" y2="572.4" stroke="#ef5350" stroke-width="1" shape-rendering="crispEdges"/>
<line x1="1021.78" y1="567.5" x2="1021.78" y2="570.83" stroke="#ffcdd2" stroke-width="1" shape-rendering="crispEdges"/>
<line x1="1024.61" y1="567.5" x2="1024.61" y2="569.26" stroke="#ffcdd2" stroke-width="1" shape-rendering="crispEdges"/>
<line x1="1030.27" y1="565.46" x2="1030.27" y2="567.5" stroke="#26a69a" stroke-width="1" shape-rendering="crispEdges"/>
<line x1="1033.1" y1="564.01" x2="1033.1" y2="567.5" stroke="#26a69a" stroke-width="1" shape-rendering="crispEdges"/>
<line x1="1035.93" y1="562.85" x2="1035.93" y2="567.5" stroke="#26a69a" stroke-width="1" shape-rendering="crispEdges"/>
<line x1="1038.76" y1="564.27" x2="1038.76" y2="567.5" stroke="#b2dfdb" stroke-width="1" shape-rendering="crispEdges"/>
<line x1="1041.59" y1="565.68" x2="1041.59" y2="567.5" stroke="#b2dfdb" stroke-width="1" shape-rendering="crispEdges"/>
<line x1="1044.41" y1="566.99" x2="1044.41" y2="567.5" stroke="#b2dfdb" stroke-width="1" shape-rendering="crispEdges"/>
<path d="M7.69,574.73 C8.69,573.67 11.83,570.31 13.68,568.4 C15.53,566.49 17.1,564.55 18.81,563.27 C20.52,561.99 22.37,560.85 23.94,560.7 C25.51,560.56 26.93,561.56 28.21,562.41 C29.5,563.27 29.21,565.12 31.63,565.83 C34.06,566.55 38.62,566.32 42.75,566.69 C46.88,567.06 52.72,568.34 56.43,568.06 C60.13,567.77 62.13,565.83 64.98,564.98 C67.83,564.12 69.54,563.16 73.53,562.93 C77.52,562.7 84.07,563.21 88.92,563.61 C93.76,564.01 97.75,564.95 102.6,565.32 C107.44,565.69 114.28,564.98 117.99,565.83 C121.69,566.69 121.69,569.25 124.83,570.45 C127.96,571.65 133.09,572.56 136.8,573.02 C140.5,573.47 142.78,574.1 147.06,573.19 C151.33,572.28 157.89,569.05 162.45,567.54 C167.01,566.03 170.14,565.69 174.42,564.12 C178.69,562.56 184.39,558.91 188.1,558.14 C191.8,557.37 192.94,558.99 196.65,559.51 C200.35,560.02 205.77,561.3 210.33,561.22 C214.89,561.13 219.16,558.6 224.01,558.99 C228.85,559.39 233.98,562.39 239.4,563.61 C244.81,564.84 252.51,565.75 256.5,566.35 C260.49,566.95 262.18,566.8 263.34,567.2 C264.49,567.6 261.7,567.69 263.42,568.74 C265.14,569.8 269.97,572.16 273.68,573.53 C277.38,574.9 281.37,576.44 285.65,576.95 C289.92,577.46 295.05,576.89 299.33,576.61 C303.6,576.32 307.02,575.89 311.3,575.24 C315.57,574.58 319.28,573.24 324.98,572.67 C330.68,572.1 340.37,572.67 345.5,571.82 C350.63,570.96 352.91,568.74 355.76,567.54 C358.61,566.35 360.03,565.98 362.6,564.64 C365.16,563.3 368.3,560.73 371.15,559.51 C374,558.28 376.56,558.37 379.7,557.28 C382.83,556.2 387.11,554.43 389.96,553.01 C392.81,551.58 392.81,550.73 396.8,548.73 C400.79,546.74 408.2,542.32 413.9,541.04 C419.6,539.76 425.87,540.18 431,541.04 C436.13,541.89 441.4,544.32 444.68,546.17 C447.96,548.02 448.38,550.3 450.66,552.15 C452.94,554.01 455.94,556.14 458.36,557.28 C460.78,558.42 462.63,557.43 465.2,558.99 C467.76,560.56 470.9,564.12 473.75,566.69 C476.6,569.25 478.59,572.96 482.3,574.38 C486,575.81 492.27,574.58 495.98,575.24 C499.68,575.89 501.68,576.84 504.53,578.32 C507.38,579.8 510.23,582.93 513.08,584.13 C515.93,585.33 518.76,585.07 521.63,585.5 C524.49,585.93 527.11,586.41 530.26,586.7 C533.41,586.98 537.24,586.84 540.52,587.21 C543.8,587.58 546.79,589.49 549.92,588.92 C553.06,588.35 555.77,585.36 559.33,583.79 C562.89,582.22 567.59,580.94 571.3,579.51 C575,578.09 578.14,576.75 581.56,575.24 C584.98,573.73 587.83,571.53 591.82,570.45 C595.81,569.37 601.51,569.23 605.5,568.74 C609.49,568.26 612.34,568.17 615.76,567.54 C619.18,566.92 623.17,566.26 626.02,564.98 C628.87,563.7 630.58,561.62 632.86,559.85 C635.14,558.08 637.7,556.23 639.7,554.38 C641.69,552.53 642.55,549.96 644.83,548.73 C647.11,547.51 650.53,546.45 653.38,547.02 C656.23,547.59 659.65,550.44 661.93,552.15 C664.21,553.86 665.06,555.66 667.06,557.28 C669.05,558.91 671.62,561.05 673.9,561.9 C676.18,562.76 678.46,562.47 680.74,562.41 C683.02,562.36 685.3,561.27 687.58,561.56 C689.86,561.84 692.14,563.55 694.42,564.12 C696.7,564.69 698.98,565.63 701.26,564.98 C703.54,564.32 705.53,561.62 708.1,560.19 C710.66,558.77 713.8,557.28 716.65,556.43 C719.5,555.57 722.78,555.77 725.2,555.06 C727.62,554.35 728.33,555.63 731.18,552.15 C734.03,548.68 737.6,538.62 742.3,534.2 C747,529.78 750.26,527.93 759.4,525.65 C768.53,523.37 785.12,523.08 797.1,520.52 C809.08,517.95 819.9,510.26 831.3,510.26 C842.7,510.26 854.1,515.39 865.5,520.52 C876.9,525.65 891.15,535.77 899.7,541.04 C908.25,546.31 912.81,549.65 916.8,552.15 C920.79,554.66 921.22,553.52 923.64,556.09 C926.06,558.65 929.05,565.49 931.33,567.54 C933.61,569.6 934.9,566.83 937.32,568.4 C939.74,569.97 941.88,574.1 945.87,576.95 C949.86,579.8 957.55,582.93 961.26,585.5 C964.96,588.06 965.25,589.63 968.1,592.34 C970.95,595.05 975.22,598.47 978.36,601.74 C981.49,605.02 984.63,609.81 986.91,612 C989.19,614.2 990.19,614.91 992.04,614.91 C993.89,614.91 995.89,613.83 998.02,612 C1000.16,610.18 1002.44,604.25 1004.86,603.97 C1007.29,603.68 1010.71,608.81 1012.56,610.29 C1014.41,611.78 1014.55,612.2 1015.98,612.86 C1017.4,613.51 1019.26,614.37 1021.11,614.23 C1022.96,614.08 1025.1,613.37 1027.09,612 C1029.09,610.64 1031.08,607.44 1033.08,606.02 C1035.07,604.59 1036.93,603.4 1039.06,603.45 C1041.2,603.51 1044.76,605.88 1045.9,606.36" stroke="#2196f3" stroke-width="3" fill="none" stroke-linejoin="round" stroke-linecap="round"/>
<path d="M7.69,577.29 C9.26,576.38 14.11,573.53 17.1,571.82 C20.09,570.11 23.37,568.09 25.65,567.03 C27.93,565.98 27.93,565.69 30.78,565.49 C33.63,565.29 38.47,565.58 42.75,565.83 C47.02,566.09 50.73,567.32 56.43,567.03 C62.13,566.75 71.53,564.67 76.95,564.12 C82.36,563.58 84.07,563.64 88.92,563.78 C93.76,563.92 100.89,564.64 106.02,564.98 C111.15,565.32 115.42,565.12 119.7,565.83 C123.97,566.55 127.11,568.26 131.67,569.25 C136.23,570.25 141.93,571.82 147.06,571.82 C152.19,571.82 157.32,570.25 162.45,569.25 C167.58,568.26 172.99,567.17 177.84,565.83 C182.68,564.49 186.96,562.16 191.52,561.22 C196.08,560.28 199.78,560.42 205.2,560.19 C210.61,559.96 218.31,559.56 224.01,559.85 C229.71,560.13 233.98,561.1 239.4,561.9 C244.81,562.7 251.4,563.84 256.5,564.64 C261.6,565.44 267.71,566.29 270.01,566.69 C272.3,567.09 268.51,566.32 270.26,567.03 C272.01,567.74 277.1,569.82 280.52,570.96 C283.94,572.1 286.79,573.16 290.78,573.87 C294.77,574.58 299.9,575.07 304.46,575.24 C309.02,575.41 313.58,575.18 318.14,574.9 C322.7,574.61 326.69,573.9 331.82,573.53 C336.95,573.16 343.79,573.53 348.92,572.67 C354.05,571.82 358.04,570.02 362.6,568.4 C367.16,566.77 372,564.49 376.28,562.93 C380.55,561.36 383.97,560.7 388.25,558.99 C392.52,557.28 397.65,554.81 401.93,552.67 C406.2,550.53 409.05,547.82 413.9,546.17 C418.74,544.52 425.3,542.75 431,542.75 C436.7,542.75 442.97,544.6 448.1,546.17 C453.23,547.74 458.36,550.73 461.78,552.15 C465.2,553.58 465.77,552.87 468.62,554.72 C471.47,556.57 475.46,560.85 478.88,563.27 C482.3,565.69 485.72,567.83 489.14,569.25 C492.56,570.68 495.98,570.39 499.4,571.82 C502.82,573.24 506.24,576.24 509.66,577.8 C513.08,579.37 518.19,580.65 519.92,581.22 C521.64,581.79 518.28,580.74 520,581.22 C521.72,581.71 526.55,583.42 530.26,584.13 C533.96,584.84 538.24,584.93 542.23,585.5 C546.22,586.07 550.49,587.61 554.2,587.55 C557.9,587.49 560.47,586.3 564.46,585.16 C568.45,584.02 573.58,582.36 578.14,580.71 C582.7,579.06 587.26,576.78 591.82,575.24 C596.38,573.7 600.94,572.56 605.5,571.48 C610.06,570.39 615.19,569.54 619.18,568.74 C623.17,567.94 626.02,567.89 629.44,566.69 C632.86,565.49 636.85,563.33 639.7,561.56 C642.55,559.79 644.26,557.46 646.54,556.09 C648.82,554.72 651.1,553.81 653.38,553.35 C655.66,552.9 657.65,553.12 660.22,553.35 C662.78,553.58 665.92,553.92 668.77,554.72 C671.62,555.52 674.18,557.28 677.32,558.14 C680.45,558.99 684.16,559.14 687.58,559.85 C691,560.56 695.27,561.84 697.84,562.41 C700.4,562.98 700.69,563.47 702.97,563.27 C705.25,563.07 708.38,562.02 711.52,561.22 C714.65,560.42 718.64,559.34 721.78,558.48 C724.91,557.63 728.05,557.14 730.33,556.09 C732.61,555.03 732.61,554.95 735.46,552.15 C738.31,549.36 742.01,543.18 747.43,539.33 C752.84,535.48 758.24,531.92 767.95,529.07 C777.65,526.22 793.67,524.79 805.65,522.23 C817.63,519.66 828.45,514.25 839.85,513.68 C851.25,513.11 862.65,514.82 874.05,518.81 C885.45,522.8 898.56,532.06 908.25,537.62 C917.94,543.18 926.2,547.74 932.19,552.15 C938.17,556.57 940.45,560.7 944.16,564.12 C947.86,567.54 950.43,569.68 954.42,572.67 C958.41,575.67 964.11,578.94 968.1,582.08 C972.09,585.21 975.22,588.35 978.36,591.48 C981.49,594.62 984.63,598.47 986.91,600.89 C989.19,603.31 990.33,604.79 992.04,606.02 C993.75,607.24 994.32,608.01 997.17,608.24 C1000.02,608.47 1005.43,607.05 1009.14,607.39 C1012.84,607.73 1016.55,609.67 1019.4,610.29 C1022.25,610.92 1023.39,611.43 1026.24,611.15 C1029.09,610.86 1033.22,609.21 1036.5,608.58 C1039.78,607.96 1044.34,607.59 1045.9,607.39" stroke="#f44336" stroke-width="3" fill="none" stroke-linejoin="round" stroke-linecap="round"/>
</g>
<polyline points="7.7,645.2 14.5,631.5 18,634.9 23,634 26.5,640.9 29,643.5 31.6,650.3 34.2,645.2 40.2,642.3 45.3,645.2 48.7,644.3 51.3,645.7 54.7,643.5 57.3,645.2 60.7,640.9 65,639.2 69.3,636.6 73.5,638.3 77.8,642.3 82,642.3 85.5,639.2 88,639.2 93.2,644.3 96.6,642.6 99.5,645.7 102.6,640.9 107.7,645.2 113.7,642.3 116.6,637.5 122.3,652 124.8,651.2 128.2,646.9 135,648.6 140.2,647.4 146.2,648.1 150.5,641.3 153,640.9 155.6,642.6 159,640.9 163.3,640 168.4,636.6 174.4,637.1 178.7,631.5 181.3,633.2 184.7,629.8 188,630.6 193.2,640 196.6,640 201,636.6 203.5,640 206.9,641.3 218.9,634 224,633.7 226.6,639.2 232.5,641.8 237.7,644.7 243.7,641.8 249.7,646 253,644 255.6,644.7 258.2,643 263.3,642.6 263.42,641.76 268.55,654.59 275.39,658.86 277.95,653.73 285.65,657.67 289.07,651.17 291.63,651.51 295.05,647.75 297.62,652.54 302.75,649.8 308.73,651.17 312.15,647.41 314.72,646.38 318.14,647.75 320.7,646.38 323.27,646.04 325.83,641.76 328.4,649.8 331.82,650.31 334.38,646.89 336.95,649.46 343.79,646.04 345.5,648.6 348.92,641.76 351.48,638.34 354.05,641.25 357.47,635.78 360.03,636.63 362.6,641.76 366.87,635.44 369.44,633.73 372,634.07 374.57,637.15 377.13,634.41 379.7,637.49 382.26,638.34 388.25,630.99 393.38,628.08 396.8,632.36 400.22,629.79 405.35,628.08 407.91,628.94 413.04,628.43 419.03,630.65 424.16,630.31 427.58,628.6 430.14,623.47 436.13,621.76 438.69,631.5 442.11,639.2 447.24,639.54 450.66,643.47 453.23,642.28 458.36,642.96 461.78,639.54 466.91,642.96 470.33,650.31 475.46,650.31 478.88,652.02 481.79,654.93 484.86,650.31 489.99,648.6 495.12,647.41 502.82,654.25 507.09,654.93 513.08,660.57 515.64,651.51 518.21,652.88 521.29,652.02 522.48,653.73 524.27,655.44 528.55,654.25 531.97,651.51 535.39,654.59 537.95,653.22 543.94,656.3 549.41,658.35 552.15,653.73 554.2,654.59 557.28,647.41 560.18,647.41 563.6,649.8 566.17,647.41 569.25,649.12 574.72,645.7 580.19,646.89 583.27,642.28 585.83,642.28 589.25,640.91 591.82,641.25 595.24,644.33 597.29,643.47 603.79,644.67 608.92,645.18 613.19,642.96 617.13,637.15 620.03,639.54 622.6,640.05 626.87,636.63 631.15,628.6 636.28,626.37 639.7,622.44 645.68,621.76 651.33,640.05 653.72,635.44 659.36,640.57 661.93,639.54 665.35,642.62 671.33,647.75 673.9,644.67 679.03,641.76 685.01,637.15 691,646.89 693.56,643.99 696.13,643.47 698.69,645.7 704.68,638.34 708.1,635.44 710.66,639.2 713.23,635.44 718.36,638.34 722.63,636.63 727.76,637.83 730.67,630.65 732.89,629.79 735.8,623.47 738.88,624.15 741.44,623.81 749.99,620.39 753.41,622.95 756.83,622.95 761.11,624.15 764.53,630.31 767.09,631.5 770,636.63 773.08,634.41 775.64,634.92 778.21,637.15 780,636.63 784.27,634.92 786.84,631.5 792.82,635.44 797.95,637.49 801.37,635.44 803.94,636.12 807.02,633.21 812.49,634.41 815.57,638.86 821.04,633.21 824.46,632.02 826.51,622.95 829.59,627.23 834.72,624.66 838.99,626.37 842.41,621.24 846.69,618.34 850.11,622.95 852.67,628.6 855.24,626.37 857.8,626.37 860.37,628.08 863.79,625.86 866.35,626.37 872.34,633.21 877.47,633.21 880.89,637.83 883.45,636.12 887.73,637.15 892,639.2 894.57,630.65 897.65,629.79 900.55,644.67 903.12,640.05 905.68,643.47 909.96,643.99 915.09,645.7 918.51,645.18 922.27,642.28 925.35,645.7 927.91,645.18 931.33,646.38 934.75,643.99 938.17,645.18 945.01,647.41 951,648.09 957.84,649.8 962.97,650.83 965.53,652.88 968.1,649.8 971.52,653.73 974.08,652.88 976.65,654.59 979.21,653.73 981.78,656.3 984.34,655.44 987.76,658.86 991.18,658.35 993.75,650.83 995.8,650.31 998.88,646.89 1002.3,647.41 1005.72,650.31 1008.28,653.73 1010.51,650.83 1013.41,655.44 1015.98,653.22 1022.82,653.22 1027.95,649.8 1033.08,649.8 1038.21,651.51 1043.34,655.44 1045.9,655.44" stroke="#8e1599" stroke-width="2.6" fill="none" stroke-linejoin="round" stroke-linecap="round" clip-path="url(#crsi)"/>
<text x="15.3" y="64.9" font-size="12.5" fill="#50535e" font-weight="bold" text-anchor="start" textLength="137.4" lengthAdjust="spacingAndGlyphs" >ADA / XBT, 1D, KRAKEN</text>
<g stroke="#4c505c" stroke-width="1" fill="none">
<rect x="6.5" y="43.5" width="1566.0" height="651.0"/>
<line x1="1486.5" y1="43.5" x2="1486.5" y2="694.5"/>
<line x1="6.5" y1="552.5" x2="1572.5" y2="552.5"/>
<line x1="6.5" y1="612.5" x2="1572.5" y2="612.5"/>
<line x1="6.5" y1="665.5" x2="1572.5" y2="665.5"/>
<line x1="1486.5" y1="60.6" x2="1491.0" y2="60.6"/>
<line x1="1486.5" y1="93.4" x2="1491.0" y2="93.4"/>
<line x1="1486.5" y1="126.5" x2="1491.0" y2="126.5"/>
<line x1="1486.5" y1="160.3" x2="1491.0" y2="160.3"/>
<line x1="1486.5" y1="194.4" x2="1491.0" y2="194.4"/>
<line x1="1486.5" y1="228.4" x2="1491.0" y2="228.4"/>
<line x1="1486.5" y1="262.4" x2="1491.0" y2="262.4"/>
<line x1="1486.5" y1="296.6" x2="1491.0" y2="296.6"/>
<line x1="1486.5" y1="332.3" x2="1491.0" y2="332.3"/>
<line x1="1486.5" y1="368.2" x2="1491.0" y2="368.2"/>
<line x1="1486.5" y1="403.3" x2="1491.0" y2="403.3"/>
<line x1="1486.5" y1="439.4" x2="1491.0" y2="439.4"/>
<line x1="1486.5" y1="476.3" x2="1491.0" y2="476.3"/>
<line x1="1486.5" y1="513.3" x2="1491.0" y2="513.3"/>
<line x1="1486.5" y1="546.5" x2="1491.0" y2="546.5"/>
<line x1="1486.5" y1="642.5" x2="1491.0" y2="642.5"/>
<line x1="51.4" y1="665.5" x2="51.4" y2="669.5"/>
<line x1="139.7" y1="665.5" x2="139.7" y2="669.5"/>
<line x1="224.5" y1="665.5" x2="224.5" y2="669.5"/>
<line x1="311.5" y1="665.5" x2="311.5" y2="669.5"/>
<line x1="399.2" y1="665.5" x2="399.2" y2="669.5"/>
<line x1="481.6" y1="665.5" x2="481.6" y2="669.5"/>
<line x1="569.6" y1="665.5" x2="569.6" y2="669.5"/>
<line x1="654.5" y1="665.5" x2="654.5" y2="669.5"/>
<line x1="741.6" y1="665.5" x2="741.6" y2="669.5"/>
<line x1="826.7" y1="665.5" x2="826.7" y2="669.5"/>
<line x1="914.4" y1="665.5" x2="914.4" y2="669.5"/>
<line x1="1002.3" y1="665.5" x2="1002.3" y2="669.5"/>
<line x1="1087.5" y1="665.5" x2="1087.5" y2="669.5"/>
<line x1="1174.6" y1="665.5" x2="1174.6" y2="669.5"/>
<line x1="1259.3" y1="665.5" x2="1259.3" y2="669.5"/>
<line x1="1347.2" y1="665.5" x2="1347.2" y2="669.5"/>
<line x1="1435.6" y1="665.5" x2="1435.6" y2="669.5"/>
</g>
<text x="1495.2" y="64.8" font-size="12" fill="#50535e" font-weight="normal" text-anchor="start" textLength="60.6" lengthAdjust="spacingAndGlyphs" stroke="#50535e" stroke-width="0.15">0.00001700</text>
<text x="1495.2" y="97.6" font-size="12" fill="#50535e" font-weight="normal" text-anchor="start" textLength="60.6" lengthAdjust="spacingAndGlyphs" stroke="#50535e" stroke-width="0.15">0.00001600</text>
<text x="1495.2" y="130.7" font-size="12" fill="#50535e" font-weight="normal" text-anchor="start" textLength="60.6" lengthAdjust="spacingAndGlyphs" stroke="#50535e" stroke-width="0.15">0.00001500</text>
<text x="1495.2" y="164.5" font-size="12" fill="#50535e" font-weight="normal" text-anchor="start" textLength="60.6" lengthAdjust="spacingAndGlyphs" stroke="#50535e" stroke-width="0.15">0.00001400</text>
<text x="1495.2" y="198.6" font-size="12" fill="#50535e" font-weight="normal" text-anchor="start" textLength="60.6" lengthAdjust="spacingAndGlyphs" stroke="#50535e" stroke-width="0.15">0.00001300</text>
<text x="1495.2" y="232.6" font-size="12" fill="#50535e" font-weight="normal" text-anchor="start" textLength="60.6" lengthAdjust="spacingAndGlyphs" stroke="#50535e" stroke-width="0.15">0.00001200</text>
<text x="1495.2" y="266.6" font-size="12" fill="#50535e" font-weight="normal" text-anchor="start" textLength="60.6" lengthAdjust="spacingAndGlyphs" stroke="#50535e" stroke-width="0.15">0.00001100</text>
<text x="1495.2" y="300.8" font-size="12" fill="#50535e" font-weight="normal" text-anchor="start" textLength="60.6" lengthAdjust="spacingAndGlyphs" stroke="#50535e" stroke-width="0.15">0.00001000</text>
<text x="1495.2" y="336.5" font-size="12" fill="#50535e" font-weight="normal" text-anchor="start" textLength="60.6" lengthAdjust="spacingAndGlyphs" stroke="#50535e" stroke-width="0.15">0.00000900</text>
<text x="1495.2" y="372.4" font-size="12" fill="#50535e" font-weight="normal" text-anchor="start" textLength="60.6" lengthAdjust="spacingAndGlyphs" stroke="#50535e" stroke-width="0.15">0.00000800</text>
<text x="1495.2" y="407.5" font-size="12" fill="#50535e" font-weight="normal" text-anchor="start" textLength="60.6" lengthAdjust="spacingAndGlyphs" stroke="#50535e" stroke-width="0.15">0.00000700</text>
<text x="1495.2" y="443.6" font-size="12" fill="#50535e" font-weight="normal" text-anchor="start" textLength="60.6" lengthAdjust="spacingAndGlyphs" stroke="#50535e" stroke-width="0.15">0.00000600</text>
<text x="1495.2" y="480.5" font-size="12" fill="#50535e" font-weight="normal" text-anchor="start" textLength="60.6" lengthAdjust="spacingAndGlyphs" stroke="#50535e" stroke-width="0.15">0.00000500</text>
<text x="1495.2" y="517.5" font-size="12" fill="#50535e" font-weight="normal" text-anchor="start" textLength="60.6" lengthAdjust="spacingAndGlyphs" stroke="#50535e" stroke-width="0.15">0.00000400</text>
<text x="1495.2" y="550.7" font-size="12" fill="#50535e" font-weight="normal" text-anchor="start" textLength="60.6" lengthAdjust="spacingAndGlyphs" stroke="#50535e" stroke-width="0.15">0.00000310</text>
<text x="1495.2" y="646.7" font-size="12" fill="#50535e" font-weight="normal" text-anchor="start" textLength="30" lengthAdjust="spacingAndGlyphs" >50.00</text>
<rect x="1486.5" y="195" width="78.5" height="18.6" fill="#000"/>
<line x1="1487.0" y1="204.3" x2="1491.0" y2="204.3" stroke="#fff" stroke-width="1"/>
<text x="1495.2" y="209.1" font-size="12" fill="#fff" font-weight="normal" text-anchor="start" textLength="60.6" lengthAdjust="spacingAndGlyphs" >0.00001269</text>
<rect x="1486.5" y="280" width="78.5" height="18.7" fill="#ff9800"/>
<line x1="1487.0" y1="289.35" x2="1491.0" y2="289.35" stroke="#000" stroke-width="1"/>
<text x="1495.2" y="294.1" font-size="12" fill="#000" font-weight="normal" text-anchor="start" textLength="60.6" lengthAdjust="spacingAndGlyphs" >0.00001023</text>
<rect x="1486.5" y="323.3" width="78.5" height="18.7" fill="#000"/>
<line x1="1487.0" y1="332.65" x2="1491.0" y2="332.65" stroke="#fff" stroke-width="1"/>
<text x="1495.2" y="336.9" font-size="12" fill="#fff" font-weight="normal" text-anchor="start" textLength="60.6" lengthAdjust="spacingAndGlyphs" >0.00000899</text>
<rect x="1486.5" y="341.4" width="78.5" height="18" fill="#000"/>
<line x1="1487.0" y1="350.4" x2="1491.0" y2="350.4" stroke="#fff" stroke-width="1"/>
<text x="1495.2" y="354.9" font-size="12" fill="#fff" font-weight="normal" text-anchor="start" textLength="60.6" lengthAdjust="spacingAndGlyphs" >0.00000855</text>
<rect x="1486.5" y="359.4" width="78.5" height="17.9" fill="#f44336"/>
<line x1="1487.0" y1="368.35" x2="1491.0" y2="368.35" stroke="#fff" stroke-width="1"/>
<text x="1495.2" y="373" font-size="12" fill="#fff" font-weight="normal" text-anchor="start" textLength="60.6" lengthAdjust="spacingAndGlyphs" >0.00000848</text>
<rect x="1506.1" y="379" width="58.9" height="18.7" fill="#f44336"/>
<text x="1511.2" y="392.7" font-size="12" fill="#fff" font-weight="normal" text-anchor="start" textLength="45.3" lengthAdjust="spacingAndGlyphs" >15:13:04</text>
<rect x="1486.5" y="400" width="78.5" height="18.5" fill="#000"/>
<line x1="1487.0" y1="409.25" x2="1491.0" y2="409.25" stroke="#fff" stroke-width="1"/>
<text x="1495.2" y="414.2" font-size="12" fill="#fff" font-weight="normal" text-anchor="start" textLength="60.6" lengthAdjust="spacingAndGlyphs" >0.00000684</text>
<rect x="1486.5" y="537.4" width="55.200000000000045" height="15.100000000000023" fill="#f44336"/>
<line x1="1487.0" y1="546.5" x2="1491.0" y2="546.5" stroke="#fff"/>
<clipPath id="cv"><rect x="1486.5" y="537" width="90" height="15.5"/></clipPath>
<text x="1495.2" y="551" font-size="12" fill="#fff" font-weight="normal" text-anchor="start" textLength="38" lengthAdjust="spacingAndGlyphs" clip-path="url(#cv)">1.602M</text>
<rect x="1486.5" y="558.4" width="78.5" height="18.1" fill="#b2dfdb"/>
<line x1="1487.0" y1="567.45" x2="1491.0" y2="567.45" stroke="#111" stroke-width="1"/>
<text x="1495.2" y="571.7" font-size="12" fill="#111" font-weight="normal" text-anchor="start" textLength="60.6" lengthAdjust="spacingAndGlyphs" >0.00000000</text>
<rect x="1486.5" y="598.6" width="84.5" height="13.899999999999977" fill="#2196f3"/>
<line x1="1487.0" y1="607.5" x2="1491.0" y2="607.5" stroke="#fff"/>
<clipPath id="cb"><rect x="1486.5" y="598" width="90" height="14.5"/></clipPath>
<text x="1495.2" y="611.2" font-size="12" fill="#fff" font-weight="normal" text-anchor="start" textLength="67.5" lengthAdjust="spacingAndGlyphs" clip-path="url(#cb)">−0.00000054</text>
<rect x="1486.5" y="612.5" width="46.5" height="17.5" fill="#000"/>
<line x1="1487.0" y1="621.25" x2="1491.0" y2="621.25" stroke="#fff" stroke-width="1"/>
<text x="1495.2" y="625.5" font-size="12" fill="#fff" font-weight="normal" text-anchor="start" textLength="29.6" lengthAdjust="spacingAndGlyphs" >85.42</text>
<rect x="1486.5" y="646.3" width="46.5" height="18.5" fill="#8e1599"/>
<line x1="1487.0" y1="655.55" x2="1491.0" y2="655.55" stroke="#fff" stroke-width="1"/>
<text x="1495.2" y="660" font-size="12" fill="#fff" font-weight="normal" text-anchor="start" textLength="29.6" lengthAdjust="spacingAndGlyphs" >31.49</text>
<g stroke="#4c505c" stroke-width="1">
<line x1="1486.5" y1="552.5" x2="1572.5" y2="552.5"/>
<line x1="1486.5" y1="612.5" x2="1572.5" y2="612.5"/>
<line x1="1486.5" y1="665.5" x2="1572.5" y2="665.5"/>
<line x1="1486.5" y1="43.5" x2="1486.5" y2="195"/>
</g>
<rect x="1514" y="50.5" width="30.3" height="18.8" rx="3" fill="#fff" stroke="#d6d9e0" stroke-width="1"/>
<text x="1529.2" y="64" font-size="11.5" fill="#3c3f4a" font-weight="normal" text-anchor="middle" textLength="21.5" lengthAdjust="spacingAndGlyphs" >XBT</text>
<text x="42.4" y="685" font-size="12" fill="#50535e" font-weight="normal" text-anchor="start" textLength="18" lengthAdjust="spacingAndGlyphs" >Okt</text>
<text x="130.05" y="685" font-size="12" fill="#50535e" font-weight="normal" text-anchor="start" textLength="19.3" lengthAdjust="spacingAndGlyphs" >Nov</text>
<text x="215.1" y="685" font-size="12" fill="#50535e" font-weight="normal" text-anchor="start" textLength="18.8" lengthAdjust="spacingAndGlyphs" >Dez</text>
<text x="298" y="685" font-size="12" fill="#50535e" font-weight="bold" text-anchor="start" textLength="27" lengthAdjust="spacingAndGlyphs" >2020</text>
<text x="389.8" y="685" font-size="12" fill="#50535e" font-weight="normal" text-anchor="start" textLength="18.8" lengthAdjust="spacingAndGlyphs" >Feb</text>
<text x="472.45" y="685" font-size="12" fill="#50535e" font-weight="normal" text-anchor="start" textLength="18.3" lengthAdjust="spacingAndGlyphs" >Mrz</text>
<text x="560.6" y="685" font-size="12" fill="#50535e" font-weight="normal" text-anchor="start" textLength="18" lengthAdjust="spacingAndGlyphs" >Apr</text>
<text x="645.8" y="685" font-size="12" fill="#50535e" font-weight="normal" text-anchor="start" textLength="17.4" lengthAdjust="spacingAndGlyphs" >Mai</text>
<text x="732.9" y="685" font-size="12" fill="#50535e" font-weight="normal" text-anchor="start" textLength="17.4" lengthAdjust="spacingAndGlyphs" >Jun</text>
<text x="819.25" y="685" font-size="12" fill="#50535e" font-weight="normal" text-anchor="start" textLength="14.9" lengthAdjust="spacingAndGlyphs" >Jul</text>
<text x="905.15" y="685" font-size="12" fill="#50535e" font-weight="normal" text-anchor="start" textLength="18.5" lengthAdjust="spacingAndGlyphs" >Aug</text>
<text x="993.15" y="685" font-size="12" fill="#50535e" font-weight="normal" text-anchor="start" textLength="18.3" lengthAdjust="spacingAndGlyphs" >Sep</text>
<text x="1078.5" y="685" font-size="12" fill="#50535e" font-weight="normal" text-anchor="start" textLength="18" lengthAdjust="spacingAndGlyphs" >Okt</text>
<text x="1164.95" y="685" font-size="12" fill="#50535e" font-weight="normal" text-anchor="start" textLength="19.3" lengthAdjust="spacingAndGlyphs" >Nov</text>
<text x="1249.9" y="685" font-size="12" fill="#50535e" font-weight="normal" text-anchor="start" textLength="18.8" lengthAdjust="spacingAndGlyphs" >Dez</text>
<text x="1333.95" y="685" font-size="12" fill="#50535e" font-weight="bold" text-anchor="start" textLength="26.5" lengthAdjust="spacingAndGlyphs" >2021</text>
<text x="1426.2" y="685" font-size="12" fill="#50535e" font-weight="normal" text-anchor="start" textLength="18.8" lengthAdjust="spacingAndGlyphs" >Feb</text>
<g transform="translate(5.9,705)">
<g fill="#2196f3"><circle cx="3.7" cy="9.6" r="3.7"/><circle cx="11.1" cy="5.5" r="5.5"/><circle cx="19.6" cy="7.1" r="3"/><circle cx="22.6" cy="11.4" r="3.6"/><rect x="0.9" y="9.6" width="24.4" height="5.4" rx="2.6"/><path d="M3.7,6 L11,5 L19.6,6 L25.4,10 L22,14 L4,14 Z"/></g>
<path d="M0.3,13 L9.9,5.8 L16.1,11.3 L22.6,4.8" stroke="#fff" stroke-width="0.95" fill="none"/>
<circle cx="9.9" cy="5.8" r="1.75" fill="#fff"/><circle cx="16.1" cy="11.3" r="1.8" fill="#fff"/>
</g>
<text x="34.2" y="717.2" font-size="12.5" fill="#131722" font-weight="normal" text-anchor="start" textLength="70.7" lengthAdjust="spacingAndGlyphs" >TradingView</text>
</svg></body></html>
